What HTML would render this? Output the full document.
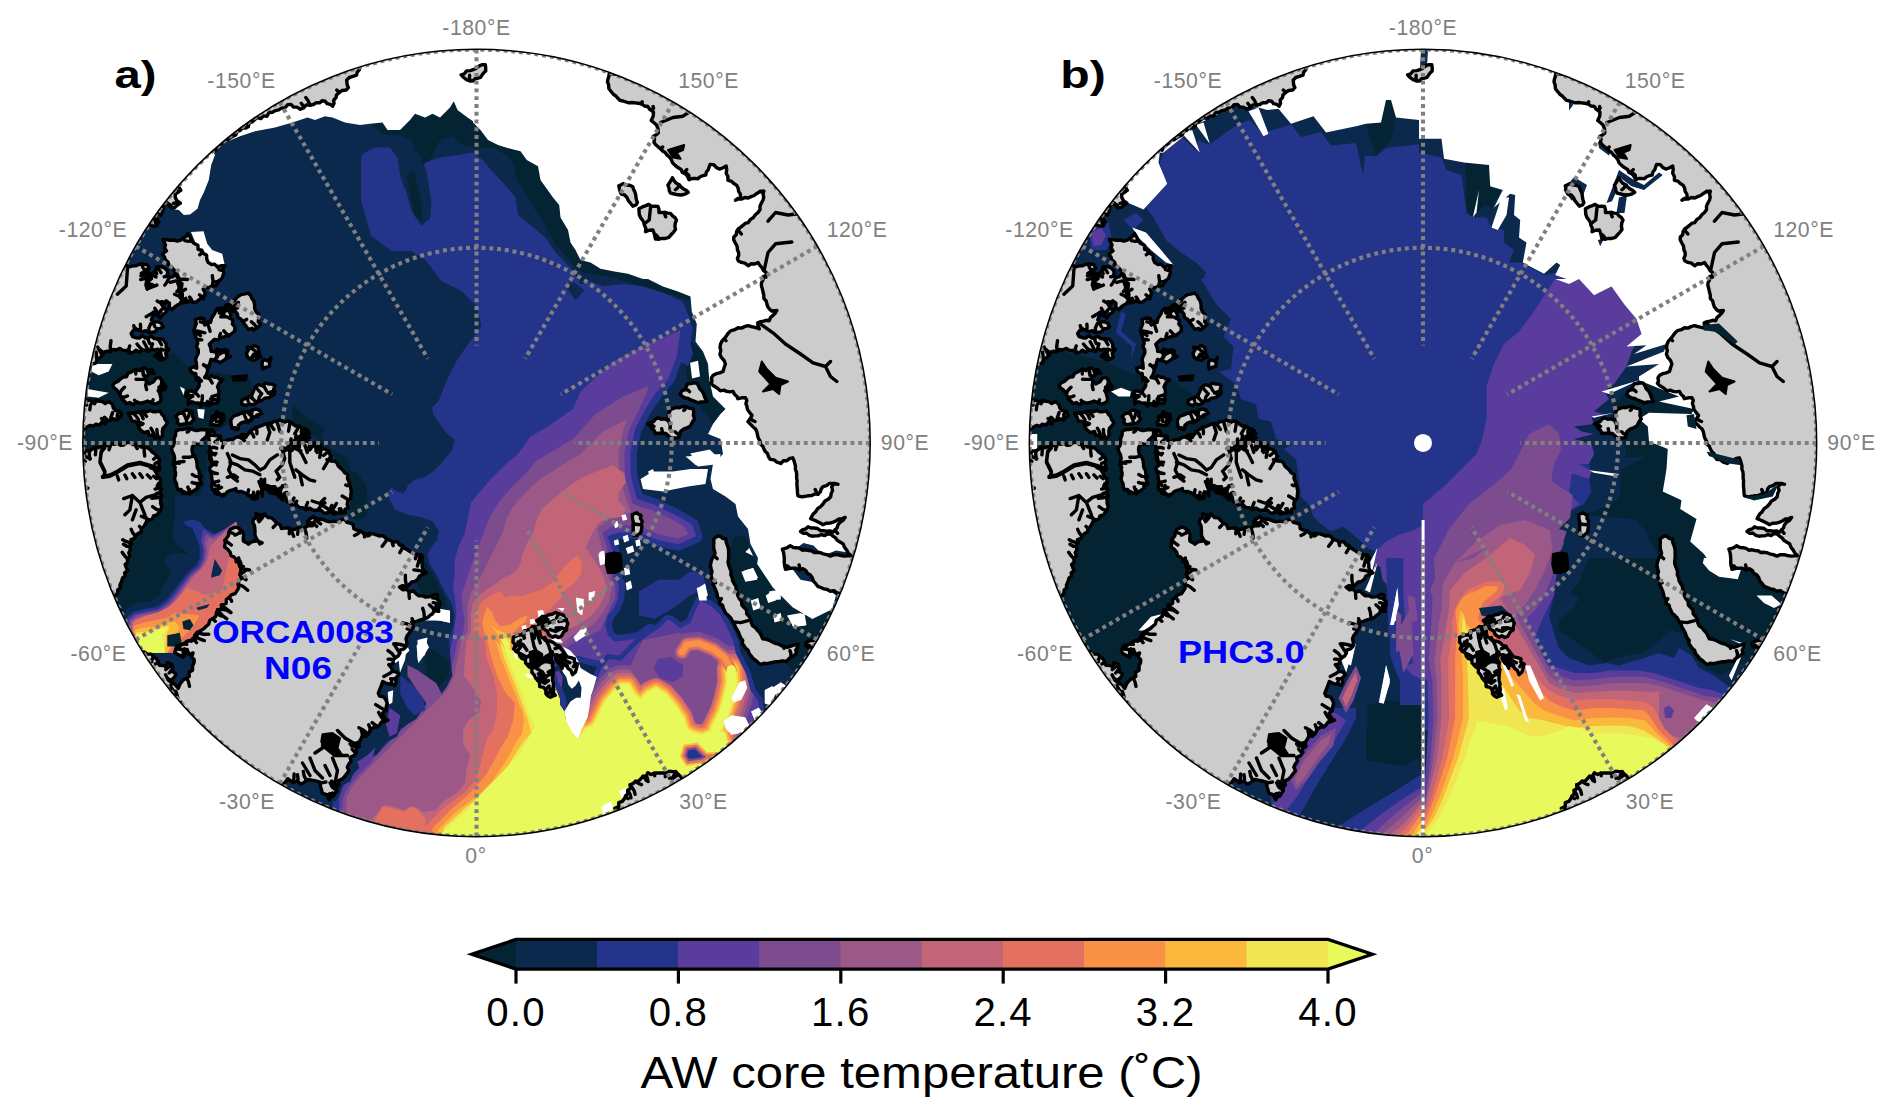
<!DOCTYPE html>
<html><head><meta charset="utf-8"><title>AW core temperature</title>
<style>
html,body{margin:0;padding:0;background:#fff}
body{width:1892px;height:1116px;overflow:hidden;font-family:"Liberation Sans",sans-serif}
svg{display:block}
text{font-family:"Liberation Sans",sans-serif}
.gl{font-size:21.2px;fill:#808080;text-anchor:middle;letter-spacing:0.55px}
.ct{font-size:40.2px;fill:#000;text-anchor:middle;letter-spacing:1.2px}
.cl{font-size:44.2px;fill:#000;text-anchor:middle;letter-spacing:1.45px}
.pl{font-size:38.5px;font-weight:bold;fill:#000}
.bl{font-size:31.6px;font-weight:bold;fill:#0000ff}
</style></head><body>
<svg width="1892" height="1116" viewBox="0 0 1892 1116">
<defs>
<clipPath id="clip0"><circle cx="476.5" cy="443.0" r="393.4"/></clipPath>
<clipPath id="clip1"><circle cx="1423.0" cy="443.0" r="393.4"/></clipPath>
</defs>
<rect width="1892" height="1116" fill="#fff"/>
<g clip-path="url(#clip0)">
<rect x="76" y="40" width="800" height="810" fill="#fff"/>
<path d="M60.0 30.0 L900.0 30.0 L900.0 860.0 L60.0 860.0Z" fill="#0a294d"/>
<path d="M370.0 123.8 L382.5 122.5 L387.5 130.0 L400.0 130.0 L410.0 120.0 L415.0 113.8 L425.0 117.5 L432.5 113.8 L440.0 117.5 L450.0 107.5 L453.8 101.2 L457.5 110.0 L467.5 117.5 L473.0 121.2 L473.0 147.5 L462.5 145.0 L452.5 136.2 L440.0 140.0 L430.0 160.0 L425.0 172.5 L412.5 170.0 L415.0 155.0 L412.5 140.0 L400.0 135.0 L382.5 135.0 L375.0 127.5Z" fill="#042333"/>
<path d="M473.0 121.2 L480.5 130.0 L488.0 140.0 L498.0 145.0 L510.5 148.8 L520.5 151.2 L526.8 160.0 L538.0 166.2 L540.5 180.0 L553.0 197.5 L559.2 205.0 L560.5 217.5 L568.0 230.0 L570.5 242.5 L575.5 250.0 L580.5 260.0 L590.5 262.5 L600.5 268.8 L613.0 271.2 L628.0 273.8 L643.0 279.0 L663.0 286.5 L678.0 291.5 L690.5 296.5 L688.0 300.0 L648.0 287.5 L613.0 277.5 L583.0 272.5 L573.0 265.0 L568.0 257.5 L555.5 245.0 L545.5 225.0 L536.8 212.5 L528.0 197.5 L516.8 180.0 L514.2 165.0 L508.0 156.2 L493.0 147.5 L473.0 147.5Z" fill="#042333"/>
<path d="M159.8 495.5 L174.8 503.0 L174.8 515.5 L172.3 534.2 L176.0 544.2 L183.5 549.2 L188.5 554.1 L177.3 552.9 L166.1 556.6 L163.6 562.9 L171.1 570.4 L168.6 577.8 L162.3 587.8 L159.8 595.3 L149.9 601.5 L136.1 602.8 L127.4 609.0 L123.7 615.3 L104.9 602.8 L104.9 495.5Z" fill="#042333"/>
<path d="M75.0 349.0 L120.0 346.5 L175.0 354.0 L190.0 369.0 L225.0 374.0 L250.0 379.0 L252.5 399.0 L240.0 419.0 L220.0 429.0 L205.0 439.0 L207.5 454.0 L205.0 479.0 L200.0 496.5 L175.0 499.0 L172.5 529.0 L150.0 554.0 L125.0 558.0 L75.0 558.0Z" fill="#042333"/>
<path d="M292.5 405.0 L309.9 420.0 L324.9 428.7 L321.2 437.4 L332.4 449.9 L347.4 458.6 L349.9 469.9 L357.3 472.3 L366.1 486.1 L367.3 499.8 L367.3 514.8 L359.8 521.0 L349.9 517.3 L351.1 494.8 L347.4 474.8 L329.9 451.1 L314.9 436.2 L292.5 424.9Z" fill="#042333"/>
<path d="M690.5 341.5 L705.5 354.0 L709.2 379.0 L713.0 396.5 L725.5 409.0 L713.0 424.0 L698.0 404.0 L688.0 384.0 L685.5 361.5Z" fill="#042333"/>
<path d="M365.0 152.5 L375.0 147.5 L390.0 147.5 L397.5 157.5 L400.0 175.0 L405.0 190.0 L410.0 180.0 L420.0 175.0 L425.0 162.5 L440.0 157.5 L457.5 155.0 L473.0 152.5 L473.0 153.8 L483.0 160.0 L493.0 172.5 L503.0 182.5 L515.5 197.5 L518.0 215.0 L530.5 225.0 L545.5 237.5 L555.5 252.5 L570.5 267.5 L578.0 279.0 L580.5 284.0 L590.5 281.5 L603.0 286.5 L623.0 284.0 L643.0 286.5 L663.0 292.8 L683.0 301.5 L688.0 314.0 L693.0 329.0 L690.5 344.0 L693.0 354.0 L688.0 366.5 L680.5 361.5 L660.0 400.0 L600.0 480.0 L540.0 600.0 L560.0 900.0 L500.0 900.0 L368.1 837.1 L371.7 819.2 L389.6 801.3 L443.3 657.9 L448.7 640.0 L451.6 631.3 L453.2 624.8 L454.8 615.2 L451.6 603.9 L445.2 592.6 L440.3 582.9 L435.5 573.2 L429.0 563.5 L427.4 553.9 L430.6 547.4 L437.1 539.4 L438.7 531.3 L432.3 521.6 L419.4 516.8 L409.7 515.2 L394.8 509.8 L389.8 499.8 L387.0 492.3 L391.0 487.3 L396.0 491.0 L403.5 493.6 L407.5 487.5 L407.0 486.0 L414.7 479.8 L424.7 477.3 L434.7 469.9 L442.0 462.4 L452.0 450.0 L454.6 440.0 L447.0 433.7 L439.7 423.7 L433.4 415.0 L432.0 407.5 L439.7 400.0 L436.3 406.4 L446.4 381.3 L456.4 361.3 L466.4 346.2 L481.5 326.1 L476.5 306.1 L461.4 291.0 L441.3 281.0 L426.3 260.9 L411.2 250.9 L391.2 250.9 L371.1 235.8 L361.1 200.7 L361.1 155.5Z" fill="#25348b"/>
<path d="M401.2 165.6 L406.2 150.5 L418.8 153.0 L426.3 170.6 L431.3 200.7 L430.3 218.3 L421.3 225.8 L411.2 210.7 L406.2 190.7Z" fill="#0a294d"/>
<path d="M406.2 175.6 L413.7 170.6 L421.3 200.7 L422.3 220.8 L415.2 215.8 L411.2 200.7Z" fill="#042333"/>
<path d="M565.5 286.5 L573.0 281.5 L584.2 290.2 L575.5 300.2Z" fill="#0a294d"/>
<path d="M686.9 331.1 L686.6 327.9 L684.7 325.3 L681.8 323.9 L678.6 324.0 L645.1 338.2 L609.1 356.3 L575.6 387.2 L567.8 404.7 L544.5 421.0 L526.1 431.7 L513.2 449.5 L503.4 457.4 L485.7 475.1 L465.6 498.6 L464.6 501.0 L458.3 532.4 L453.2 542.6 L453.2 663.5 L440.2 663.5 L437.3 673.4 L430.8 686.3 L356.3 760.8 L337.3 783.8 L332.9 797.4 L332.0 818.8 L329.3 855.2 L330.2 858.2 L332.4 860.5 L498.8 906.4 L560.0 906.5 L563.1 905.7 L565.4 903.6 L566.5 900.0 L566.5 699.4 L553.9 666.8 L577.4 662.0 L595.5 666.8 L614.7 665.7 L619.4 666.8 L622.1 666.6 L656.8 645.5 L658.4 643.7 L661.2 638.2 L661.9 634.6 L660.8 631.6 L654.6 625.3 L651.2 623.8 L648.7 624.0 L647.0 624.7 L637.7 631.7 L626.9 633.9 L616.5 634.8 L613.6 632.0 L611.9 625.2 L613.7 618.2 L619.7 610.8 L624.0 600.8 L625.5 585.0 L624.9 582.4 L621.6 576.8 L619.6 551.0 L615.8 540.3 L620.2 538.9 L637.6 538.9 L656.7 546.5 L678.3 550.7 L680.9 550.1 L699.3 542.0 L701.2 540.3 L702.1 538.6 L702.5 536.1 L702.2 534.3 L698.3 522.4 L696.7 519.9 L677.5 508.9 L657.5 498.9 L642.2 493.8 L637.4 476.2 L636.7 454.0 L641.1 432.0 L650.5 413.3 L659.9 398.2 L674.3 381.4 L683.4 356.5 L686.9 331.1Z" fill="#25348b"/>
<path d="M680.5 330.2 L648.0 344.0 L613.0 361.5 L580.5 391.5 L573.0 409.0 L548.0 426.5 L530.5 436.5 L518.0 454.0 L508.0 462.0 L490.3 479.7 L471.0 502.3 L464.5 534.5 L458.1 547.4 L454.8 560.3 L454.8 573.2 L453.2 586.1 L456.5 611.9 L453.2 637.7 L452.3 640.0 L448.7 657.9 L443.3 675.8 L436.2 690.2 L360.9 765.4 L343.0 786.9 L339.4 797.7 L338.5 819.2 L335.8 855.0 L500.0 900.0 L560.0 900.0 L560.0 700.0 L545.0 662.0 L577.6 655.4 L596.5 660.4 L615.3 659.1 L620.3 660.4 L627.8 655.4 L652.9 640.3 L655.4 635.3 L650.4 630.3 L640.4 637.8 L627.8 640.3 L614.0 641.6 L607.8 635.3 L605.2 625.2 L607.8 615.2 L614.0 607.7 L617.8 598.9 L619.0 585.1 L615.3 578.8 L613.2 552.1 L607.3 536.3 L619.1 532.4 L638.9 532.4 L658.6 540.3 L678.3 544.2 L696.0 536.3 L692.1 524.5 L674.4 514.6 L654.6 504.8 L636.9 498.8 L631.0 477.2 L630.2 453.5 L634.9 429.8 L644.8 410.1 L654.6 394.4 L668.4 378.6 L677.1 354.9 L680.5 330.2Z" fill="#5a3c9c"/>
<path d="M648.0 386.5 L623.0 396.5 L595.5 414.0 L573.0 439.0 L535.5 461.5 L529.0 470.0 L519.4 479.7 L509.7 489.4 L500.0 500.6 L490.3 515.2 L485.5 528.1 L480.6 541.0 L475.8 553.9 L471.0 566.8 L467.7 576.5 L464.5 586.1 L461.3 595.8 L462.9 608.7 L464.5 621.6 L462.9 634.5 L457.7 640.0 L454.1 657.9 L448.7 675.8 L441.6 690.2 L430.8 700.9 L420.1 711.7 L409.3 722.4 L398.5 733.2 L387.8 743.9 L377.0 754.7 L366.3 765.4 L357.3 776.2 L348.4 786.9 L343.0 797.7 L342.1 819.2 L339.4 855.0 L500.0 900.0 L560.0 900.0 L560.0 700.0 L545.0 662.0 L577.6 640.3 L590.2 635.3 L600.2 630.3 L605.2 619.0 L610.3 607.7 L615.3 597.6 L615.3 585.1 L612.1 577.6 L608.1 552.1 L602.6 532.4 L615.2 524.5 L638.9 526.5 L658.6 534.3 L678.3 538.3 L688.2 534.3 L684.2 526.5 L670.4 518.6 L652.7 510.7 L632.9 504.0 L625.1 477.2 L624.3 453.5 L629.0 429.8 L638.9 410.1 L647.5 390.4Z" fill="#7c4c8f"/>
<path d="M628.0 419.0 L603.0 431.5 L580.5 454.0 L555.5 469.0 L554.8 470.0 L541.9 478.1 L532.3 486.1 L522.6 495.8 L512.9 507.1 L506.5 518.4 L503.2 531.3 L496.8 544.2 L490.3 557.1 L485.5 566.8 L480.6 576.5 L475.8 586.1 L471.0 592.6 L467.7 603.9 L467.7 615.2 L467.7 631.3 L461.3 640.0 L457.7 657.9 L454.1 675.8 L446.9 690.2 L436.2 700.9 L425.4 711.7 L414.7 722.4 L403.9 733.2 L393.2 743.9 L382.4 754.7 L371.7 765.4 L360.9 776.2 L352.0 786.9 L346.6 797.7 L346.6 819.2 L344.8 855.0 L500.0 900.0 L560.0 900.0 L560.0 700.0 L545.0 662.0 L571.4 635.3 L583.9 630.3 L595.2 622.7 L602.7 612.7 L609.0 601.4 L611.5 588.9 L609.6 578.8 L602.6 552.1 L597.5 528.4 L611.3 516.6 L631.0 512.6 L627.0 500.8 L619.1 477.2 L618.4 453.5 L623.1 429.8 L627.0 420.0Z" fill="#9c5987"/>
<path d="M613.0 465.2 L600.0 470.0 L583.9 476.5 L571.0 484.5 L561.3 492.6 L551.6 500.6 L541.9 508.7 L537.1 518.4 L533.9 531.3 L527.4 542.6 L522.6 553.9 L519.4 566.8 L512.9 573.2 L503.2 578.1 L496.8 582.9 L487.1 589.4 L479.0 595.8 L472.6 603.9 L471.0 615.2 L471.0 631.3 L466.6 640.0 L464.8 657.9 L463.9 675.8 L472.0 686.6 L481.0 700.9 L479.2 711.7 L468.4 720.6 L463.1 729.6 L463.1 743.9 L470.2 754.7 L466.6 769.0 L464.8 783.3 L457.7 792.3 L448.7 797.7 L443.3 801.3 L436.2 810.2 L423.6 812.0 L414.7 806.6 L403.9 810.2 L393.2 806.6 L384.2 804.8 L378.8 812.0 L371.7 819.2 L368.1 855.0 L500.0 900.0 L560.0 900.0 L560.0 700.0 L545.0 662.0 L565.1 630.3 L577.6 625.2 L590.2 616.5 L599.0 606.4 L605.2 595.1 L606.5 585.1 L602.7 575.1 L599.0 567.5 L594.0 560.0 L585.5 547.4 L590.3 537.7 L593.5 531.3 L600.0 521.6 L609.7 518.4 L622.6 516.8 L625.8 508.7 L617.7 500.6 L619.4 491.0 L625.8 482.9 L624.2 473.2Z" fill="#c26579"/>
<path d="M577.4 555.5 L571.0 560.3 L564.5 566.8 L558.1 574.8 L551.6 582.9 L541.9 589.4 L532.3 592.6 L522.6 595.8 L512.9 595.8 L504.8 597.4 L500.0 591.0 L493.5 594.2 L485.5 599.0 L479.0 605.5 L474.2 615.2 L474.2 631.3 L484.6 640.0 L486.3 657.9 L493.5 675.8 L497.1 693.8 L497.1 711.7 L493.5 729.6 L486.3 740.3 L482.8 754.7 L479.2 769.0 L473.8 781.6 L464.8 792.3 L452.3 801.3 L443.3 808.4 L432.6 819.2 L425.4 826.3 L418.3 855.0 L500.0 900.0 L560.0 900.0 L560.0 700.0 L545.0 662.0 L545.2 611.9 L550.0 610.3 L554.8 603.9 L561.3 597.4 L566.1 589.4 L574.2 582.9 L580.6 574.8 L582.3 563.5Z" fill="#e47160"/>
<path d="M382.4 806.6 L393.2 808.4 L403.9 812.0 L411.1 806.6 L418.3 810.2 L425.4 819.2 L425.4 855.0 L371.7 855.0 L375.3 819.2Z" fill="#e47160"/>
<path d="M487.1 607.1 L483.9 615.2 L482.3 623.2 L483.9 631.3 L487.1 639.4 L490.3 650.0 L486.3 640.0 L491.7 657.9 L497.1 675.8 L506.1 693.8 L515.0 702.7 L513.2 720.6 L507.8 736.8 L500.7 747.5 L493.5 761.8 L486.3 774.4 L475.6 786.9 L464.8 797.7 L454.1 806.6 L443.3 817.4 L432.6 828.1 L425.4 855.0 L500.0 900.0 L560.0 900.0 L560.0 700.0 L545.0 662.0 L512.9 650.0 L512.9 632.9 L519.4 626.5 L525.8 621.6 L527.4 615.2 L519.4 618.4 L509.7 624.8 L500.0 626.5 L495.2 620.0 L491.9 611.9Z" fill="#f99146"/>
<path d="M490.3 624.8 L495.2 631.3 L500.0 637.7 L503.2 650.0 L495.3 640.0 L500.7 657.9 L507.8 675.8 L515.0 693.8 L522.2 711.7 L524.0 720.6 L522.2 733.2 L515.0 743.9 L509.6 754.7 L500.7 769.0 L491.7 781.6 L481.0 792.3 L470.2 801.3 L457.7 810.2 L446.9 821.0 L438.0 829.9 L432.6 855.0 L500.0 900.0 L560.0 900.0 L560.0 700.0 L545.0 662.0 L511.3 650.0 L511.3 636.1 L504.8 632.9 L496.8 629.7Z" fill="#fbb93c"/>
<path d="M499.2 637.7 L503.2 644.2 L505.6 650.0 L498.9 640.0 L504.3 657.9 L511.4 675.8 L518.6 693.8 L524.9 711.7 L529.3 724.2 L531.1 733.2 L523.1 742.1 L515.9 752.9 L507.0 767.2 L498.0 778.9 L487.2 790.5 L476.5 799.5 L464.8 808.4 L454.1 818.3 L444.2 827.2 L437.1 855.0 L500.0 900.0 L560.0 900.0 L560.0 700.0 L545.0 662.0 L510.5 650.0 L509.7 639.4 L504.8 637.7Z" fill="#f0e552"/>
<path d="M501.6 641.0 L504.8 645.8 L507.3 650.0 L502.5 640.0 L507.8 657.9 L515.0 675.8 L522.2 693.8 L527.6 711.7 L534.7 726.0 L540.1 733.2 L531.1 740.3 L522.2 751.1 L513.2 765.4 L504.3 776.2 L493.5 788.7 L482.8 797.7 L472.0 806.6 L461.3 815.6 L450.5 824.6 L441.6 833.5 L438.0 855.0 L500.0 900.0 L560.0 900.0 L560.0 700.0 L545.0 662.0 L509.7 650.0 L508.1 641.0 L504.8 639.4Z" fill="#e8fa5b"/>
<path d="M597.1 665.9 L592.0 678.8 L592.0 722.0 L765.2 722.0 L762.9 699.1 L755.2 688.6 L750.3 671.5 L740.4 651.6 L737.9 639.2 L733.0 628.3 L724.1 612.1 L713.7 601.7 L701.8 595.7 L698.9 595.8 L696.3 597.9 L691.0 608.4 L686.5 619.5 L680.9 622.3 L672.5 616.1 L667.5 615.0 L664.7 615.8 L656.5 623.9 L645.2 631.4 L635.1 639.4 L619.1 655.5 L609.5 653.9 L607.5 654.1 L605.9 655.1 L597.1 665.9Z" fill="#25348b"/>
<path d="M638.9 591.5 L658.6 579.7 L678.3 579.7 L690.1 571.8 L702.0 571.8 L706.7 587.6 L690.1 595.5 L674.4 607.3 L654.6 619.1 L638.9 615.2Z" fill="#25348b"/>
<path d="M589.7 701.7 L521.6 756.1 L473.0 806.7 L473.0 853.3 L745.2 853.3 L725.8 744.4 L760.8 728.9 L758.2 700.9 L750.7 690.9 L745.6 673.3 L735.6 653.2 L733.1 640.7 L728.6 630.7 L720.6 615.6 L710.5 605.6 L700.5 600.6 L695.5 610.6 L690.5 623.1 L680.4 628.2 L670.4 620.6 L667.4 620.0 L659.7 627.8 L648.0 635.6 L638.3 643.3 L620.8 660.8 L609.1 658.9 L601.3 668.6 L597.4 678.3 L589.7 701.7Z" fill="#5a3c9c"/>
<path d="M718.3 638.9 L700.8 632.1 L697.6 631.9 L684.8 633.0 L680.4 634.8 L677.8 637.2 L672.3 646.0 L670.9 649.1 L670.6 653.6 L672.0 657.8 L675.0 661.2 L679.0 663.2 L683.5 663.5 L686.7 662.6 L690.4 660.0 L693.6 655.3 L696.8 655.0 L707.4 659.3 L709.4 660.7 L707.7 667.8 L708.2 680.5 L705.8 691.8 L701.9 704.5 L699.9 708.5 L689.8 693.4 L678.6 680.2 L675.3 677.6 L663.9 670.9 L660.3 669.6 L654.6 669.1 L649.0 670.3 L643.8 672.8 L641.1 669.9 L637.9 667.6 L632.4 665.6 L628.6 665.2 L617.1 665.5 L611.8 667.4 L608.7 669.5 L599.6 678.5 L595.9 682.9 L589.7 701.7 L521.6 756.1 L473.0 806.7 L473.0 853.3 L745.2 853.3 L725.8 744.4 L756.3 730.9 L742.4 728.9 L746.4 720.4 L751.5 704.0 L753.5 694.6 L750.7 690.9 L745.6 673.3 L735.6 653.2 L734.2 646.2 L728.3 646.2 L718.3 638.9Z" fill="#7c4c8f"/>
<path d="M716.5 642.5 L700.0 636.0 L685.5 636.9 L682.7 638.1 L681.0 639.7 L674.8 650.1 L674.6 653.0 L675.5 655.8 L677.4 658.0 L680.1 659.3 L683.7 659.4 L686.4 658.2 L688.0 656.7 L691.3 651.5 L697.4 651.0 L709.4 655.8 L714.4 659.5 L712.9 662.5 L711.9 666.2 L711.6 670.1 L712.3 680.8 L709.7 692.8 L705.6 706.0 L699.3 718.6 L696.2 710.0 L686.7 696.0 L675.9 683.1 L663.5 675.2 L659.3 673.5 L656.3 673.1 L653.3 673.3 L650.4 674.0 L642.3 678.0 L638.5 672.9 L634.6 670.4 L631.6 669.5 L619.3 669.2 L613.7 670.9 L610.2 673.6 L602.4 681.3 L593.5 692.3 L592.0 694.5 L589.7 701.7 L587.6 703.3 L582.4 713.8 L580.4 714.8 L579.4 709.9 L521.6 756.1 L473.0 806.7 L473.0 853.3 L745.2 853.3 L725.8 744.4 L749.2 734.0 L739.3 732.7 L738.2 728.5 L742.5 719.2 L747.6 702.9 L750.4 689.9 L745.6 673.3 L735.6 653.2 L735.0 650.4 L731.2 650.0 L727.3 650.4 L716.5 642.5Z" fill="#9c5987"/>
<path d="M714.9 645.6 L699.3 639.4 L686.1 640.4 L683.7 641.8 L678.1 651.4 L678.2 653.4 L679.3 655.0 L681.0 655.9 L682.9 656.0 L685.2 654.5 L689.2 648.1 L697.9 647.4 L711.2 652.7 L719.3 658.8 L716.8 662.4 L715.4 666.9 L715.1 670.0 L715.8 681.0 L713.1 693.7 L708.8 707.3 L701.2 722.7 L696.5 721.5 L692.6 710.8 L684.1 698.2 L674.3 686.5 L671.4 684.0 L661.7 678.2 L657.4 676.7 L652.8 676.9 L641.1 682.7 L637.0 676.4 L634.2 674.2 L632.0 673.2 L628.6 672.7 L620.8 672.7 L617.4 673.2 L615.4 674.0 L612.6 676.0 L604.9 683.8 L595.5 695.5 L585.0 716.4 L578.4 720.1 L577.4 717.7 L576.3 712.3 L521.6 756.1 L473.0 806.7 L473.0 853.3 L745.2 853.3 L725.8 744.4 L743.1 736.8 L736.5 735.9 L734.4 728.2 L738.9 718.9 L744.1 702.6 L747.7 685.6 L748.1 681.8 L745.6 673.3 L736.1 654.3 L731.2 653.5 L726.5 654.2 L714.9 645.6Z" fill="#c26579"/>
<path d="M725.8 657.7 L713.6 648.3 L698.7 642.3 L686.4 643.4 L681.1 651.7 L681.5 652.9 L682.8 652.8 L687.5 645.3 L698.4 644.3 L712.6 650.0 L724.0 658.6 L720.8 661.6 L718.6 666.2 L718.1 670.0 L718.8 681.2 L716.0 694.5 L711.6 708.4 L703.5 725.1 L701.6 725.9 L696.0 724.8 L694.0 723.4 L690.5 713.1 L681.7 700.1 L671.4 687.8 L660.1 680.8 L656.1 679.6 L652.8 680.1 L643.4 684.8 L640.4 687.5 L635.4 679.1 L632.0 676.4 L629.4 675.7 L619.9 675.7 L617.5 676.3 L615.4 677.6 L606.4 686.6 L598.1 697.1 L587.2 718.7 L580.5 722.2 L577.6 725.8 L574.5 718.6 L573.7 714.5 L521.6 756.1 L473.0 806.7 L473.0 853.3 L745.2 853.3 L725.8 744.4 L737.8 739.1 L734.1 738.6 L732.1 730.7 L731.0 728.3 L736.1 717.9 L741.5 700.5 L745.0 683.4 L744.4 670.9 L738.3 658.5 L735.9 657.3 L732.6 656.6 L728.7 656.7 L725.8 657.7Z" fill="#e47160"/>
<path d="M691.9 725.0 L688.0 713.9 L679.8 701.7 L668.6 688.7 L658.3 682.6 L655.4 682.1 L653.1 682.7 L644.8 686.9 L640.2 691.2 L639.1 690.2 L633.4 680.6 L631.5 678.9 L628.6 678.2 L620.2 678.2 L617.9 678.9 L608.8 687.7 L600.2 698.4 L589.1 720.5 L582.1 724.2 L577.2 730.7 L572.1 719.3 L571.5 716.2 L521.6 756.1 L473.0 806.7 L473.0 853.3 L745.2 853.3 L725.8 744.4 L733.4 741.1 L732.2 740.9 L729.5 730.8 L728.1 728.5 L733.9 716.5 L739.0 700.3 L742.5 683.7 L741.5 667.2 L739.8 663.4 L737.2 660.8 L732.9 659.1 L728.8 659.3 L724.6 661.3 L721.7 664.9 L720.6 669.5 L721.3 681.4 L718.4 695.1 L714.0 709.4 L706.6 724.1 L705.6 727.0 L701.9 728.5 L695.1 727.1 L691.9 725.0Z" fill="#f99146"/>
<path d="M690.1 726.4 L686.2 715.1 L678.1 703.1 L667.4 690.6 L657.4 684.6 L655.2 684.3 L645.9 688.7 L640.2 694.3 L637.4 691.5 L630.8 681.1 L628.6 680.4 L620.8 680.4 L619.0 680.8 L610.3 689.3 L602.0 699.6 L590.7 722.2 L583.2 726.1 L577.8 733.6 L575.2 732.1 L570.0 720.0 L569.5 717.8 L521.6 756.1 L473.0 806.7 L473.0 853.3 L745.2 853.3 L725.8 744.4 L730.4 742.4 L727.4 731.5 L726.7 730.2 L725.3 729.3 L731.8 715.8 L736.9 699.7 L740.3 683.4 L739.5 668.1 L738.3 665.0 L736.3 662.9 L733.0 661.4 L729.3 661.4 L726.0 663.0 L723.5 666.3 L722.8 669.5 L723.5 681.6 L720.6 695.6 L716.0 710.2 L708.5 725.3 L707.7 728.5 L702.1 730.8 L694.2 729.2 L690.1 726.4Z" fill="#fbb93c"/>
<path d="M688.4 727.7 L684.5 716.2 L676.6 704.4 L666.4 692.3 L656.7 686.5 L655.5 686.3 L647.0 690.4 L640.2 697.2 L635.8 692.8 L629.6 682.7 L628.6 682.4 L619.9 682.6 L611.7 690.7 L603.7 700.7 L592.2 723.7 L584.5 727.6 L578.4 736.2 L573.6 733.5 L567.8 719.2 L521.6 756.1 L473.0 806.7 L473.0 853.3 L745.2 853.3 L725.8 744.4 L728.6 743.2 L725.5 732.0 L724.5 731.1 L722.3 730.7 L729.9 715.3 L734.8 699.6 L738.3 683.6 L737.5 668.5 L736.7 666.3 L735.0 664.4 L732.6 663.3 L729.5 663.4 L726.9 664.8 L725.2 667.4 L724.8 669.9 L725.6 681.7 L722.5 696.2 L717.9 710.9 L710.1 726.5 L709.7 729.9 L702.3 732.8 L693.4 731.1 L688.4 727.7Z" fill="#f0e552"/>
<path d="M729.3 654.8 L715.6 644.3 L699.1 637.9 L686.4 638.8 L683.8 639.8 L682.2 641.4 L677.4 649.2 L676.5 651.7 L676.8 653.8 L677.9 655.7 L679.6 657.0 L681.6 657.6 L683.8 657.3 L685.6 656.2 L690.1 649.6 L697.7 648.9 L710.4 654.0 L720.6 661.6 L727.4 673.5 L729.2 674.7 L731.8 675.0 L733.9 674.4 L735.5 673.0 L736.5 671.1 L736.7 669.0 L736.0 666.9 L729.3 654.8Z" fill="#e47160"/>
<path d="M727.4 656.1 L714.6 646.3 L698.9 640.1 L685.4 641.5 L684.2 642.6 L679.3 650.4 L678.8 651.9 L679.0 653.1 L679.8 654.4 L681.2 655.2 L682.7 655.2 L684.6 654.0 L688.7 647.4 L698.1 646.6 L711.6 652.0 L722.3 660.1 L728.8 671.6 L730.3 672.7 L732.2 672.6 L734.1 671.1 L734.3 668.6 L727.4 656.1Z" fill="#f99146"/>
<path d="M629.7 668.5 L634.0 675.8 L636.6 678.2 L640.7 685.1 L643.5 683.0 L651.3 679.1 L656.1 678.1 L660.1 679.0 L671.5 685.9 L682.9 699.2 L691.3 711.7 L695.3 722.5 L696.6 723.4 L699.8 724.0 L702.0 724.0 L702.6 723.3 L710.2 707.9 L714.5 694.1 L717.3 681.1 L716.7 668.6 L717.3 665.3 L718.4 662.5 L709.4 655.8 L697.4 651.0 L691.3 651.5 L687.5 657.2 L684.4 659.2 L682.3 659.6 L680.1 659.3 L676.9 657.6 L674.9 654.5 L674.6 650.8 L675.6 648.1 L680.5 640.3 L682.1 638.5 L684.1 637.4 L690.4 636.5 L679.0 632.7 L642.8 640.3 L635.3 655.4 L629.7 668.5Z" fill="#7c4c8f"/>
<path d="M657.7 658.9 L653.8 668.6 L659.7 678.3 L673.3 682.2 L683.0 676.4 L683.0 664.7 L671.3 656.9 L657.7 658.9Z" fill="#5a3c9c"/>
<path d="M728.2 714.7 L733.2 698.7 L736.6 682.4 L735.7 668.4 L734.3 666.1 L731.8 665.0 L728.8 665.7 L726.9 668.1 L726.6 669.9 L727.4 681.9 L724.2 696.6 L719.5 711.6 L711.8 727.2 L711.5 729.0 L711.9 730.9 L702.4 734.7 L692.7 732.8 L686.9 728.9 L683.0 717.2 L675.2 705.6 L665.5 693.9 L655.8 688.1 L648.0 691.9 L640.2 699.7 L634.4 693.9 L628.6 684.2 L620.8 684.2 L613.0 691.9 L605.2 701.7 L593.6 725.0 L585.8 728.9 L579.0 738.6 L572.2 734.7 L566.3 721.1 L564.4 711.4 L560.5 705.6 L546.6 694.2 L547.6 697.6 L534.5 727.5 L519.2 754.3 L470.3 805.3 L470.0 806.7 L470.0 853.3 L803.5 853.3 L803.5 756.1 L727.7 746.4 L723.8 732.8 L719.4 732.0 L728.2 714.7Z" fill="#e8fa5b"/>
<path d="M684.6 744.4 L683.1 745.6 L680.0 756.3 L685.2 764.9 L686.4 765.8 L703.1 763.8 L717.0 755.9 L718.0 754.7 L717.7 753.0 L716.4 752.2 L707.2 752.2 L697.2 742.5 L684.6 744.4Z" fill="#fbb93c"/>
<path d="M684.9 746.4 L682.0 756.1 L686.9 763.9 L702.4 761.9 L716.0 754.2 L706.3 754.2 L696.6 744.4 L684.9 746.4Z" fill="#e47160"/>
<path d="M686.9 748.6 L684.7 755.7 L688.2 761.2 L701.6 759.5 L706.6 756.7 L704.7 756.1 L695.7 747.1 L686.9 748.6Z" fill="#7c4c8f"/>
<path d="M688.4 750.4 L686.9 755.4 L689.2 759.1 L701.0 757.6 L702.5 756.7 L695.1 749.3 L688.4 750.4Z" fill="#25348b"/>
<path d="M174.8 503.0 L174.8 515.5 L172.3 534.2 L176.0 544.2 L183.5 549.2 L188.5 554.1 L177.3 552.9 L166.1 556.6 L163.6 562.9 L171.1 570.4 L168.6 577.8 L162.3 587.8 L159.8 595.3 L149.9 601.5 L136.1 602.8 L127.4 609.0 L123.7 615.3 L117.4 652.7 L242.2 652.7 L254.6 577.8 L242.2 540.4 L235.9 521.7 L242.2 509.2 L242.2 495.5 L174.8 495.5Z" fill="#0a294d"/>
<path d="M183.5 521.7 L186.0 525.5 L192.3 527.9 L196.0 536.7 L199.7 546.7 L199.7 557.9 L196.0 565.4 L187.3 572.9 L179.8 582.8 L172.3 592.8 L166.1 600.3 L157.3 606.5 L144.9 609.0 L133.6 611.5 L127.4 616.5 L121.2 652.7 L242.2 652.7 L254.6 577.8 L242.2 540.4 L235.9 521.7 L223.4 529.8 L214.7 534.2 L204.7 527.9 L199.7 521.7 L192.3 519.2Z" fill="#25348b"/>
<path d="M203.5 529.2 L201.0 540.4 L203.5 550.4 L202.2 559.1 L198.5 566.6 L189.8 574.1 L182.3 584.1 L174.8 594.1 L167.3 602.8 L158.6 609.0 L146.1 611.5 L134.9 614.0 L128.6 619.0 L123.7 652.7 L242.2 652.7 L254.6 577.8 L242.2 540.4 L235.9 521.7 L222.2 530.4 L212.2 535.4Z" fill="#5a3c9c"/>
<path d="M206.0 534.2 L203.5 541.7 L205.4 550.4 L204.1 559.8 L199.7 567.9 L191.0 575.3 L183.5 585.3 L176.0 595.3 L168.6 604.0 L159.8 610.3 L147.4 612.8 L136.1 615.3 L129.9 620.3 L126.2 652.7 L242.2 652.7 L254.6 577.8 L242.2 540.4 L235.9 521.7 L221.0 532.9 L212.8 537.3Z" fill="#7c4c8f"/>
<path d="M209.1 537.9 L206.0 542.9 L207.2 551.6 L205.4 561.0 L200.4 569.1 L191.6 576.6 L184.8 585.9 L177.3 596.6 L169.8 605.3 L161.1 611.3 L148.0 614.0 L136.8 617.1 L131.1 621.5 L128.0 652.7 L242.2 652.7 L254.6 577.8 L242.2 540.4 L235.9 521.7 L219.7 535.4 L214.1 539.2Z" fill="#9c5987"/>
<path d="M217.2 539.2 L209.7 546.7 L208.5 555.4 L206.0 562.9 L199.7 570.4 L192.3 577.8 L186.0 586.6 L178.5 597.8 L171.1 606.5 L161.7 612.3 L148.6 615.3 L137.4 619.0 L132.4 622.7 L129.9 652.7 L242.2 652.7 L254.6 577.8 L242.2 540.4 L235.9 521.7 L218.5 537.9Z" fill="#c26579"/>
<path d="M222.2 590.3 L204.7 595.3 L194.8 590.3 L187.3 587.8 L182.3 592.8 L174.8 601.5 L167.3 607.8 L157.3 612.8 L144.9 615.9 L133.6 620.9 L131.1 652.7 L242.2 652.7 L254.6 577.8 L242.2 540.4 L235.9 521.7Z" fill="#e47160"/>
<path d="M184.8 614.0 L174.8 612.8 L167.3 617.8 L154.8 620.3 L142.4 622.7 L133.6 625.9 L132.4 652.7 L167.3 652.7 L192.3 627.7 L199.7 615.3Z" fill="#f99146"/>
<path d="M174.8 621.5 L167.3 622.7 L157.3 626.5 L142.4 627.7 L134.9 630.2 L133.6 652.7 L167.3 652.7 L179.8 627.7Z" fill="#fbb93c"/>
<path d="M169.8 625.9 L161.1 627.1 L151.1 630.9 L136.1 632.7 L134.9 652.7 L164.8 652.7 L166.1 635.2Z" fill="#f0e552"/>
<path d="M167.3 627.7 L159.8 629.0 L149.9 632.7 L137.4 634.6 L136.1 652.7 L164.8 652.7 L162.3 635.2Z" fill="#e8fa5b"/>
<path d="M214.7 559.1 L217.2 562.9 L222.2 570.4 L219.7 575.3 L211.0 577.8 L212.2 570.4Z" fill="#0a294d"/>
<path d="M196.0 607.8 L209.7 604.0 L207.2 607.8 L198.5 610.3Z" fill="#0a294d"/>
<path d="M182.3 621.5 L189.8 619.0 L193.5 625.2 L189.8 630.2 L183.5 629.0Z" fill="#042333"/>
<path d="M167.3 635.2 L179.8 632.7 L182.3 646.4 L167.3 646.4Z" fill="#042333"/>
<path d="M400.0 516.8 L419.4 516.8 L432.3 521.6 L438.7 531.3 L437.1 539.4 L430.6 547.4 L427.4 553.9 L429.0 563.5 L435.5 573.2 L440.3 582.9 L445.2 592.6 L451.6 603.9 L454.8 615.2 L453.2 624.8 L451.6 631.3 L448.7 640.0 L450.5 657.9 L452.3 675.8 L446.9 686.6 L441.6 693.8 L436.2 697.3 L429.0 699.1 L423.6 708.1 L416.5 718.8 L407.5 724.2 L400.3 729.6 L396.8 736.8 L389.6 740.3 L382.4 747.5 L377.0 754.7 L368.1 758.3 L362.7 765.4 L353.8 772.6 L350.2 781.6 L343.0 785.1 L339.4 794.1 L335.8 801.3 L317.9 801.3 L317.9 747.5 L371.7 640.0 L400.0 582.9Z" fill="#0a294d"/>
<path d="M423.6 647.2 L436.2 650.8 L448.7 661.5 L448.7 675.8 L439.8 686.6 L429.0 679.4 L425.4 666.9Z" fill="#042333"/>
<path d="M409.7 560.3 L424.2 560.3 L432.3 573.2 L438.7 586.1 L445.2 599.0 L448.4 615.2 L441.9 624.8 L432.3 615.2 L424.2 599.0 L416.1 582.9Z" fill="#042333"/>
<path d="M400.3 675.8 L414.7 686.6 L423.6 699.1 L425.4 709.9 L414.7 715.3 L407.5 708.1 L400.3 693.8Z" fill="#25348b"/>
<path d="M407.5 665.1 L418.3 670.5 L425.4 675.8 L436.2 683.0 L441.6 693.8 L436.2 700.9 L429.0 708.1 L423.6 699.1 L414.7 686.6 L407.5 675.8Z" fill="#7c4c8f"/>
<path d="M389.6 708.1 L400.3 715.3 L396.8 733.2 L389.6 736.8 L386.0 724.2Z" fill="#5a3c9c"/>
<path d="M357.3 761.8 L368.1 754.7 L375.3 747.5 L371.7 761.8 L360.9 772.6Z" fill="#5a3c9c"/>
<path d="M727.6 552.1 L735.5 536.3 L745.3 536.3 L757.2 563.9 L772.9 587.6 L792.6 607.3 L812.4 619.1 L832.1 609.3 L843.9 634.9 L796.6 674.3 L780.8 658.5 L765.0 650.7 L745.3 627.0 L733.5 595.5 L727.6 571.8Z" fill="#042333"/>
<path d="M213.8 153.0 L215.0 155.0 L211.2 165.0 L208.8 180.0 L203.8 192.5 L200.0 200.0 L197.5 208.8 L190.0 214.5 L183.8 215.0 L178.8 210.0 L175.0 209.5 L172.5 200.0 L150.0 190.0 L175.0 150.0Z" fill="#ffffff"/>
<path d="M213.8 153.0 L225.0 142.5 L240.0 136.2 L255.0 131.2 L275.0 127.5 L292.5 122.5 L307.5 117.5 L315.0 120.0 L325.0 116.2 L332.5 117.5 L345.0 122.5 L360.0 125.0 L370.0 123.8 L382.5 122.5 L387.5 130.0 L400.0 130.0 L410.0 120.0 L415.0 113.8 L425.0 117.5 L432.5 113.8 L440.0 117.5 L450.0 107.5 L453.8 101.2 L457.5 110.0 L467.5 117.5 L473.0 121.2 L473.0 122.5 L480.5 130.0 L488.0 140.0 L498.0 145.0 L510.5 148.8 L520.5 151.2 L526.8 160.0 L538.0 166.2 L540.5 180.0 L553.0 197.5 L559.2 205.0 L560.5 217.5 L568.0 230.0 L570.5 242.5 L575.5 250.0 L580.5 260.0 L590.5 262.5 L600.5 268.8 L613.0 271.2 L628.0 273.8 L643.0 279.0 L648.0 279.0 L663.0 286.5 L678.0 291.5 L690.5 296.5 L691.8 311.5 L696.8 324.0 L695.5 341.5 L703.0 351.5 L708.0 364.0 L709.2 379.0 L713.0 396.5 L725.5 409.0 L720.5 414.0 L713.0 424.0 L708.0 434.0 L720.5 439.0 L723.0 454.0 L713.0 464.0 L710.5 479.0 L713.0 489.0 L725.5 496.5 L735.5 504.0 L738.0 516.5 L748.0 529.0 L750.5 544.0 L758.0 558.0 L757.2 563.9 L772.9 587.6 L792.6 607.3 L812.4 619.1 L832.1 609.3 L836.0 595.5 L820.3 583.6 L800.5 579.7 L788.7 563.9 L792.6 552.1 L796.6 544.2 L836.0 516.6 L836.0 398.3 L914.9 358.9 L900.0 300.0 L900.0 20.0 L200.0 20.0Z" fill="#ffffff"/>
<path d="M690.1 453.5 L709.8 449.6 L717.7 457.4 L698.0 463.4Z" fill="#ffffff"/>
<path d="M690.1 362.8 L698.0 360.8 L700.0 376.6 L692.1 378.6Z" fill="#ffffff"/>
<path d="M741.4 571.8 L753.2 567.9 L757.2 579.7 L745.3 581.7Z" fill="#ffffff"/>
<path d="M769.0 591.5 L780.8 589.5 L780.8 599.4 L771.0 600.2Z" fill="#ffffff"/>
<path d="M790.7 615.2 L804.5 613.2 L806.5 625.0 L792.6 626.2Z" fill="#ffffff"/>
<path d="M745.3 552.1 L749.3 548.1 L753.2 556.0Z" fill="#ffffff"/>
<path d="M769.0 690.1 L780.8 682.2 L792.6 690.1 L780.8 698.0Z" fill="#ffffff"/>
<path d="M698.8 587.6 L705.1 583.6 L707.9 595.5 L701.2 600.2Z" fill="#ffffff"/>
<path d="M599.4 552.1 L604.2 550.5 L605.7 563.9 L601.0 564.7Z" fill="#ffffff"/>
<path d="M581.9 697.8 L591.6 690.0 L589.7 705.6 L587.7 717.2 L581.9 728.9 L578.0 738.6 L572.2 732.8 L566.3 721.1 L564.4 711.4 L570.2 701.7 L576.1 697.8Z" fill="#ffffff"/>
<path d="M731.6 697.8 L739.4 682.2 L745.2 680.3 L747.2 688.1 L741.3 699.7 L733.5 702.6Z" fill="#ffffff"/>
<path d="M723.8 721.1 L731.6 715.3 L745.2 717.2 L749.1 725.0 L743.3 732.8 L731.6 734.7 L725.8 728.9Z" fill="#ffffff"/>
<path d="M764.7 690.0 L772.4 686.1 L776.3 691.9 L770.5 705.6 L764.7 703.6Z" fill="#ffffff"/>
<path d="M751.0 711.4 L758.8 707.5 L762.7 713.3 L754.9 721.1Z" fill="#ffffff"/>
<path d="M618.8 791.1 L628.6 787.2 L630.5 795.0 L622.7 800.8Z" fill="#ffffff"/>
<path d="M601.3 806.7 L611.1 800.8 L613.0 808.6 L603.3 814.4Z" fill="#ffffff"/>
<path d="M640.5 479.0 L653.0 471.5 L673.0 471.5 L690.5 469.0 L708.0 469.0 L705.5 484.0 L688.0 486.5 L663.0 491.5 L643.0 489.0Z" fill="#ffffff"/>
<path d="M685.5 456.5 L720.5 454.0 L719.2 464.0 L698.0 466.5Z" fill="#ffffff"/>
<path d="M648.0 471.5 L653.0 469.0 L655.5 476.5 L650.5 479.0Z" fill="#ffffff"/>
<path d="M416.5 645.4 L425.4 640.0 L429.0 647.2 L423.6 656.1 L418.3 663.3Z" fill="#ffffff"/>
<path d="M393.2 652.5 L407.5 645.4 L409.3 650.8 L400.3 659.7 L395.0 663.3Z" fill="#ffffff"/>
<path d="M387.8 692.0 L393.2 690.2 L392.3 702.7 L388.7 704.5Z" fill="#ffffff"/>
<path d="M435.0 610.0 L450.0 612.5 L450.0 622.5 L435.0 620.0Z" fill="#ffffff"/>
<path d="M417.5 640.0 L427.5 637.5 L425.0 655.0 L417.5 660.0Z" fill="#ffffff"/>
<path d="M397.5 650.0 L407.5 642.5 L405.0 660.0 L400.0 672.5Z" fill="#ffffff"/>
<path d="M435.0 608.0 L450.0 610.5 L450.0 623.0 L440.0 620.5 L425.0 620.5Z" fill="#ffffff"/>
<path d="M575.8 597.4 L583.9 599.0 L582.3 615.2 L577.4 611.9Z" fill="#ffffff"/>
<path d="M588.7 592.6 L595.2 591.0 L593.5 600.6 L588.7 600.6Z" fill="#ffffff"/>
<path d="M574.2 636.1 L585.5 629.7 L587.1 634.5 L577.4 641.0Z" fill="#ffffff"/>
<path d="M598.4 553.9 L603.2 552.3 L604.8 563.5 L600.0 565.2Z" fill="#ffffff"/>
<path d="M537.6 610.8 L543.0 609.9 L544.8 616.1 L538.5 617.9Z" fill="#ffffff"/>
<path d="M529.6 619.7 L534.1 618.8 L535.8 623.3 L530.5 624.2Z" fill="#ffffff"/>
<path d="M521.5 626.0 L526.0 625.1 L526.9 629.6 L522.4 630.5Z" fill="#ffffff"/>
<path d="M557.3 608.1 L564.5 608.1 L562.7 611.6Z" fill="#ffffff"/>
<path d="M550.2 637.6 L560.9 639.4 L562.7 643.0 L553.8 642.1Z" fill="#ffffff"/>
<path d="M562.7 646.6 L569.9 650.2 L576.2 657.3 L578.9 662.7 L580.6 668.1 L589.6 673.5 L596.8 677.1 L593.2 689.6 L589.6 700.0 L580.6 700.0 L581.5 687.8 L578.9 680.6 L575.3 686.0 L571.7 688.7 L568.1 684.2 L566.3 677.1 L562.7 671.7 L561.8 668.1 L564.5 662.7 L568.1 668.1 L571.7 673.5 L574.4 671.7 L576.2 664.5 L568.1 655.6Z" fill="#ffffff"/>
<path d="M573.5 637.6 L580.6 629.6 L586.0 626.9 L586.9 630.5 L580.6 637.6 L576.2 642.1Z" fill="#ffffff"/>
<path d="M578.0 602.7 L582.4 600.0 L584.2 605.4 L580.6 615.2 L578.9 610.8Z" fill="#ffffff"/>
<path d="M512.5 650.2 L516.1 653.8 L517.9 659.1 L515.2 658.2Z" fill="#ffffff"/>
<path d="M525.1 673.5 L530.5 674.4 L533.2 678.9 L526.9 677.1Z" fill="#ffffff"/>
<path d="M555.6 671.7 L559.1 670.8 L562.7 677.1 L561.8 687.8 L558.2 682.4Z" fill="#5a3c9c"/>
<path d="M613.2 522.8 L617.2 520.8 L619.2 526.6 L615.2 528.3Z" fill="#ffffff"/>
<path d="M621.5 515.3 L625.7 514.3 L627.2 519.8 L622.7 520.8Z" fill="#ffffff"/>
<path d="M622.7 536.6 L627.7 534.8 L629.2 540.4 L624.2 542.4Z" fill="#ffffff"/>
<path d="M625.7 547.9 L632.8 545.4 L634.3 551.6 L627.7 554.1Z" fill="#ffffff"/>
<path d="M635.3 540.4 L639.8 539.1 L640.8 545.4 L636.3 546.4Z" fill="#ffffff"/>
<path d="M613.9 540.4 L618.2 539.3 L619.2 544.4 L614.7 545.4Z" fill="#ffffff"/>
<path d="M625.7 583.0 L630.7 580.5 L632.3 588.0 L626.7 590.5Z" fill="#ffffff"/>
<path d="M624.0 567.9 L629.0 566.7 L630.2 574.2 L624.7 575.5Z" fill="#ffffff"/>
<path d="M687.9 457.6 L710.5 455.1 L715.5 462.6 L695.5 465.1Z" fill="#ffffff"/>
<path d="M696.7 588.0 L705.5 585.5 L706.8 600.6 L699.2 600.6Z" fill="#ffffff"/>
<path d="M744.4 570.5 L753.2 567.9 L758.2 578.0 L750.7 580.5Z" fill="#ffffff"/>
<path d="M787.0 615.6 L800.8 613.1 L805.9 625.6 L793.3 626.9Z" fill="#ffffff"/>
<path d="M765.7 595.5 L773.2 590.5 L775.8 600.6 L768.2 603.1Z" fill="#ffffff"/>
<path d="M750.7 600.6 L758.2 598.1 L760.7 608.1 L753.2 610.6Z" fill="#ffffff"/>
<path d="M773.2 615.6 L780.8 613.1 L782.0 620.6 L774.5 622.6Z" fill="#ffffff"/>
<path d="M191.0 231.9 L203.5 231.2 L207.2 243.7 L212.2 249.9 L222.2 253.7 L224.7 264.9 L211.0 264.3 L202.9 252.4 L196.6 245.6Z" fill="#ffffff"/>
<path d="M92.5 364.0 L112.4 364.0 L108.7 371.5 L98.7 375.2 L91.2 371.5Z" fill="#ffffff"/>
<path d="M87.5 388.9 L108.7 392.7 L98.7 397.7 L87.5 396.4Z" fill="#ffffff"/>
<path d="M197.3 408.9 L204.7 409.5 L203.5 418.9 L198.5 417.6Z" fill="#ffffff"/>
<path d="M179.8 386.5 L184.8 388.9 L183.5 395.2Z" fill="#ffffff"/>
<path d="M119.9 380.2 L133.6 372.7 L142.4 370.2 L134.9 376.5 L122.4 382.7Z" fill="#ffffff"/>
<path d="M783.3 540.4 L800.8 530.3 L825.9 536.6 L841.0 532.8 L856.0 522.8 L876.1 522.8 L876.1 557.9 L851.0 552.9 L836.0 550.4 L823.4 555.4 L813.4 545.4 L803.4 542.9 L793.3 550.4Z" fill="#fff"/>
<path d="M798.3 531.6 L810.9 529.1 L825.9 533.3 L836.0 530.8 L848.5 517.8 L836.0 521.5 L825.9 525.3 L820.9 516.5 L810.9 514.0 L798.3 520.3Z" fill="#fff"/>
<path d="M798.0 531.5 L810.5 525.2 L823.0 526.5 L835.5 522.8 L848.0 516.5 L843.0 529.0 L833.0 532.8 L818.0 537.8 L805.5 536.5Z" fill="#fff"/>
<g transform="translate(0.0 0)">
<path d="M165.4 202.1 L168.4 203.5 L170.9 205.5 L171.6 207.7 L174.8 207.4 L176.8 205.6 L180.2 203.2 L176.9 200.6 L175.3 197.4 L175.2 194.1 L178.2 192.0 L180.8 190.4 L179.5 188.0 L178.7 185.2 L175.9 184.5 L173.5 182.3 L170.8 180.8 L168.1 179.4 L165.4 177.9 L162.7 176.5 L160.0 175.0 L158.6 177.9 L157.1 180.7 L155.7 183.6 L154.3 186.4 L152.9 189.3 L151.4 192.1 L150.0 195.0 L148.6 197.9 L147.1 200.7 L145.7 203.6 L144.3 206.4 L142.9 209.3 L141.4 212.1 L140.0 215.0 L143.0 215.0 L146.0 215.0 L149.0 215.1 L152.0 215.7 L155.0 216.5 L157.5 213.5 L160.8 215.3 L162.4 212.3 L163.1 209.0 L164.0 205.7Z M140.0 225.0 L143.2 226.5 L146.7 225.8 L149.7 224.9 L153.2 226.1 L157.0 225.7 L157.9 222.9 L158.8 222.2 L157.5 219.8 L155.7 217.8 L154.9 214.9 L151.9 215.8 L150.4 218.9 L147.8 220.4 L144.2 220.4 L142.5 223.3Z M181.4 287.4 L180.6 290.9 L182.4 294.1 L182.2 297.5 L183.5 300.8 L183.2 303.0 L186.2 302.1 L189.2 301.1 L192.7 302.2 L195.9 302.1 L198.6 300.1 L201.4 298.1 L203.2 298.8 L204.4 295.7 L205.1 292.6 L203.2 289.2 L206.1 287.6 L209.5 287.5 L212.3 285.6 L215.9 285.8 L217.6 283.3 L219.1 280.7 L221.9 278.5 L222.9 275.7 L224.0 272.9 L222.8 269.3 L224.8 265.7 L221.3 265.8 L217.7 267.2 L214.6 264.1 L211.6 264.5 L208.2 262.5 L206.8 259.3 L206.6 255.2 L203.3 253.3 L201.7 250.3 L198.1 249.3 L197.9 245.3 L194.2 243.5 L191.6 240.9 L190.4 237.4 L188.0 233.4 L186.1 236.6 L183.3 238.1 L180.7 240.1 L177.3 241.1 L173.7 240.0 L170.1 240.2 L166.5 239.7 L162.9 239.4 L163.9 242.1 L165.5 244.7 L164.6 248.0 L166.5 250.9 L163.8 252.9 L162.5 254.6 L164.4 256.8 L165.4 259.8 L168.0 262.1 L169.2 265.5 L172.0 267.6 L174.0 269.9 L175.9 272.3 L177.5 274.9 L178.5 277.5 L178.6 281.1 L182.0 283.7Z M104.4 352.2 L107.3 351.2 L110.8 351.5 L113.2 349.4 L115.8 350.0 L119.9 348.4 L123.0 350.4 L126.7 350.4 L130.0 352.9 L133.1 352.3 L136.0 350.2 L139.3 352.2 L142.2 349.7 L145.5 350.4 L148.7 351.4 L151.6 348.7 L154.7 350.2 L157.7 349.1 L160.8 352.0 L157.4 353.6 L154.7 356.1 L158.4 357.9 L160.2 359.8 L163.6 359.1 L166.8 357.3 L165.7 353.3 L168.7 349.4 L166.2 346.9 L166.2 343.7 L164.6 341.5 L162.6 339.2 L159.7 338.8 L157.3 338.7 L154.3 338.6 L151.3 336.1 L148.2 338.0 L145.2 338.0 L142.2 335.7 L139.2 338.1 L135.8 337.7 L132.7 336.7 L131.1 333.5 L133.6 330.1 L136.7 329.4 L139.7 330.4 L142.7 331.7 L145.8 330.7 L148.8 332.6 L151.8 332.3 L155.2 331.7 L156.8 328.7 L159.8 328.5 L163.2 327.0 L161.2 323.3 L158.0 321.7 L154.1 321.9 L151.3 319.9 L152.7 316.2 L153.6 312.3 L156.4 315.2 L160.3 317.8 L162.3 314.8 L165.4 312.9 L167.6 309.5 L164.6 308.7 L162.3 305.4 L164.9 303.6 L166.2 301.0 L169.4 303.1 L169.4 307.5 L172.2 309.7 L174.7 307.0 L177.6 304.9 L179.9 303.7 L182.2 300.1 L179.6 296.9 L180.2 293.4 L178.8 290.1 L179.1 286.7 L177.8 283.4 L180.1 279.3 L177.3 277.6 L175.5 273.4 L173.1 276.6 L169.2 277.7 L167.4 274.9 L167.6 271.0 L164.9 268.2 L161.3 266.6 L156.8 267.0 L155.8 270.3 L153.7 272.8 L149.6 274.6 L151.4 278.6 L148.3 281.5 L148.9 285.2 L147.2 289.0 L145.8 284.8 L146.6 281.5 L146.4 277.9 L150.1 274.7 L147.5 271.7 L149.0 268.1 L147.3 264.6 L144.4 264.2 L141.6 264.0 L138.8 264.4 L136.2 265.7 L132.8 265.9 L129.3 266.8 L126.1 265.8 L123.2 264.1 L120.0 265.4 L117.1 263.8 L114.0 263.5 L111.0 263.1 L108.0 262.8 L104.9 262.4 L103.8 265.4 L102.6 268.4 L101.4 271.3 L100.2 274.3 L99.0 277.3 L97.8 280.2 L96.6 283.2 L95.4 286.2 L94.3 289.1 L93.1 292.1 L91.9 295.1 L90.7 298.1 L89.5 301.0 L88.3 304.0 L87.1 307.0 L85.9 309.9 L84.8 312.9 L83.6 315.9 L82.4 318.8 L81.2 321.8 L80.0 324.8 L80.0 328.1 L80.0 331.3 L80.0 334.6 L80.0 337.8 L80.0 341.1 L80.0 344.4 L80.0 347.6 L80.0 350.9 L80.0 354.2 L80.0 357.4 L80.0 360.7 L80.0 364.0 L83.0 363.6 L86.0 363.3 L88.9 362.6 L92.1 364.0 L95.8 363.1 L96.9 359.4 L100.0 357.8 L102.3 355.5Z M193.4 373.5 L195.7 373.4 L196.1 377.2 L196.0 380.0 L198.8 380.3 L201.5 380.9 L199.3 382.4 L199.1 386.2 L197.2 389.0 L194.9 392.6 L191.7 391.1 L188.7 390.9 L187.0 392.4 L186.1 396.2 L188.7 399.1 L188.3 404.1 L192.0 401.7 L195.2 403.1 L198.7 403.0 L201.0 405.8 L204.4 403.7 L207.0 405.3 L209.4 405.9 L212.0 403.2 L217.2 403.1 L218.6 399.4 L218.1 395.2 L219.0 392.1 L218.6 389.2 L217.5 386.7 L219.3 383.0 L222.7 379.5 L219.1 379.1 L217.3 377.3 L214.3 377.3 L211.2 375.8 L208.4 378.1 L204.6 377.5 L206.4 374.7 L207.4 371.7 L207.7 368.7 L209.2 365.8 L210.0 362.7 L211.0 359.4 L214.1 360.4 L217.2 360.9 L220.1 362.7 L222.5 361.1 L225.8 358.8 L230.7 356.6 L227.4 354.7 L227.6 350.7 L224.9 349.6 L221.2 350.7 L217.1 349.2 L215.1 351.7 L211.2 351.4 L210.7 348.0 L209.3 344.3 L211.8 341.8 L214.6 339.3 L217.9 340.0 L220.4 337.7 L223.4 337.0 L226.3 336.1 L229.2 335.5 L231.1 334.0 L233.7 332.0 L234.9 330.2 L234.7 326.6 L232.3 324.0 L233.1 320.3 L230.0 318.3 L230.9 314.6 L229.2 311.2 L226.5 309.8 L224.0 308.1 L221.7 308.3 L218.0 308.5 L215.6 310.9 L214.6 313.7 L213.0 316.2 L211.4 318.6 L210.6 322.3 L207.2 322.9 L204.7 324.8 L204.1 321.7 L203.5 318.5 L199.6 318.0 L195.3 319.7 L196.3 323.7 L194.8 327.3 L193.9 330.8 L194.8 334.0 L196.0 337.3 L197.2 340.3 L197.7 343.4 L196.4 346.7 L198.3 349.8 L198.3 353.2 L196.5 356.6 L195.6 360.0 L196.4 363.5 L196.7 368.2 L193.7 366.9 L190.1 368.1 L190.8 371.4Z M147.5 401.0 L151.2 402.5 L155.0 404.3 L158.1 402.9 L160.5 401.5 L161.0 398.5 L160.3 395.6 L159.2 391.7 L162.3 389.7 L165.2 389.2 L165.7 386.4 L164.2 384.5 L162.1 381.0 L159.6 377.3 L155.9 378.1 L153.5 381.8 L149.1 384.0 L146.6 381.1 L145.0 379.4 L145.0 376.2 L147.9 375.7 L150.5 372.8 L154.2 373.5 L151.3 369.5 L147.7 370.1 L144.7 367.8 L141.9 368.5 L139.5 370.6 L136.0 369.3 L133.2 370.8 L130.7 372.3 L128.0 373.4 L126.6 376.7 L123.4 377.1 L120.9 378.5 L118.3 381.1 L115.0 382.6 L112.6 385.1 L113.9 387.8 L116.5 389.7 L118.6 392.1 L119.7 394.7 L121.3 397.0 L121.7 398.9 L124.2 401.0 L126.6 403.6 L129.7 402.5 L133.4 404.8 L136.4 401.8 L139.9 403.1 L143.7 402.5Z M121.8 415.0 L119.7 411.3 L115.7 410.6 L113.4 408.0 L112.2 404.1 L108.9 401.6 L105.3 403.5 L102.4 401.6 L99.2 401.3 L96.2 400.1 L93.0 401.8 L89.7 400.2 L86.5 401.2 L83.2 400.7 L80.8 400.2 L80.7 403.4 L81.3 406.5 L79.4 409.7 L79.6 412.9 L80.3 416.1 L78.8 419.3 L78.7 422.5 L80.4 425.7 L79.8 428.0 L82.5 428.3 L85.2 428.4 L87.7 426.5 L90.4 425.3 L93.5 426.3 L95.9 424.1 L99.4 425.1 L101.7 422.3 L105.3 423.8 L107.4 420.6 L110.4 420.2 L113.0 418.6 L117.1 420.1 L119.8 417.0Z M185.4 410.3 L182.6 412.8 L178.6 413.6 L175.6 416.5 L177.8 419.6 L177.3 422.9 L180.5 424.8 L183.9 423.9 L187.1 423.7 L190.4 423.1 L192.5 420.9 L194.2 419.1 L192.3 416.2 L192.6 411.8 L189.9 411.2 L187.5 410.1Z M160.1 438.7 L162.6 435.2 L162.3 431.3 L163.0 428.0 L165.0 426.4 L167.5 422.6 L165.1 419.7 L164.1 416.5 L161.9 414.3 L160.0 411.0 L156.5 411.7 L153.0 411.7 L149.9 410.5 L147.2 411.7 L144.3 411.2 L141.5 411.3 L138.7 411.9 L136.0 412.9 L133.1 413.0 L130.2 413.4 L128.1 413.3 L130.3 416.7 L131.9 421.0 L134.9 421.3 L137.2 422.7 L138.4 425.7 L138.9 428.2 L141.3 430.6 L143.9 432.6 L148.1 431.4 L149.1 435.3 L153.0 435.0 L154.8 438.0 L158.2 437.0Z M177.8 489.8 L181.2 489.4 L182.2 491.7 L182.4 492.8 L183.0 493.2 L183.7 491.5 L186.6 493.2 L189.6 493.6 L190.0 493.7 L190.0 493.5 L192.5 491.4 L195.5 489.7 L198.0 487.4 L197.4 486.0 L201.2 483.7 L200.3 481.0 L199.2 478.1 L200.0 477.3 L201.0 476.6 L199.3 473.9 L199.0 470.4 L197.2 467.3 L197.0 463.9 L196.4 459.8 L194.7 456.4 L193.5 456.1 L192.5 452.9 L192.0 449.7 L192.4 446.7 L195.5 443.7 L200.5 444.8 L202.0 440.2 L205.4 437.4 L208.4 437.4 L209.4 441.2 L209.1 445.1 L209.6 448.0 L211.0 451.9 L208.9 451.1 L209.8 454.9 L209.5 458.7 L211.5 459.6 L211.1 461.9 L212.7 465.3 L210.9 466.1 L209.3 468.8 L210.7 472.0 L211.5 474.6 L211.8 478.4 L212.5 481.9 L212.4 483.1 L212.3 483.1 L211.6 486.8 L212.8 489.8 L215.0 491.6 L215.4 493.3 L217.6 494.2 L220.2 494.4 L222.4 496.0 L223.6 494.4 L223.1 495.2 L224.6 495.0 L227.1 492.1 L229.6 490.7 L232.8 489.8 L235.9 488.5 L235.8 490.4 L238.4 491.8 L241.7 491.5 L245.8 493.2 L247.5 494.6 L250.1 496.4 L252.4 498.9 L255.1 498.9 L255.8 496.8 L257.9 491.8 L260.3 493.1 L262.2 490.1 L264.3 487.0 L264.9 488.8 L268.1 486.2 L271.3 487.3 L275.0 486.9 L276.1 490.0 L278.3 491.5 L280.2 492.9 L282.5 495.8 L283.0 495.1 L281.9 496.9 L285.8 497.1 L286.4 501.2 L289.5 502.6 L292.4 504.9 L296.6 505.0 L299.5 507.5 L302.8 507.7 L305.8 509.6 L309.4 508.1 L312.4 509.8 L314.6 510.3 L317.9 510.2 L321.1 510.2 L323.8 512.9 L326.9 513.3 L330.9 511.5 L333.8 514.2 L336.7 513.4 L340.7 512.7 L345.2 512.5 L345.0 509.3 L348.3 507.9 L347.2 504.5 L347.8 501.1 L350.7 498.3 L350.8 494.8 L351.3 491.4 L350.7 488.1 L349.8 485.0 L348.8 481.6 L347.5 478.4 L347.7 474.4 L344.6 472.8 L342.7 470.1 L340.4 467.9 L338.2 465.9 L337.0 463.0 L334.7 461.2 L330.9 461.0 L326.9 459.6 L330.4 458.3 L330.4 455.5 L328.6 451.4 L325.3 449.1 L321.5 448.7 L320.6 444.7 L317.4 443.0 L313.3 443.1 L309.9 442.1 L305.8 440.8 L301.9 441.4 L299.2 443.7 L296.8 445.5 L294.5 447.7 L292.3 450.1 L289.8 451.1 L287.1 448.9 L284.7 450.9 L280.6 448.7 L281.8 447.3 L286.0 448.7 L288.6 446.2 L291.7 443.8 L294.4 440.5 L296.5 438.4 L299.9 438.5 L302.6 437.4 L304.7 435.5 L306.9 433.7 L309.1 434.0 L307.7 430.7 L305.4 428.8 L302.1 428.4 L299.5 425.9 L295.7 426.0 L292.8 424.0 L289.9 421.5 L286.8 421.0 L283.3 422.9 L280.7 419.6 L277.6 421.3 L273.8 421.6 L270.6 423.4 L266.9 423.5 L263.2 424.9 L259.5 426.5 L255.7 427.5 L252.3 429.8 L249.6 431.7 L247.8 434.6 L246.1 436.4 L246.1 437.3 L244.9 434.4 L241.7 434.9 L239.1 436.9 L235.8 437.3 L233.4 439.3 L230.3 439.5 L227.4 440.0 L224.3 441.7 L221.2 440.4 L220.4 436.2 L217.2 435.7 L215.0 435.6 L213.9 432.0 L212.4 430.1 L208.6 430.0 L204.7 429.7 L201.7 429.5 L198.8 430.2 L196.2 430.6 L192.9 429.6 L189.7 428.4 L186.0 428.9 L182.6 429.5 L179.2 429.6 L175.7 431.3 L175.6 435.1 L174.1 438.7 L174.3 442.3 L173.5 445.6 L171.4 448.9 L172.7 452.1 L174.1 455.3 L174.7 458.6 L173.9 461.7 L173.4 464.7 L175.2 467.3 L174.7 469.9 L175.6 472.8 L175.4 475.6 L174.5 478.4 L175.2 481.0 L176.5 483.5 L176.8 486.5Z M119.9 585.1 L121.5 581.5 L122.6 577.9 L125.0 576.0 L124.7 572.8 L127.7 570.4 L126.2 567.4 L125.1 564.5 L127.6 562.2 L127.4 558.7 L129.8 556.3 L128.8 552.8 L130.3 549.6 L129.7 546.1 L131.5 543.1 L131.0 539.7 L134.6 538.4 L135.2 535.9 L138.1 533.6 L141.3 531.8 L141.3 528.7 L143.7 526.7 L145.1 524.5 L146.6 521.4 L149.3 520.0 L152.2 519.1 L153.5 516.0 L156.9 515.0 L158.8 512.5 L160.3 510.6 L161.8 506.6 L160.5 503.3 L161.1 503.0 L160.3 499.5 L161.8 496.1 L160.3 492.7 L161.3 489.3 L159.9 485.9 L160.6 482.7 L160.3 479.0 L157.6 476.2 L156.1 472.1 L159.5 469.1 L158.9 465.3 L159.0 462.1 L159.4 458.9 L157.0 456.6 L154.9 453.8 L151.8 451.8 L149.7 449.2 L147.2 447.6 L144.2 447.2 L141.2 447.0 L138.7 445.2 L136.1 444.5 L133.0 444.5 L129.9 442.5 L126.8 442.6 L123.7 445.0 L120.5 445.3 L117.4 443.3 L114.2 444.4 L110.9 443.7 L107.8 445.8 L104.4 444.1 L101.8 446.4 L98.9 447.7 L95.2 447.2 L92.6 449.0 L89.6 450.8 L85.7 450.9 L83.8 454.8 L79.2 455.1 L80.7 458.2 L79.2 461.3 L79.6 464.4 L81.4 467.5 L80.2 470.6 L78.6 473.7 L80.8 476.8 L78.5 480.0 L79.9 483.1 L80.6 486.2 L80.0 489.3 L80.0 492.4 L80.0 495.5 L80.0 499.2 L80.0 503.0 L80.0 506.1 L80.0 509.3 L80.0 512.4 L80.0 515.6 L80.0 518.8 L80.0 521.9 L80.0 525.1 L80.0 528.2 L80.0 531.4 L80.0 534.6 L80.0 537.7 L80.0 540.9 L80.0 544.1 L80.0 547.2 L80.0 550.4 L80.0 553.5 L80.0 556.7 L80.0 559.9 L80.0 563.0 L80.0 566.2 L80.0 569.3 L80.0 572.5 L80.0 575.7 L80.0 578.8 L80.0 582.0 L80.0 585.2 L80.0 588.3 L80.0 591.5 L80.0 594.6 L80.0 597.8 L83.2 597.8 L86.4 597.8 L89.5 597.8 L92.7 597.8 L95.9 597.8 L99.1 597.8 L102.2 597.8 L105.4 597.8 L108.6 599.2 L111.8 597.2 L113.9 597.3 L115.7 595.1 L117.6 592.9 L117.7 589.8 L120.2 588.0Z M175.9 673.9 L172.7 671.9 L172.6 668.8 L172.0 665.9 L171.9 664.4 L167.6 662.6 L166.0 666.9 L163.8 665.6 L159.3 665.2 L158.2 661.9 L156.5 658.9 L153.7 656.7 L151.1 654.1 L147.5 654.1 L144.0 651.8 L140.5 654.2 L137.0 651.8 L133.5 653.0 L130.0 653.0 L131.7 655.8 L133.3 658.6 L135.0 661.3 L136.7 664.1 L138.3 666.9 L140.0 669.7 L141.7 672.4 L143.3 675.2 L145.0 678.0 L146.7 680.8 L148.3 683.6 L150.0 686.3 L151.7 689.1 L153.3 691.9 L155.0 694.7 L156.7 697.4 L158.3 700.2 L160.0 703.0 L162.9 701.1 L165.8 699.2 L168.3 696.7 L171.2 694.9 L173.9 692.6 L175.8 691.3 L177.0 694.6 L177.8 697.8 L176.0 700.7 L177.4 703.9 L175.6 706.9 L175.3 709.9 L175.0 713.0 L177.4 715.0 L179.9 717.0 L182.3 719.0 L184.8 721.0 L187.2 723.1 L189.6 725.1 L192.1 727.1 L194.5 729.1 L197.0 731.1 L199.4 733.1 L201.8 735.1 L204.3 737.1 L206.7 739.2 L209.1 741.2 L211.6 743.2 L214.0 745.2 L216.5 747.2 L218.9 749.2 L221.3 751.2 L223.8 753.2 L226.2 755.3 L228.7 757.3 L231.1 759.3 L233.5 761.3 L236.0 763.3 L238.4 765.3 L240.9 767.3 L243.3 769.3 L245.7 771.4 L248.2 773.4 L250.6 775.4 L253.0 777.4 L255.5 779.4 L257.9 781.4 L260.4 783.4 L262.8 785.4 L265.2 787.5 L267.7 789.5 L270.1 791.5 L272.6 793.5 L275.0 795.5 L277.1 792.8 L280.1 790.8 L282.1 788.0 L282.7 784.2 L285.5 782.0 L287.7 778.7 L290.5 780.8 L293.3 782.5 L297.2 781.0 L300.7 784.1 L303.7 782.8 L306.4 780.6 L308.0 779.5 L311.8 780.1 L315.7 780.8 L320.3 782.4 L320.4 786.2 L321.5 789.6 L322.3 793.2 L326.0 794.5 L328.1 797.4 L329.2 800.0 L330.5 797.2 L333.6 795.7 L335.2 793.1 L336.8 790.5 L336.5 787.3 L338.8 784.9 L337.9 781.1 L341.5 779.4 L344.2 777.0 L346.4 774.1 L348.9 770.9 L347.3 767.0 L348.8 764.1 L350.9 761.3 L350.1 757.2 L354.0 755.6 L356.1 752.6 L356.2 748.7 L359.3 746.4 L358.7 742.5 L360.5 739.6 L362.3 736.4 L365.9 736.3 L368.1 734.1 L369.9 731.4 L371.6 728.5 L374.5 727.1 L377.7 726.8 L379.8 724.7 L381.6 722.0 L384.7 721.5 L388.0 720.2 L385.2 718.5 L383.5 716.0 L382.6 713.0 L385.8 710.5 L386.3 706.5 L387.2 703.3 L385.8 699.7 L383.6 696.9 L379.5 696.0 L378.3 693.4 L379.6 689.9 L381.0 686.4 L382.8 681.4 L385.7 683.0 L388.8 684.2 L392.1 684.0 L394.8 685.5 L396.1 682.2 L395.5 678.5 L398.8 674.6 L396.8 672.1 L392.5 671.4 L391.7 668.2 L388.8 664.6 L393.0 663.9 L393.1 660.0 L395.3 657.8 L398.2 656.0 L399.7 653.2 L400.4 649.8 L404.2 648.8 L406.4 646.1 L406.8 642.6 L406.0 638.7 L407.2 635.5 L409.4 632.9 L411.2 629.8 L413.4 626.8 L412.0 621.9 L415.5 621.9 L418.4 620.7 L421.4 619.6 L424.5 618.8 L427.5 617.7 L429.9 615.4 L432.6 613.7 L434.2 610.7 L438.6 611.3 L438.4 608.3 L439.6 604.8 L439.6 601.6 L436.9 598.9 L437.5 595.0 L434.5 594.4 L431.5 596.1 L428.5 596.9 L425.5 597.1 L422.4 595.8 L418.8 595.9 L416.0 593.7 L413.4 590.8 L409.3 592.2 L406.7 589.3 L403.0 589.8 L399.6 587.1 L402.7 585.6 L406.7 586.7 L409.4 584.2 L411.7 582.0 L415.2 581.3 L417.7 579.2 L419.3 576.2 L422.2 574.6 L426.3 572.8 L423.1 570.2 L422.3 567.3 L422.3 564.2 L421.6 561.2 L422.9 557.3 L420.9 554.9 L417.5 554.7 L414.6 553.7 L411.8 552.7 L409.3 551.1 L406.9 549.5 L404.3 548.1 L402.5 545.5 L399.6 545.0 L397.3 541.5 L393.3 542.2 L390.3 540.5 L387.1 539.4 L384.8 537.2 L382.3 535.5 L378.9 536.0 L376.2 534.8 L373.5 533.9 L370.1 533.5 L366.6 533.7 L363.2 533.0 L360.9 531.2 L356.9 530.2 L353.8 528.7 L353.1 524.3 L350.1 523.2 L346.8 522.4 L344.6 518.9 L341.7 519.8 L339.0 521.3 L336.3 521.6 L333.1 521.2 L329.7 521.9 L326.6 521.1 L323.6 519.8 L320.4 519.0 L316.9 519.3 L313.4 516.9 L309.9 518.6 L307.7 521.4 L307.5 525.7 L304.5 528.1 L301.4 528.3 L298.2 527.7 L295.2 529.3 L292.0 529.6 L288.8 528.1 L285.5 527.9 L281.4 528.6 L280.2 524.8 L276.8 523.2 L274.5 520.7 L271.7 517.9 L267.8 517.5 L264.8 514.1 L260.8 515.4 L256.1 513.5 L256.5 517.6 L253.5 519.2 L252.7 522.3 L254.3 525.0 L254.8 527.9 L255.0 531.3 L254.9 534.7 L256.1 538.1 L254.2 541.3 L250.9 542.1 L248.4 544.3 L246.5 542.6 L243.4 541.1 L243.2 538.0 L243.7 534.9 L242.0 531.3 L239.5 528.7 L236.5 527.3 L234.7 527.4 L230.5 529.2 L228.7 532.4 L228.5 535.5 L226.9 537.8 L225.0 540.2 L225.2 543.5 L224.5 546.8 L227.8 549.3 L230.2 552.4 L231.1 555.7 L233.9 556.9 L236.1 559.1 L236.2 561.9 L239.1 560.5 L238.7 557.9 L238.8 560.8 L238.9 563.7 L239.7 566.4 L240.9 567.7 L240.8 571.1 L239.9 574.6 L241.5 578.0 L238.8 580.8 L238.2 584.2 L238.7 588.1 L236.9 590.9 L235.0 593.7 L231.3 594.8 L229.2 597.4 L226.4 599.3 L226.1 603.3 L222.9 604.6 L221.4 605.1 L221.8 609.3 L217.6 609.8 L216.5 612.8 L215.8 616.3 L213.0 618.5 L209.8 620.3 L208.7 624.2 L206.0 626.5 L203.5 628.9 L200.5 630.7 L197.2 632.5 L194.7 635.1 L195.2 639.5 L191.1 641.3 L192.8 638.5 L195.5 636.2 L197.9 634.1 L195.5 636.5 L193.6 639.3 L190.0 640.5 L186.6 641.5 L183.7 643.9 L181.0 644.9 L177.2 646.0 L176.0 648.8 L174.8 652.1 L177.0 654.0 L179.5 655.2 L182.9 657.0 L185.6 653.8 L189.3 654.5 L193.1 652.9 L191.6 656.8 L194.2 659.6 L194.1 662.6 L192.5 665.9 L192.6 670.2 L189.0 672.3 L189.3 676.4 L186.7 678.3 L183.4 679.8 L181.4 682.1 L179.9 684.3 L178.9 687.0 L178.3 688.4 L176.4 686.2 L174.5 683.9 L172.7 683.6 L171.6 679.7 L174.4 677.4Z M461.1 74.8 L463.7 77.5 L466.5 79.7 L470.0 80.8 L472.8 81.0 L475.1 78.7 L477.3 78.3 L480.4 77.4 L482.1 75.1 L483.8 72.8 L485.7 71.0 L485.7 67.5 L485.3 64.8 L481.9 64.8 L478.9 66.1 L476.3 68.3 L473.3 69.7 L470.3 70.6 L466.6 70.9 L464.3 73.8Z M240.2 130.3 L242.3 128.1 L245.8 128.0 L248.3 126.5 L249.4 122.7 L252.4 121.8 L254.6 119.7 L257.0 117.6 L260.9 118.6 L263.3 115.9 L267.0 116.2 L269.0 112.5 L272.4 112.3 L275.3 110.6 L278.7 109.9 L281.5 108.1 L285.1 107.7 L287.6 104.6 L291.0 104.4 L293.6 107.1 L296.9 107.1 L300.4 109.2 L303.6 107.8 L306.3 104.9 L310.1 105.2 L313.4 104.5 L316.3 102.6 L319.9 102.7 L322.0 100.8 L325.2 101.2 L327.1 103.7 L330.2 104.3 L332.6 106.3 L334.0 103.5 L333.7 100.2 L336.0 97.7 L336.5 94.9 L339.2 92.4 L342.2 90.5 L346.1 90.0 L348.4 87.6 L347.2 85.1 L346.9 82.2 L346.6 80.3 L349.3 77.5 L352.9 76.4 L356.5 75.1 L357.2 72.2 L359.2 69.9 L360.1 67.0 L360.5 63.8 L360.0 60.5 L360.0 57.3 L360.0 54.1 L360.0 50.8 L360.0 47.6 L360.0 44.4 L360.0 41.2 L360.0 37.9 L360.0 34.7 L360.0 31.5 L360.0 28.2 L360.0 25.0 L357.0 26.1 L354.0 27.2 L351.0 28.3 L348.0 29.4 L345.0 30.6 L342.0 31.7 L339.0 32.8 L336.0 33.9 L333.0 35.0 L330.0 36.1 L327.0 37.2 L324.0 38.3 L321.0 39.4 L318.0 40.6 L315.0 41.7 L312.0 42.8 L309.0 43.9 L306.0 45.0 L303.0 46.1 L300.0 47.2 L297.0 48.3 L294.0 49.4 L291.0 50.6 L288.0 51.7 L285.0 52.8 L282.0 53.9 L279.0 55.0 L276.0 56.1 L273.0 57.2 L270.0 58.3 L267.0 59.4 L264.0 60.6 L261.0 61.7 L258.0 62.8 L255.0 63.9 L252.0 65.0 L249.0 66.1 L246.0 67.2 L243.0 68.3 L240.0 69.4 L237.0 70.6 L234.0 71.7 L231.0 72.8 L228.0 73.9 L225.0 75.0 L223.1 77.5 L221.2 80.0 L219.2 82.5 L217.3 85.0 L215.4 87.5 L213.5 90.0 L211.5 92.5 L209.6 95.0 L207.7 97.5 L205.8 100.0 L203.8 102.5 L201.9 105.0 L200.0 107.5 L198.1 110.0 L196.2 112.5 L194.2 115.0 L192.3 117.5 L190.4 120.0 L188.5 122.5 L186.5 125.0 L184.6 127.5 L182.7 130.0 L180.8 132.5 L178.8 135.0 L176.9 137.5 L175.0 140.0 L178.1 140.8 L181.2 141.5 L184.2 142.3 L187.3 143.1 L190.4 143.8 L193.5 144.6 L196.5 145.4 L199.6 146.2 L202.7 146.9 L205.8 147.7 L209.0 148.0 L211.9 149.3 L215.3 150.3 L217.2 147.5 L219.5 145.1 L222.3 143.2 L224.3 140.3 L227.8 139.7 L230.3 137.8 L233.0 136.3 L235.8 134.9 L237.2 131.5Z M260.6 324.7 L258.2 321.6 L258.9 318.1 L258.9 314.6 L256.0 311.9 L254.6 308.6 L254.6 304.8 L253.9 301.3 L251.8 298.3 L250.7 295.5 L248.0 293.0 L245.3 293.9 L241.2 294.6 L238.0 296.6 L235.6 299.1 L232.4 301.1 L229.8 304.2 L225.5 305.3 L228.6 306.2 L230.9 307.9 L232.1 310.9 L235.6 311.7 L237.5 314.0 L237.9 317.4 L240.8 318.9 L242.7 321.5 L244.5 324.2 L246.3 326.4 L248.4 329.4 L252.3 328.4 L253.5 330.1 L256.9 327.8Z M247.1 347.2 L248.4 350.0 L246.4 353.3 L247.6 357.2 L250.7 359.2 L254.9 360.3 L257.6 358.0 L260.9 357.2 L259.3 354.3 L258.9 351.7 L258.1 347.5 L254.5 345.3 L251.1 348.0Z M269.3 366.4 L269.6 362.6 L270.9 357.5 L268.3 361.2 L264.3 359.7 L262.5 361.3 L262.0 364.6 L262.7 369.0 L266.2 367.1Z M274.7 391.7 L273.7 389.3 L274.8 385.8 L272.1 384.1 L269.0 384.1 L265.6 383.0 L262.8 385.9 L258.9 384.6 L256.0 386.5 L254.3 388.8 L253.4 391.5 L252.0 394.2 L250.1 396.4 L247.2 397.8 L243.7 399.1 L241.6 401.0 L241.6 403.9 L243.2 404.7 L246.4 405.5 L249.0 403.7 L252.4 404.8 L255.6 403.5 L258.4 400.8 L261.6 400.8 L264.7 398.2 L269.1 397.6 L271.6 395.9 L274.2 394.4Z M212.0 416.2 L212.5 421.0 L210.8 421.6 L210.9 425.2 L213.4 424.6 L216.9 425.7 L219.9 425.0 L222.0 422.6 L222.5 420.6 L224.2 419.5 L223.9 416.7 L223.4 414.4 L220.2 413.7 L216.8 411.9 L214.8 415.7Z M259.9 410.3 L258.8 410.3 L258.3 409.4 L255.1 409.1 L252.1 410.1 L249.1 412.1 L245.9 411.6 L243.2 413.0 L240.2 413.5 L238.2 414.7 L233.5 416.1 L230.8 420.1 L231.1 423.9 L232.0 428.4 L235.0 427.7 L233.3 428.3 L234.0 429.0 L237.9 429.5 L238.4 425.3 L241.3 422.8 L244.3 421.9 L248.0 422.5 L247.6 420.8 L251.2 420.7 L253.3 417.1 L257.8 416.5 L256.7 415.2 L261.7 413.5Z M528.9 666.7 L532.0 668.5 L531.8 672.3 L534.2 674.9 L535.6 678.1 L537.7 680.4 L539.4 682.5 L539.7 686.6 L543.6 687.4 L545.7 689.9 L546.1 693.7 L547.6 695.7 L550.4 697.3 L555.0 695.2 L553.1 692.1 L553.8 689.7 L553.2 686.7 L553.6 683.7 L552.6 680.8 L552.5 677.2 L552.9 673.5 L553.3 669.8 L552.4 666.3 L552.7 662.6 L550.9 659.1 L551.5 655.5 L552.3 651.7 L552.8 654.8 L556.8 654.9 L555.7 658.5 L556.9 660.9 L558.5 663.1 L560.9 665.2 L562.3 668.3 L561.8 664.7 L563.9 663.2 L567.0 664.9 L567.8 668.3 L570.8 670.2 L572.5 674.7 L575.5 672.0 L576.5 668.4 L577.4 664.1 L574.3 662.1 L574.5 658.9 L571.1 657.6 L567.1 656.8 L564.9 654.0 L562.8 651.1 L560.9 648.9 L559.4 646.3 L555.9 645.0 L553.6 642.6 L550.0 641.2 L545.6 640.6 L543.7 638.5 L540.7 636.6 L540.1 633.5 L539.6 630.3 L536.8 629.5 L535.8 626.8 L532.8 626.6 L530.6 628.9 L527.5 630.0 L524.6 630.9 L522.0 634.8 L518.1 635.2 L513.2 637.4 L513.0 642.2 L515.5 644.9 L513.9 649.0 L516.0 651.4 L518.9 652.8 L519.9 656.3 L522.0 658.6 L525.4 659.5 L525.6 663.1 L527.4 664.8Z M653.5 112.2 L653.2 116.3 L651.2 120.5 L654.0 122.8 L656.5 125.0 L658.0 128.6 L658.3 132.9 L656.0 135.0 L653.2 136.2 L654.6 139.0 L653.9 142.3 L655.7 144.8 L658.1 146.8 L660.5 148.7 L662.7 151.0 L665.3 152.7 L667.1 155.2 L669.7 157.2 L671.4 159.8 L672.6 162.9 L675.1 165.4 L677.9 167.6 L681.1 169.4 L682.4 172.5 L685.4 173.8 L687.4 176.3 L689.2 179.6 L692.2 178.5 L695.1 178.4 L698.0 178.7 L700.1 176.8 L702.7 175.7 L705.7 175.1 L706.4 172.0 L708.4 169.5 L709.2 166.6 L710.1 164.4 L713.8 164.7 L716.2 167.4 L719.4 169.1 L722.6 168.0 L726.2 166.1 L726.7 169.6 L726.2 173.2 L727.9 176.5 L727.9 180.3 L731.2 181.1 L733.8 183.5 L736.5 185.1 L738.1 188.0 L738.6 191.3 L740.4 194.1 L740.7 197.9 L737.9 198.5 L735.5 200.2 L738.5 198.9 L741.8 199.0 L744.8 197.5 L748.2 198.0 L751.1 196.6 L754.2 195.5 L756.9 193.4 L759.7 191.8 L763.7 191.2 L763.1 194.2 L763.7 197.1 L763.0 200.0 L761.4 203.0 L760.0 206.1 L760.0 209.7 L758.0 212.5 L755.3 214.8 L753.2 217.7 L750.2 219.7 L748.1 222.7 L745.1 223.4 L742.9 225.4 L740.5 227.3 L738.4 228.9 L736.6 231.5 L736.2 234.7 L733.8 237.0 L733.7 239.7 L735.3 243.0 L737.1 246.3 L737.5 250.0 L738.7 252.8 L738.6 255.6 L737.4 258.4 L738.2 260.7 L741.4 262.4 L744.9 263.1 L748.2 265.8 L751.2 263.7 L754.8 264.0 L758.0 262.5 L759.7 265.1 L761.8 267.5 L763.3 270.3 L766.0 272.4 L766.0 277.2 L763.3 276.5 L763.1 279.7 L761.5 282.7 L761.4 285.8 L762.3 288.8 L763.0 292.0 L763.8 295.2 L763.9 298.6 L766.2 301.0 L766.9 304.1 L767.9 306.9 L769.7 309.3 L771.6 311.1 L774.2 310.7 L776.9 310.4 L775.3 313.0 L773.1 315.3 L770.6 317.3 L769.3 320.7 L766.3 320.3 L763.5 321.1 L760.7 321.6 L757.7 322.8 L758.0 326.0 L759.3 328.9 L756.6 327.8 L753.8 327.1 L751.0 326.5 L747.9 325.7 L744.6 326.6 L741.4 328.1 L738.0 327.7 L734.8 329.7 L731.1 330.6 L728.4 333.0 L726.5 335.8 L724.5 338.5 L722.0 340.9 L720.6 344.0 L720.0 347.3 L720.8 350.7 L719.9 354.3 L721.5 357.7 L724.1 360.5 L725.4 364.0 L724.1 367.7 L723.0 371.5 L719.7 372.9 L716.2 373.7 L713.2 375.3 L711.4 377.9 L712.0 381.3 L710.9 383.3 L713.1 385.5 L715.6 387.0 L718.0 388.7 L720.4 390.8 L723.7 390.1 L726.7 391.4 L729.8 391.9 L733.1 391.4 L734.4 394.2 L736.8 396.2 L737.9 398.7 L741.7 397.8 L745.5 397.8 L746.8 400.4 L745.9 403.6 L746.9 406.3 L747.4 409.4 L749.5 412.4 L752.0 415.4 L750.3 418.6 L748.0 421.5 L750.4 424.1 L752.8 426.7 L755.6 429.0 L756.9 432.0 L757.5 435.2 L758.4 438.4 L760.0 441.0 L760.5 444.2 L762.8 446.2 L763.9 449.0 L765.3 451.6 L767.6 453.7 L768.5 456.7 L770.4 459.4 L774.0 459.9 L776.9 462.2 L780.8 463.5 L783.3 460.8 L786.9 460.7 L789.6 458.4 L792.8 457.8 L793.9 460.5 L794.7 463.3 L795.5 466.1 L795.3 469.0 L796.4 471.9 L796.7 474.9 L796.6 478.0 L797.1 481.0 L796.9 484.0 L797.1 487.1 L797.4 490.2 L797.5 493.4 L798.0 495.9 L801.8 496.9 L805.5 496.3 L808.6 495.7 L811.8 495.6 L814.8 494.0 L818.1 494.1 L820.3 491.9 L821.2 488.9 L823.0 486.6 L826.5 485.6 L829.4 483.4 L832.8 483.4 L835.5 483.5 L838.0 484.3 L835.5 483.9 L833.6 484.1 L831.7 487.0 L832.6 490.4 L831.2 493.4 L830.7 496.7 L828.2 499.2 L825.0 501.0 L823.0 504.0 L820.6 506.6 L817.6 508.6 L815.7 511.7 L813.2 514.1 L811.7 516.5 L810.6 518.7 L813.9 520.0 L817.1 521.4 L820.2 523.0 L822.8 524.7 L826.1 523.3 L829.8 523.1 L833.2 522.2 L836.2 520.7 L839.0 518.9 L842.3 518.6 L845.2 517.4 L843.1 520.4 L840.0 522.3 L837.9 525.1 L837.0 527.9 L835.2 529.8 L832.9 532.1 L829.9 530.9 L826.7 531.1 L823.6 530.7 L820.4 530.7 L817.6 528.5 L814.4 528.0 L811.0 528.0 L808.1 526.7 L805.9 528.8 L802.8 529.6 L800.5 531.6 L803.3 533.2 L806.6 533.2 L809.2 535.3 L812.3 536.2 L815.4 535.9 L818.5 535.8 L821.4 534.6 L824.6 535.5 L827.4 533.6 L830.6 533.9 L832.9 536.1 L835.6 537.9 L837.5 540.6 L840.4 542.2 L843.2 543.9 L844.5 547.3 L846.7 550.1 L848.4 553.1 L851.2 555.8 L847.8 555.9 L844.3 556.1 L840.9 555.5 L837.4 554.7 L834.0 554.7 L830.4 556.1 L826.8 554.6 L823.0 553.8 L820.2 552.6 L817.3 552.3 L814.2 552.5 L811.5 550.8 L808.5 550.5 L805.6 549.8 L802.3 550.2 L799.6 548.4 L796.6 547.7 L793.4 547.5 L790.2 545.7 L786.8 547.9 L782.4 549.1 L783.5 552.3 L784.0 555.6 L784.3 559.0 L784.2 562.4 L784.7 565.7 L785.5 569.3 L788.9 568.5 L792.4 568.1 L795.8 568.2 L799.2 569.8 L802.9 568.7 L805.7 570.5 L807.5 573.4 L810.5 575.1 L812.3 577.8 L813.3 581.0 L815.6 583.4 L817.7 586.3 L820.8 587.5 L823.9 588.9 L827.3 589.5 L830.3 591.2 L834.0 590.6 L837.0 592.8 L840.5 593.5 L843.8 592.9 L847.0 593.0 L850.2 593.0 L853.5 593.0 L856.8 593.0 L860.0 593.0 L863.2 593.0 L866.5 593.0 L869.8 593.0 L873.0 593.0 L873.0 589.8 L873.0 586.6 L873.0 583.5 L873.0 580.3 L873.0 577.1 L873.0 573.9 L873.0 570.7 L873.0 567.5 L873.0 564.4 L873.0 561.2 L873.0 558.0 L876.1 558.0 L879.2 558.0 L882.4 558.0 L885.5 558.0 L888.6 558.0 L891.8 558.0 L894.9 558.0 L898.0 558.0 L898.0 554.8 L898.0 551.6 L898.0 548.3 L898.0 545.1 L898.0 541.9 L898.0 538.7 L898.0 535.5 L898.0 532.3 L898.0 529.0 L898.0 525.8 L898.0 522.6 L898.0 519.4 L898.0 516.2 L898.0 513.0 L898.0 509.7 L898.0 506.5 L898.0 503.3 L898.0 500.1 L898.0 496.9 L898.0 493.7 L898.0 490.4 L898.0 487.2 L898.0 484.0 L898.0 480.8 L898.0 477.6 L898.0 474.4 L898.0 471.2 L898.0 468.0 L898.0 464.8 L898.0 461.6 L898.0 458.4 L898.0 455.2 L898.0 452.0 L898.0 448.8 L898.0 445.6 L898.0 442.4 L898.0 439.2 L898.0 436.0 L898.0 432.8 L898.0 429.6 L898.0 426.4 L898.0 423.2 L898.0 420.0 L898.0 416.8 L898.0 413.6 L898.0 410.4 L898.0 407.2 L898.0 404.0 L898.0 400.8 L898.0 397.6 L898.0 394.4 L898.0 391.2 L898.0 388.0 L898.0 384.8 L898.0 381.7 L898.0 378.5 L898.0 375.3 L898.0 372.1 L898.0 368.9 L898.0 365.7 L898.0 362.5 L898.0 359.3 L898.0 356.1 L898.0 352.9 L898.0 349.7 L898.0 346.5 L898.0 343.3 L898.0 340.1 L898.0 336.9 L898.0 333.7 L898.0 330.5 L898.0 327.3 L898.0 324.1 L898.0 320.9 L898.0 317.7 L898.0 314.5 L898.0 311.3 L898.0 308.1 L898.0 304.9 L898.0 301.7 L898.0 298.5 L898.0 295.3 L898.0 292.1 L898.0 288.9 L898.0 285.7 L898.0 282.5 L898.0 279.5 L898.0 276.5 L898.0 273.3 L898.0 270.1 L898.0 266.8 L898.0 263.6 L898.0 260.4 L898.0 257.2 L898.0 254.0 L898.0 250.8 L898.0 247.5 L898.0 244.3 L898.0 241.1 L898.0 237.9 L898.0 234.7 L898.0 231.4 L898.0 228.2 L898.0 225.0 L898.0 221.8 L898.0 218.6 L898.0 215.4 L898.0 212.1 L898.0 208.9 L898.0 205.7 L898.0 202.5 L898.0 199.3 L898.0 196.0 L898.0 192.8 L898.0 189.6 L898.0 186.4 L898.0 183.2 L898.0 180.0 L898.0 176.7 L898.0 173.5 L898.0 170.3 L898.0 167.1 L898.0 163.9 L898.0 160.6 L898.0 157.4 L898.0 154.2 L898.0 151.0 L898.0 147.8 L898.0 144.6 L898.0 141.3 L898.0 138.1 L898.0 134.9 L898.0 131.7 L898.0 128.5 L898.0 125.2 L898.0 122.0 L898.0 118.8 L898.0 115.6 L898.0 112.4 L898.0 109.2 L898.0 105.9 L898.0 102.7 L898.0 99.5 L898.0 96.3 L898.0 93.1 L898.0 89.8 L898.0 86.6 L898.0 83.4 L898.0 80.2 L898.0 77.0 L898.0 73.8 L894.8 73.8 L891.6 73.8 L888.4 73.8 L885.2 73.8 L882.0 73.8 L878.8 73.8 L875.5 73.8 L872.3 73.8 L869.1 73.8 L865.9 73.8 L862.7 73.8 L859.5 73.8 L856.3 73.8 L853.1 73.8 L849.9 73.8 L846.7 73.8 L843.5 73.8 L840.2 73.8 L837.0 73.8 L833.8 73.8 L830.6 73.8 L827.4 73.8 L824.2 73.8 L821.0 73.8 L817.8 73.8 L814.6 73.8 L811.4 73.8 L808.2 73.8 L805.0 73.8 L801.8 73.8 L798.5 73.8 L795.3 73.8 L792.1 73.8 L788.9 73.8 L785.7 73.8 L782.5 73.8 L779.3 73.8 L776.1 73.8 L772.9 73.8 L769.7 73.8 L766.5 73.8 L763.2 73.8 L760.0 73.8 L756.8 73.8 L753.6 73.8 L750.4 73.8 L747.2 73.8 L744.0 73.8 L740.8 73.8 L737.6 73.8 L734.4 73.8 L731.2 73.8 L728.0 73.8 L724.8 73.8 L721.5 73.8 L718.3 73.8 L715.1 73.8 L711.9 73.8 L708.7 73.8 L705.5 73.8 L702.3 73.8 L699.1 73.8 L695.9 73.8 L692.7 73.8 L689.5 73.8 L686.2 73.8 L683.0 73.8 L679.8 73.8 L676.6 73.8 L673.4 73.8 L670.2 73.8 L667.0 73.8 L663.8 73.8 L660.6 73.8 L657.4 73.8 L654.2 73.8 L651.0 73.8 L647.8 73.8 L644.5 73.8 L641.3 73.8 L638.1 73.8 L634.9 73.8 L631.7 73.8 L628.5 72.9 L625.3 74.4 L622.1 73.7 L618.9 74.3 L615.7 73.8 L612.5 74.2 L609.2 73.7 L608.8 76.5 L607.9 79.3 L607.5 82.1 L608.6 84.7 L608.9 88.7 L611.3 91.7 L613.4 94.3 L615.9 96.0 L617.9 98.3 L620.1 100.4 L623.0 101.0 L626.0 102.0 L628.9 102.9 L632.0 102.5 L635.1 102.9 L638.1 103.3 L641.5 103.8 L644.5 106.0 L647.8 106.5 L649.5 109.0 L651.9 110.7Z M679.3 184.9 L676.1 183.1 L673.8 180.4 L672.4 177.8 L671.1 180.2 L669.7 182.5 L667.9 185.2 L669.0 188.0 L669.3 190.9 L670.6 193.1 L674.3 194.0 L677.9 194.8 L681.5 195.0 L684.9 194.2 L688.2 192.3 L686.1 190.3 L683.5 188.9 L681.2 187.2Z M632.9 186.8 L629.7 185.3 L626.2 185.2 L622.9 183.6 L620.6 185.1 L618.8 185.9 L619.4 188.7 L620.1 191.5 L621.4 194.2 L624.7 195.0 L626.9 197.4 L628.4 200.7 L630.7 203.5 L632.9 206.2 L636.0 205.0 L637.4 202.6 L636.6 200.2 L636.0 197.7 L635.7 194.7 L634.9 191.9 L633.5 189.2Z M665.3 238.5 L668.8 237.3 L671.3 234.5 L673.4 232.3 L675.5 229.5 L674.9 226.1 L675.3 223.0 L676.5 220.2 L675.0 217.6 L672.6 215.8 L670.5 213.4 L667.7 213.1 L665.0 212.4 L662.1 212.5 L659.0 212.6 L658.9 209.3 L658.0 206.4 L654.9 206.1 L651.7 206.4 L648.7 204.4 L645.9 205.6 L642.4 206.9 L638.9 208.8 L639.1 211.7 L639.3 214.7 L640.5 217.5 L642.4 220.0 L643.9 222.5 L644.5 225.4 L645.9 228.2 L645.6 231.8 L649.2 230.3 L652.9 230.0 L654.1 233.1 L654.9 236.3 L655.5 239.1 L658.8 239.1 L662.1 238.4Z M687.7 383.8 L686.3 386.6 L685.0 389.5 L681.8 391.1 L680.1 394.5 L682.5 396.4 L685.1 398.0 L688.2 398.5 L691.3 400.2 L694.7 401.3 L698.0 402.9 L700.9 401.9 L703.8 401.9 L707.0 401.4 L705.1 398.1 L703.9 394.6 L702.2 391.2 L699.7 388.8 L698.4 385.7 L696.8 383.1 L693.8 382.8 L690.9 383.6Z M690.0 426.3 L691.5 423.9 L692.8 421.4 L694.7 418.9 L693.4 415.7 L693.7 412.3 L693.1 408.8 L689.1 408.1 L685.5 406.7 L682.4 406.5 L679.5 407.8 L676.4 407.5 L673.5 408.5 L670.9 409.1 L669.3 412.2 L668.2 415.5 L668.1 419.0 L669.2 422.3 L670.2 425.5 L670.1 429.1 L670.3 425.9 L669.4 423.0 L668.0 420.4 L664.8 418.9 L661.2 419.2 L658.1 417.8 L655.4 419.2 L653.5 421.6 L650.6 422.6 L647.8 424.1 L650.5 425.6 L651.6 428.5 L654.0 430.2 L655.4 433.5 L658.8 433.3 L662.2 433.3 L665.9 433.5 L667.8 435.4 L669.8 437.1 L671.6 438.3 L675.4 437.9 L678.8 437.7 L679.7 434.6 L680.5 431.5 L683.5 429.1 L686.9 427.7Z M641.0 515.3 L638.7 514.4 L636.4 512.7 L632.4 514.5 L632.4 518.1 L633.2 521.7 L633.3 525.2 L633.2 528.5 L633.2 531.7 L633.9 535.7 L637.8 535.3 L639.5 533.6 L641.0 532.3 L641.4 529.6 L641.9 526.8 L641.4 524.1 L642.3 521.2 L640.4 518.6Z M725.5 613.2 L728.3 615.4 L730.8 617.9 L732.3 621.0 L734.5 623.7 L735.3 627.0 L737.0 629.7 L738.6 632.3 L739.5 635.3 L740.9 638.1 L742.7 640.3 L742.3 643.6 L744.1 645.9 L745.7 648.2 L748.1 650.3 L749.1 653.5 L751.1 655.9 L753.0 658.4 L755.7 660.4 L758.1 662.5 L760.7 664.5 L763.7 663.2 L767.0 663.6 L770.2 662.9 L773.3 662.2 L776.4 661.6 L779.5 661.5 L782.6 660.8 L786.4 661.5 L788.5 659.1 L790.9 657.2 L793.7 655.7 L796.5 653.4 L795.7 650.1 L797.4 647.4 L798.2 644.1 L794.3 645.0 L790.9 646.2 L787.6 647.4 L784.6 646.8 L781.7 645.9 L778.9 644.2 L776.2 643.6 L772.9 642.4 L769.9 640.6 L766.6 639.3 L762.6 638.7 L761.3 635.6 L759.8 632.7 L757.5 630.4 L755.6 627.8 L752.6 625.9 L751.3 622.8 L750.8 619.3 L749.0 616.4 L746.7 613.9 L746.5 610.2 L744.2 607.6 L741.8 605.0 L741.6 601.3 L739.4 598.7 L737.8 595.6 L737.4 592.4 L736.2 589.5 L735.9 586.2 L734.1 583.5 L732.5 580.6 L732.1 577.6 L730.8 574.7 L731.1 571.4 L729.9 568.5 L728.8 565.5 L728.1 562.5 L728.4 559.5 L728.7 556.4 L728.6 553.4 L728.6 550.3 L728.1 547.4 L727.1 544.7 L726.1 541.9 L725.9 538.4 L722.7 538.5 L720.6 536.6 L718.4 535.7 L715.7 537.4 L713.6 539.0 L713.9 542.5 L713.6 546.0 L714.0 549.4 L715.1 553.1 L713.9 556.2 L711.9 559.0 L711.0 562.2 L710.4 565.5 L711.1 568.5 L712.0 571.6 L711.1 574.9 L711.7 578.0 L713.5 580.9 L713.0 584.5 L714.6 587.4 L715.9 590.4 L717.0 593.6 L717.6 597.0 L719.8 599.7 L719.7 603.5 L722.6 605.2 L723.2 608.0 L724.5 610.5Z M547.6 631.3 L548.4 634.1 L550.2 635.6 L552.7 637.3 L555.4 635.7 L558.4 637.5 L561.3 636.2 L562.6 634.0 L563.7 632.0 L566.5 629.9 L566.7 626.9 L567.8 623.4 L566.1 620.2 L566.3 616.8 L564.2 615.8 L561.4 614.3 L558.4 613.7 L555.5 612.4 L552.1 614.2 L548.9 614.7 L545.8 616.2 L542.4 616.4 L540.3 618.3 L537.0 620.6 L539.2 623.3 L538.6 625.8 L541.2 627.2 L543.5 628.9Z M808.0 647.8 L811.7 647.0 L815.7 647.1 L817.6 644.6 L820.2 643.6 L823.0 643.0 L819.8 641.2 L818.2 638.5 L815.2 640.0 L811.7 640.5 L808.4 641.2 L805.9 642.8 L806.1 645.8Z M647.8 772.7 L646.3 775.9 L643.0 776.3 L640.9 778.7 L638.8 780.9 L635.5 781.3 L633.4 783.3 L630.2 784.7 L630.4 788.5 L627.7 790.3 L627.6 793.8 L625.6 796.1 L624.2 798.9 L622.3 801.4 L618.8 802.7 L618.7 806.5 L614.8 808.2 L615.9 811.3 L617.1 814.3 L618.3 817.4 L619.2 820.5 L620.2 823.6 L621.1 826.8 L622.1 829.9 L623.0 833.0 L626.0 832.0 L629.0 831.0 L632.0 830.0 L635.0 829.0 L638.0 828.0 L641.0 827.0 L644.0 826.0 L647.0 825.0 L650.0 824.0 L653.0 823.0 L656.0 822.0 L659.0 821.0 L662.0 820.0 L665.0 819.0 L668.0 818.0 L671.0 817.0 L674.0 816.0 L677.0 815.0 L680.0 814.0 L683.0 813.0 L686.0 812.0 L689.0 811.0 L692.0 810.0 L695.0 809.0 L698.0 808.0 L696.4 805.4 L694.8 802.8 L693.2 800.2 L691.6 797.5 L690.0 794.9 L688.5 792.3 L686.9 789.7 L685.3 787.1 L683.7 784.5 L681.1 782.4 L681.8 778.2 L680.2 776.1 L678.1 774.3 L675.6 771.6 L672.5 771.6 L669.4 771.1 L666.0 773.2 L663.1 773.0 L660.1 773.0 L657.1 772.9 L654.1 773.2 L651.1 774.5Z" fill="#cccccc" stroke="#000" stroke-width="3.4" stroke-linejoin="round"/>
<path d="M117.4 294.2 L126.2 286.1 L127.6 266.8 M159.8 468.8 L153.6 466.3 L139.9 462.5 L127.4 465.0 L117.4 471.3 L109.9 475.0 L102.5 476.3 M104.9 446.3 L101.2 451.3 L100.0 461.3 L104.9 471.3 L103.7 476.3 M267.3 424.9 L269.8 432.4 L267.3 439.9 M277.3 422.5 L279.8 431.2 M289.8 423.7 L288.5 431.2 M298.5 427.4 L294.8 433.7 M309.7 437.4 L302.3 439.9 L294.8 444.9 L289.8 452.4 L289.8 462.4 L292.3 469.9 L294.8 477.3 M297.3 447.4 L302.3 454.9 L306.0 462.4 M304.8 444.9 L307.3 452.4 M314.7 444.9 L317.2 452.4 M321.0 449.9 L319.7 457.4 M331.0 456.1 L327.2 462.4 L323.5 468.6 M296.0 469.9 L302.3 474.8 L309.7 479.8 L314.7 481.1 M299.8 473.6 L302.3 484.8 M342.2 496.0 L348.4 499.8 M312.2 501.0 L319.7 503.5 L327.2 508.5 L335.9 512.3 M319.7 503.5 L324.7 498.5 M276.1 471.1 L279.8 477.3 L277.3 479.8 M282.3 449.9 L284.8 458.6 L282.3 464.9 L277.3 469.9 M264.8 484.8 L272.3 487.3 L277.3 494.8 L282.3 499.8 M229.9 462.4 L237.4 464.9 L244.9 469.9 L252.4 471.1 L259.9 474.8 M232.4 454.9 L239.9 458.6 L248.6 459.9 L254.9 464.9 L259.9 469.9 L264.8 467.4 L269.8 459.9 L277.3 454.9 M227.4 477.3 L233.7 474.8 L237.4 477.3 M211.2 452.4 L214.9 454.9 M211.2 462.4 L216.2 464.9 M212.5 472.3 L217.4 473.6 M213.7 482.3 L218.7 481.1 M247.4 494.8 L248.6 489.8 M252.4 498.5 L253.6 492.3 M257.4 498.5 L258.0 492.3 M262.3 496.0 L262.3 489.8 M227.4 453.6 L231.2 462.4 L228.7 469.9 L232.4 477.3 L237.4 481.1 M159.8 469.9 L153.6 467.4 L139.9 463.7 L127.4 466.2 L117.4 472.4 L109.9 476.2 L102.5 477.4 M104.9 447.5 L101.2 452.5 L100.0 462.5 L104.9 472.4 L103.7 477.4 M123.7 498.6 L132.4 495.5 L139.9 502.4 L146.1 497.4 L154.8 494.9 L159.8 492.4 M139.9 502.4 L144.9 514.8 M132.4 495.5 L129.9 509.9 L124.9 514.8 M136.1 509.9 L132.4 519.8 M117.4 476.2 L118.7 479.9 M124.9 474.9 L126.8 478.7 M132.4 473.7 L134.9 477.4 M139.9 473.7 L142.4 477.4 M147.4 474.9 L150.5 478.0 M153.6 476.2 L156.7 478.7 M325.0 735.5 L322.5 745.5 L335.0 755.5 L347.5 755.5 M337.5 730.5 L345.0 738.0 L357.5 745.5 M310.0 758.0 L315.0 770.5 L322.5 778.0 M302.5 763.0 L310.0 775.5 M332.5 758.0 L337.5 770.5 L335.0 783.0 M322.5 748.0 L315.0 753.0 M325.0 765.5 L330.0 775.5 M530.9 629.6 L532.3 638.5 L534.1 646.6 L535.8 650.2 M537.6 628.7 L538.5 637.6 L540.3 643.0 M517.9 642.1 L523.3 644.8 L526.9 650.2 M520.6 653.8 L526.9 657.3 L531.4 653.8 L535.8 657.3 M531.4 660.9 L537.6 664.5 L543.0 662.7 M535.8 668.1 L542.1 671.7 L544.8 677.1 M539.4 680.6 L544.8 683.3 L548.4 680.6 M550.2 652.9 L550.2 662.7 M544.8 637.6 L548.4 644.8 L550.2 650.2 M543.0 621.5 L548.4 623.3 L553.8 620.6 M550.2 629.6 L555.6 631.4 L560.9 628.7 M562.7 655.6 L566.3 660.9 L569.9 662.7 M733.1 621.9 L740.6 622.6 L748.2 620.6 M633.3 524.0 L640.8 524.8 M760.5 324.0 L773.0 332.8 L785.5 344.0 L800.5 354.0 L813.0 362.8 L825.5 366.5 L830.5 361.5 M825.5 366.5 L830.5 376.5 L836.8 381.5 M660.5 122.5 L673.0 117.5 L683.0 116.2 L688.5 112.5 M768.0 221.2 L775.5 212.5 L788.0 215.0 L798.0 213.8 M764.2 270.0 L768.0 252.5 L775.5 243.8 L791.8 242.0 M650.5 207.5 L649.2 220.0 L644.2 223.8 M165.4 202.1 L163.6 203.4 L162.1 204.9 M171.6 207.7 L168.6 204.9 L166.2 202.1 M180.2 203.2 L175.4 202.8 L173.5 203.4 M178.2 192.0 L176.4 190.6 L174.0 189.6 M155.0 216.5 L154.7 219.3 L155.8 223.6 M155.7 217.8 L152.5 220.4 L150.1 223.9 M144.2 220.4 L146.5 223.0 L149.0 224.4 M181.4 287.4 L179.0 289.5 L176.9 291.4 M182.2 297.5 L179.4 296.5 L174.6 294.3 M186.2 302.1 L185.0 300.7 L184.1 299.8 M189.2 301.1 L186.7 301.2 L185.7 298.3 M192.7 302.2 L190.8 298.6 L189.6 297.0 M201.4 298.1 L201.3 296.4 L199.5 294.8 M204.4 295.7 L202.7 296.8 L200.9 296.0 M212.3 285.6 L213.1 281.6 L212.3 275.8 M219.1 280.7 L216.5 281.8 L214.4 281.9 M222.8 269.3 L221.6 270.4 L219.0 269.6 M201.7 250.3 L201.3 253.4 L199.8 254.8 M191.6 240.9 L188.7 241.3 L184.7 240.6 M178.6 281.1 L175.8 280.9 L170.2 282.4 M104.4 352.2 L102.3 351.9 L98.5 348.7 M110.8 351.5 L110.2 346.8 L111.0 340.8 M130.0 352.9 L128.8 348.7 L129.7 345.9 M142.2 349.7 L139.2 346.7 L137.0 344.0 M148.7 351.4 L146.3 346.5 L143.7 341.8 M151.6 348.7 L151.3 347.8 L152.5 343.8 M158.4 357.9 L158.8 355.9 L161.2 354.7 M160.2 359.8 L159.5 358.8 L157.0 357.5 M163.6 359.1 L161.8 357.0 L161.1 356.8 M168.7 349.4 L164.2 350.1 L161.0 349.1 M157.3 338.7 L158.9 340.3 L161.5 344.7 M148.2 338.0 L148.4 340.3 L149.8 343.6 M136.7 329.4 L134.3 327.4 L133.8 325.7 M139.7 330.4 L140.6 327.9 L140.4 324.1 M148.8 332.6 L148.9 327.9 L150.9 323.5 M154.1 321.9 L153.9 324.6 L154.9 326.8 M153.6 312.3 L149.9 314.6 L146.2 316.7 M156.4 315.2 L157.9 312.9 L160.8 311.9 M160.3 317.8 L157.4 312.6 L154.9 308.3 M164.6 308.7 L163.2 308.3 L160.7 310.5 M162.3 305.4 L160.7 303.1 L157.2 301.0 M166.2 301.0 L164.7 302.3 L161.5 301.8 M182.2 300.1 L184.8 301.6 L187.3 302.3 M180.2 293.4 L182.8 290.9 L185.5 289.2 M180.1 279.3 L184.1 279.3 L187.5 279.5 M169.2 277.7 L166.9 282.1 L164.8 285.1 M167.4 274.9 L165.9 276.5 L164.2 276.7 M156.8 267.0 L159.7 270.4 L161.0 272.7 M155.8 270.3 L155.9 271.5 L156.7 273.8 M149.6 274.6 L153.7 275.8 L156.0 277.0 M151.4 278.6 L145.5 278.4 L140.7 279.6 M148.9 285.2 L150.4 284.1 L152.6 284.6 M147.2 289.0 L152.9 286.7 L156.9 285.1 M150.1 274.7 L145.5 274.8 L140.9 275.8 M147.5 271.7 L146.0 273.0 L142.0 273.1 M149.0 268.1 L145.3 270.8 L141.3 273.5 M141.6 264.0 L143.0 267.7 L144.1 269.1 M120.0 265.4 L118.2 267.3 L117.8 272.1 M88.9 362.6 L88.6 361.2 L89.0 359.6 M96.9 359.4 L96.4 355.0 L96.1 351.9 M102.3 355.5 L99.5 350.4 L97.6 347.1 M196.1 377.2 L199.0 378.2 L200.6 380.3 M194.9 392.6 L197.4 394.6 L198.5 396.2 M186.1 396.2 L189.6 395.5 L192.8 395.7 M188.7 399.1 L191.1 397.2 L192.7 396.5 M188.3 404.1 L188.9 398.0 L188.1 393.6 M201.0 405.8 L202.3 399.1 L202.3 395.6 M204.4 403.7 L206.3 404.1 L207.5 401.4 M207.0 405.3 L209.1 403.5 L212.2 400.3 M218.6 399.4 L214.8 399.8 L210.6 398.9 M218.1 395.2 L216.0 395.3 L211.9 396.7 M208.4 378.1 L210.6 380.1 L212.1 383.0 M207.7 368.7 L205.5 366.3 L203.6 364.6 M209.2 365.8 L205.3 366.1 L203.5 365.0 M214.1 360.4 L217.2 356.2 L218.3 353.7 M225.8 358.8 L227.0 355.8 L225.8 352.4 M227.6 350.7 L222.3 352.6 L219.3 354.4 M224.9 349.6 L226.7 351.3 L228.0 355.2 M217.1 349.2 L218.9 351.9 L219.3 353.9 M215.1 351.7 L216.3 352.9 L217.3 357.0 M220.4 337.7 L219.5 336.6 L220.5 333.4 M229.2 335.5 L226.8 334.1 L223.8 330.9 M230.0 318.3 L225.8 316.5 L220.8 316.8 M226.5 309.8 L223.8 312.8 L222.1 313.5 M224.0 308.1 L222.7 311.7 L221.9 314.9 M221.7 308.3 L221.8 311.9 L224.5 316.3 M218.0 308.5 L219.1 311.3 L219.4 313.1 M207.2 322.9 L208.6 326.5 L210.1 331.3 M204.7 324.8 L206.4 322.8 L209.8 321.0 M204.1 321.7 L202.7 322.3 L200.3 321.8 M203.5 318.5 L204.9 320.7 L204.4 324.4 M193.9 330.8 L199.1 331.4 L204.8 332.8 M194.8 334.0 L198.7 334.1 L200.5 335.7 M197.2 340.3 L198.1 339.5 L201.8 339.9 M151.2 402.5 L152.8 400.7 L153.1 399.8 M159.2 391.7 L158.2 390.8 L158.7 389.5 M165.7 386.4 L161.4 387.6 L158.9 387.1 M164.2 384.5 L164.0 388.1 L161.7 391.1 M162.1 381.0 L161.3 384.3 L159.9 388.3 M146.6 381.1 L145.7 385.3 L146.6 389.6 M145.0 379.4 L139.8 379.4 L136.0 379.3 M145.0 376.2 L143.0 373.5 L142.9 370.2 M147.7 370.1 L147.7 371.5 L148.1 372.8 M141.9 368.5 L143.3 372.3 L143.4 375.4 M136.0 369.3 L135.7 371.8 L135.8 374.0 M119.7 394.7 L121.3 390.5 L124.5 387.2 M121.3 397.0 L124.1 397.3 L127.5 395.9 M136.4 401.8 L136.3 402.3 L134.6 400.2 M119.7 411.3 L117.3 414.5 L117.3 418.0 M96.2 400.1 L96.0 401.3 L94.6 403.7 M93.0 401.8 L90.4 405.0 L89.8 409.9 M80.7 403.4 L82.5 404.4 L86.6 405.0 M78.8 419.3 L80.9 419.6 L83.0 420.8 M105.3 423.8 L103.6 421.2 L101.5 418.5 M107.4 420.6 L106.2 418.8 L104.5 417.2 M110.4 420.2 L110.8 417.6 L112.6 412.6 M182.6 412.8 L182.9 413.6 L184.3 414.2 M187.1 423.7 L186.3 419.7 L184.3 414.8 M189.9 411.2 L189.0 414.5 L187.8 417.8 M144.3 411.2 L144.4 413.4 L146.5 416.4 M138.7 411.9 L141.7 415.1 L143.1 418.7 M133.1 413.0 L136.3 416.4 L138.4 419.6 M137.2 422.7 L140.9 422.7 L143.0 423.8 M138.4 425.7 L139.2 425.5 L142.4 424.5 M138.9 428.2 L139.0 425.9 L139.7 422.3 M154.8 438.0 L153.2 432.4 L151.0 428.3 M158.2 437.0 L157.1 433.2 L156.9 429.5 M190.0 493.7 L189.7 490.6 L189.4 489.4 M190.0 493.5 L189.0 491.1 L187.8 487.1 M201.2 483.7 L195.0 483.3 L192.1 482.5 M201.0 476.6 L195.7 476.4 L192.3 474.6 M193.5 456.1 L188.7 457.3 L183.3 457.3 M205.4 437.4 L206.9 435.7 L207.1 431.3 M209.6 448.0 L214.0 447.3 L216.7 448.2 M211.0 451.9 L211.0 455.5 L210.6 460.7 M209.8 454.9 L212.6 454.0 L216.0 453.4 M211.1 461.9 L214.2 462.2 L217.1 462.1 M210.7 472.0 L211.9 471.7 L214.9 473.4 M212.4 483.1 L213.8 483.5 L215.3 485.6 M212.8 489.8 L217.4 489.3 L221.5 487.4 M215.4 493.3 L217.9 488.3 L218.6 485.4 M222.4 496.0 L219.7 493.8 L217.2 490.9 M255.8 496.8 L254.4 497.2 L250.1 495.6 M262.2 490.1 L260.8 486.5 L258.9 481.5 M264.3 487.0 L262.2 483.8 L261.1 479.2 M264.9 488.8 L264.6 482.8 L264.7 479.3 M276.1 490.0 L281.9 487.3 L285.3 485.0 M280.2 492.9 L280.7 489.9 L282.3 485.8 M283.0 495.1 L284.3 495.4 L287.9 494.1 M281.9 496.9 L284.6 493.3 L286.7 492.4 M289.5 502.6 L292.7 500.7 L294.0 498.0 M296.6 505.0 L295.6 502.6 L296.7 501.2 M305.8 509.6 L306.1 506.3 L307.6 502.5 M317.9 510.2 L320.8 505.7 L324.9 502.9 M326.9 513.3 L329.8 509.8 L331.8 505.4 M330.9 511.5 L333.8 507.9 L336.4 503.5 M340.7 512.7 L339.6 510.5 L339.3 508.8 M345.2 512.5 L341.8 511.4 L340.8 508.8 M349.8 485.0 L347.3 485.7 L345.8 485.0 M328.6 451.4 L326.6 453.0 L323.5 455.5 M321.5 448.7 L318.5 449.3 L316.0 451.0 M320.6 444.7 L317.6 447.8 L316.8 448.7 M317.4 443.0 L317.8 445.5 L317.9 447.4 M313.3 443.1 L312.3 446.3 L309.8 449.9 M309.9 442.1 L309.8 443.3 L309.0 447.3 M299.2 443.7 L299.5 446.5 L298.4 450.2 M294.5 447.7 L296.5 449.2 L300.8 450.9 M291.7 443.8 L290.8 440.5 L291.1 438.9 M296.5 438.4 L295.7 437.7 L296.0 435.3 M302.6 437.4 L301.3 431.9 L302.1 428.4 M306.9 433.7 L306.3 433.3 L305.0 430.8 M307.7 430.7 L302.9 434.0 L299.0 436.9 M270.6 423.4 L271.3 425.8 L273.9 429.5 M255.7 427.5 L256.9 430.8 L256.9 433.7 M249.6 431.7 L252.7 434.1 L253.8 437.0 M241.7 434.9 L242.9 436.2 L244.9 437.7 M239.1 436.9 L242.3 438.7 L244.4 440.7 M224.3 441.7 L223.2 444.6 L222.3 447.7 M220.4 436.2 L216.9 440.5 L215.0 442.0 M215.0 435.6 L211.9 435.1 L209.6 435.6 M212.4 430.1 L209.9 432.5 L209.0 436.8 M189.7 428.4 L188.9 431.1 L187.3 432.2 M173.9 461.7 L177.5 463.1 L179.5 463.2 M173.4 464.7 L178.5 462.0 L184.1 461.5 M127.4 558.7 L125.4 556.6 L122.2 552.4 M129.7 546.1 L126.8 546.2 L123.5 544.2 M131.5 543.1 L126.6 541.7 L122.8 539.8 M135.2 535.9 L132.6 532.6 L131.2 529.3 M141.3 528.7 L140.2 527.1 L139.5 526.4 M146.6 521.4 L147.1 519.6 L145.9 517.2 M149.3 520.0 L145.8 518.2 L141.3 516.2 M160.3 510.6 L156.5 509.3 L152.6 506.6 M161.8 496.1 L156.4 497.8 L151.8 498.3 M160.3 492.7 L159.8 492.7 L156.6 493.5 M161.3 489.3 L157.9 488.3 L155.1 489.1 M160.6 482.7 L158.6 483.3 L157.2 486.0 M156.1 472.1 L155.7 471.8 L154.2 469.8 M159.5 469.1 L154.2 469.1 L150.3 467.6 M159.0 462.1 L157.5 462.3 L155.1 463.5 M157.0 456.6 L156.2 457.0 L153.6 459.2 M144.2 447.2 L144.2 451.8 L144.7 456.1 M136.1 444.5 L135.9 446.6 L137.2 448.5 M110.9 443.7 L110.2 446.4 L109.0 449.7 M101.8 446.4 L102.5 446.4 L104.6 448.3 M95.2 447.2 L95.8 450.7 L95.4 454.9 M89.6 450.8 L89.2 453.9 L89.9 459.2 M83.8 454.8 L86.1 457.0 L90.3 458.8 M79.2 455.1 L83.4 456.4 L85.9 456.5 M80.7 458.2 L83.5 460.1 L85.4 461.4 M78.6 473.7 L82.1 474.9 L83.3 474.8 M79.9 483.1 L82.3 481.0 L85.0 480.2 M80.6 486.2 L83.4 486.6 L87.8 488.2 M172.6 668.8 L170.6 671.2 L169.2 673.0 M172.0 665.9 L168.7 667.0 L165.8 669.6 M158.2 661.9 L157.7 663.1 L155.4 663.9 M153.7 656.7 L151.7 660.0 L151.9 661.7 M168.3 696.7 L167.8 694.3 L167.4 691.2 M173.9 692.6 L172.9 690.0 L170.2 685.8 M176.0 700.7 L178.5 702.4 L181.0 702.3 M177.4 703.9 L179.0 702.9 L181.1 703.9 M293.3 782.5 L294.0 777.2 L294.1 773.9 M297.2 781.0 L298.1 779.2 L297.5 774.8 M306.4 780.6 L304.1 775.7 L303.3 771.5 M320.3 782.4 L321.5 782.8 L325.9 782.0 M326.0 794.5 L328.0 795.0 L332.6 793.0 M328.1 797.4 L329.5 796.2 L331.6 794.2 M333.6 795.7 L331.3 795.3 L329.6 793.6 M336.8 790.5 L332.2 787.1 L330.1 782.7 M336.5 787.3 L334.8 783.5 L331.6 781.1 M338.8 784.9 L333.5 784.7 L331.2 784.5 M356.1 752.6 L353.9 751.3 L352.2 749.2 M359.3 746.4 L355.8 746.2 L351.5 746.0 M358.7 742.5 L354.3 743.5 L350.0 743.9 M362.3 736.4 L362.2 733.4 L361.2 728.9 M365.9 736.3 L363.3 734.1 L361.5 731.6 M368.1 734.1 L363.6 730.2 L358.9 727.7 M369.9 731.4 L370.1 728.4 L368.7 724.8 M377.7 726.8 L374.8 724.7 L372.2 722.6 M384.7 721.5 L380.9 716.5 L378.6 712.4 M385.8 710.5 L380.7 707.7 L375.7 704.6 M392.1 684.0 L390.9 683.3 L392.0 680.2 M395.5 678.5 L394.1 678.9 L390.6 678.8 M392.5 671.4 L388.5 674.1 L383.8 676.5 M393.1 660.0 L391.4 659.2 L388.1 659.1 M395.3 657.8 L392.1 653.7 L388.0 650.6 M399.7 653.2 L396.2 647.7 L393.7 643.9 M406.4 646.1 L400.5 644.5 L395.5 643.8 M411.2 629.8 L409.9 629.4 L407.2 628.9 M413.4 626.8 L406.9 623.8 L402.9 622.8 M412.0 621.9 L412.9 620.7 L412.1 618.7 M424.5 618.8 L424.0 612.8 L422.7 608.3 M434.2 610.7 L432.8 608.0 L429.4 604.8 M438.6 611.3 L435.8 607.1 L436.1 605.8 M439.6 604.8 L435.6 603.2 L433.2 602.7 M436.9 598.9 L436.3 598.2 L432.6 597.9 M409.3 592.2 L409.0 594.2 L409.4 598.3 M406.7 586.7 L405.4 580.0 L405.4 575.3 M426.3 572.8 L419.0 570.5 L413.8 569.9 M421.6 561.2 L420.5 561.7 L418.7 560.8 M420.9 554.9 L419.1 560.3 L417.4 566.1 M417.5 554.7 L415.5 557.7 L415.4 558.7 M402.5 545.5 L402.0 548.8 L399.8 552.6 M393.3 542.2 L392.5 543.6 L393.2 545.6 M387.1 539.4 L384.8 542.7 L382.2 546.3 M370.1 533.5 L369.2 535.4 L367.8 536.0 M363.2 533.0 L364.6 535.3 L364.5 536.9 M360.9 531.2 L357.5 534.0 L354.5 535.5 M316.9 519.3 L314.8 521.1 L312.5 523.7 M313.4 516.9 L317.1 521.1 L320.6 523.9 M307.7 521.4 L313.4 523.5 L316.8 526.4 M307.5 525.7 L310.1 525.5 L312.3 525.9 M304.5 528.1 L306.1 532.9 L306.8 538.1 M298.2 527.7 L298.0 530.9 L297.6 534.4 M292.0 529.6 L292.0 532.1 L293.7 536.3 M288.8 528.1 L289.6 530.4 L289.2 533.7 M276.8 523.2 L275.6 524.8 L273.2 527.4 M264.8 514.1 L261.6 518.9 L259.1 521.7 M260.8 515.4 L259.6 517.5 L258.2 520.1 M256.1 538.1 L258.4 541.5 L259.8 544.0 M254.2 541.3 L257.0 540.8 L262.1 542.9 M242.0 531.3 L236.9 534.4 L234.9 535.1 M239.5 528.7 L240.4 530.6 L239.8 533.0 M228.7 532.4 L231.5 532.9 L233.2 533.3 M225.0 540.2 L227.8 542.4 L231.4 545.1 M239.1 560.5 L240.0 561.2 L240.9 563.3 M239.7 566.4 L242.1 566.1 L243.4 566.6 M240.9 567.7 L244.4 569.3 L249.5 570.0 M239.9 574.6 L242.8 572.7 L247.0 569.5 M241.5 578.0 L243.6 578.1 L246.1 579.7 M238.2 584.2 L243.2 586.5 L247.7 590.3 M229.2 597.4 L231.5 600.6 L231.6 601.4 M221.4 605.1 L227.0 609.3 L231.0 612.5 M221.8 609.3 L226.4 610.0 L230.7 612.6 M217.6 609.8 L222.5 615.7 L226.8 618.9 M216.5 612.8 L219.6 615.3 L223.3 616.4 M213.0 618.5 L214.0 620.2 L215.4 621.3 M197.2 632.5 L202.9 634.2 L208.8 634.3 M195.2 639.5 L195.3 640.9 L196.6 642.7 M195.5 636.5 L199.5 638.9 L204.3 640.6 M181.0 644.9 L183.4 643.9 L186.8 644.4 M177.2 646.0 L180.7 649.1 L182.6 650.2 M176.0 648.8 L181.7 649.5 L184.8 651.6 M182.9 657.0 L183.3 651.3 L184.4 648.8 M189.3 654.5 L187.6 651.1 L187.2 649.5 M186.7 678.3 L188.4 681.5 L189.5 686.4 M172.7 683.6 L167.9 679.6 L165.6 674.8 M171.6 679.7 L169.9 679.9 L167.3 678.2 M470.0 80.8 L469.5 78.3 L469.6 75.2 M248.3 126.5 L247.2 122.0 L246.7 120.9 M303.6 107.8 L303.2 105.9 L301.3 103.3 M310.1 105.2 L308.2 100.8 L305.8 97.5 M339.2 92.4 L339.0 92.3 L336.8 90.0 M215.3 150.3 L215.0 148.5 L213.7 146.8 M219.5 145.1 L217.1 144.8 L213.2 143.3 M228.6 306.2 L231.0 303.1 L234.9 300.6 M230.9 307.9 L235.0 305.2 L238.4 302.4 M232.1 310.9 L234.0 309.5 L237.5 308.0 M242.7 321.5 L243.8 321.0 L246.6 319.4 M256.9 327.8 L254.5 324.6 L251.4 321.7 M250.7 359.2 L252.4 356.4 L253.6 354.2 M257.6 358.0 L255.9 356.6 L255.3 353.9 M258.9 351.7 L257.4 354.2 L253.4 356.4 M251.1 348.0 L254.5 350.3 L257.3 353.5 M274.7 391.7 L271.9 391.5 L269.1 392.6 M262.8 385.9 L264.3 386.9 L266.6 391.0 M256.0 386.5 L257.1 388.9 L260.1 392.1 M252.0 394.2 L251.4 396.5 L253.1 399.2 M250.1 396.4 L252.3 398.5 L254.7 400.6 M247.2 397.8 L247.6 399.2 L248.1 401.1 M258.4 400.8 L259.3 397.1 L261.7 393.7 M271.6 395.9 L270.0 393.1 L268.0 393.0 M222.5 420.6 L221.0 420.0 L218.8 422.1 M224.2 419.5 L219.2 417.0 L215.1 416.0 M223.9 416.7 L222.4 417.0 L219.5 417.0 M223.4 414.4 L222.0 417.2 L219.2 422.2 M216.8 411.9 L219.8 416.4 L221.3 422.0 M214.8 415.7 L215.3 418.0 L216.4 421.7 M252.1 410.1 L251.5 416.2 L251.0 420.0 M248.0 422.5 L245.8 418.5 L244.1 414.0 M253.3 417.1 L249.6 414.4 L247.1 411.5 M532.0 668.5 L532.4 664.8 L534.7 661.5 M537.7 680.4 L537.8 678.6 L539.0 677.9 M545.7 689.9 L547.3 688.1 L549.0 686.0 M546.1 693.7 L550.0 691.5 L552.1 691.7 M555.0 695.2 L550.6 693.0 L546.8 692.4 M553.1 692.1 L552.3 690.4 L549.8 688.3 M552.9 673.5 L548.4 675.1 L544.7 677.2 M553.3 669.8 L550.1 670.8 L548.2 672.1 M552.7 662.6 L546.4 661.5 L542.3 662.1 M550.9 659.1 L546.1 658.1 L542.8 658.5 M551.5 655.5 L547.6 655.3 L545.3 656.8 M556.8 654.9 L559.9 655.9 L562.7 654.3 M555.7 658.5 L559.7 657.5 L563.7 658.4 M556.9 660.9 L560.3 658.2 L560.9 656.1 M558.5 663.1 L560.9 661.7 L563.9 660.0 M560.9 665.2 L563.2 664.8 L567.1 666.2 M577.4 664.1 L574.7 664.9 L573.4 666.6 M559.4 646.3 L558.1 647.6 L555.0 648.7 M536.8 629.5 L535.3 632.7 L534.4 638.2 M532.8 626.6 L534.6 629.4 L535.8 631.3 M524.6 630.9 L523.7 636.1 L524.0 638.3 M522.0 634.8 L524.0 636.5 L524.5 637.9 M515.5 644.9 L518.6 645.7 L521.7 644.6 M513.9 649.0 L518.1 643.8 L520.7 640.4 M516.0 651.4 L518.7 649.4 L520.7 647.0 M527.4 664.8 L531.6 663.3 L536.4 662.5 M660.5 148.7 L661.3 148.8 L662.6 147.0 M685.4 173.8 L684.9 171.5 L686.8 169.6 M689.2 179.6 L688.8 175.3 L686.5 173.2 M763.7 191.2 L762.5 192.0 L760.3 191.2 M738.4 228.9 L738.9 231.2 L741.3 233.9 M724.5 338.5 L724.3 338.7 L726.0 340.8 M750.3 418.6 L753.3 420.8 L755.0 421.5 M818.1 494.1 L816.3 492.0 L815.2 489.5 M835.2 529.8 L835.3 530.7 L837.6 533.3 M784.7 565.7 L787.5 565.9 L789.1 567.6 M799.2 569.8 L799.6 567.4 L799.1 564.9 M641.5 103.8 L641.8 102.4 L642.2 101.8 M651.9 110.7 L653.6 108.1 L653.1 106.6 M679.3 184.9 L677.5 188.0 L675.4 189.7 M665.0 212.4 L664.7 214.2 L665.7 216.8 M658.8 239.1 L658.2 237.3 L656.0 234.8 M685.0 389.5 L687.9 390.0 L689.5 391.7 M685.5 406.7 L685.0 409.5 L683.8 410.5 M650.6 422.6 L651.9 424.8 L654.0 426.5 M662.2 433.3 L662.2 431.2 L661.7 428.7 M679.7 434.6 L677.0 433.7 L675.1 431.7 M633.3 525.2 L633.5 524.5 L634.7 523.9 M790.9 657.2 L790.9 653.4 L790.0 650.7 M784.6 646.8 L783.7 646.8 L784.0 648.4 M713.9 556.2 L715.3 556.8 L717.1 558.7 M713.0 584.5 L714.2 582.8 L715.6 582.9 M719.8 599.7 L720.7 599.8 L721.4 598.6 M566.5 629.9 L561.7 627.8 L556.0 628.0 M566.1 620.2 L562.5 620.9 L558.9 621.5 M558.4 613.7 L558.1 615.2 L556.5 618.0 M542.4 616.4 L544.8 617.1 L547.9 619.7 M540.3 618.3 L541.2 620.6 L542.3 624.0 M537.0 620.6 L542.8 621.9 L547.6 622.2 M539.2 623.3 L542.0 621.0 L544.0 619.9 M541.2 627.2 L543.7 626.2 L544.8 623.0 M815.7 647.1 L815.2 645.9 L815.6 644.3 M806.1 645.8 L808.8 645.1 L809.2 645.1 M646.3 775.9 L647.2 777.7 L648.1 781.6 M643.0 776.3 L644.8 778.0 L646.2 780.5 M635.5 781.3 L638.5 783.5 L641.5 784.7 M630.2 784.7 L634.2 790.8 L635.1 794.3 M627.7 790.3 L630.1 794.3 L631.0 797.8 M625.6 796.1 L626.3 797.5 L628.1 798.6 M618.7 806.5 L618.3 808.0 L619.6 811.1 M678.1 774.3 L674.2 777.3 L669.4 778.2 M675.6 771.6 L673.7 775.7 L672.7 779.0 M666.0 773.2 L665.4 773.6 L665.3 776.7 M654.1 773.2 L654.2 773.9 L654.7 775.7" fill="none" stroke="#000" stroke-width="3.4" stroke-linejoin="round" stroke-linecap="round"/>
<path d="M232.2 376.5 L247.1 375.2 L245.9 380.2 L233.4 380.8Z M264.8 487.3 L274.8 486.1 L277.3 494.8 L269.8 493.6Z M322.5 734.2 L332.5 733.0 L340.0 738.0 L337.5 748.0 L342.5 755.5 L332.5 754.2 L325.0 748.0 L321.2 741.8Z M529.6 652.0 L535.8 650.2 L542.1 653.8 L543.0 660.9 L539.4 666.3 L534.1 668.1 L530.5 662.7Z M537.6 673.5 L543.0 671.7 L546.6 677.1 L544.8 682.4 L540.3 680.6Z M606.4 554.1 L613.9 552.4 L620.2 553.4 L621.7 562.9 L621.5 570.5 L613.9 573.0 L607.7 573.0 L605.7 564.2Z M761.8 361.5 L766.8 369.0 L775.5 377.8 L788.0 381.5 L780.5 385.2 L779.2 394.0 L773.0 389.0 L763.0 391.5 L770.5 384.0 L759.2 371.5Z M668.0 150.0 L684.2 145.0 L683.0 150.0 L676.8 152.5 L680.5 158.8 L673.0 157.5Z" fill="#000" stroke="#000" stroke-width="2" stroke-linejoin="round"/>
</g>
<path d="M476.50 836.40 L476.50 540.41 M673.20 783.69 L525.21 527.36 M817.19 639.70 L560.86 491.71 M869.90 443.00 L573.91 443.00 M817.19 246.30 L560.86 394.29 M673.20 102.31 L525.21 358.64 M476.50 49.60 L476.50 345.59 M279.80 102.31 L427.79 358.64 M135.81 246.30 L392.14 394.29 M83.10 443.00 L379.09 443.00 M135.81 639.70 L392.14 491.71 M279.80 783.69 L427.79 527.36" fill="none" stroke="#808080" stroke-width="4.1" stroke-dasharray="3.9 3.87"/>
<circle cx="476.5" cy="443.0" r="195.2" fill="none" stroke="#808080" stroke-width="4.1" stroke-dasharray="3.9 3.87"/>
<circle cx="476.5" cy="443.0" r="393.4" fill="none" stroke="#808080" stroke-width="4.1" stroke-dasharray="3.9 3.87"/>
</g>
<circle cx="476.5" cy="443.0" r="393.7" fill="none" stroke="#000" stroke-width="1.5"/>
<g clip-path="url(#clip1)">
<rect x="1023" y="40" width="800" height="810" fill="#fff"/>
<path d="M1000.0 30.0 L1850.0 30.0 L1850.0 860.0 L1000.0 860.0Z" fill="#0a294d"/>
<path d="M1021.0 341.5 L1051.0 349.0 L1106.0 361.5 L1131.0 374.0 L1171.0 379.0 L1183.5 389.0 L1196.0 396.5 L1206.0 414.0 L1211.0 421.5 L1258.5 439.0 L1271.0 479.0 L1246.0 504.0 L1296.0 529.0 L1321.0 558.0 L1321.0 558.0 L1246.0 658.0 L1196.0 783.0 L1021.0 783.0Z" fill="#042333"/>
<path d="M1366.0 125.0 L1381.0 122.5 L1386.0 100.0 L1391.0 100.0 L1396.0 117.5 L1391.0 140.0 L1383.5 147.5 L1376.0 155.0 L1371.0 140.0Z" fill="#042333"/>
<path d="M1465.2 162.5 L1489.0 165.0 L1490.2 186.2 L1501.5 190.0 L1491.5 207.5 L1484.0 205.0 L1472.8 217.5 L1466.5 212.5 L1466.5 187.5Z" fill="#042333"/>
<path d="M1639.0 380.2 L1679.0 396.5 L1659.0 401.5 L1694.0 409.0 L1691.5 414.0 L1649.0 412.8 L1639.0 419.0 L1647.8 426.5 L1649.0 441.5 L1667.8 449.0 L1666.5 469.0 L1662.8 491.5 L1681.5 500.2 L1680.2 509.0 L1696.5 519.0 L1690.2 541.5 L1704.0 554.0 L1706.5 558.0 L1706.5 558.0 L1794.0 558.0 L1794.0 658.0 L1744.0 663.0 L1719.0 675.5 L1706.5 668.0 L1694.0 658.0 L1684.0 638.0 L1676.5 623.0 L1666.5 603.0 L1664.0 578.0 L1659.0 558.0 L1659.0 558.0 L1644.0 529.0 L1634.0 519.0 L1626.5 544.0 L1594.0 539.0 L1559.0 529.0 L1574.0 514.0 L1594.0 511.5 L1619.0 499.0 L1621.5 469.0 L1626.5 454.0 L1619.0 429.0 L1614.0 404.0Z" fill="#042333"/>
<path d="M1569.0 593.0 L1579.0 583.0 L1589.0 558.0 L1659.0 558.0 L1664.0 578.0 L1666.5 603.0 L1676.5 623.0 L1681.5 633.0 L1669.0 630.5 L1659.0 640.5 L1644.0 653.0 L1626.5 655.5 L1614.0 658.0 L1604.0 663.0 L1591.5 653.0 L1574.0 640.5 L1559.0 630.5 L1559.0 620.5 L1574.0 608.0 L1579.0 598.0Z" fill="#042333"/>
<path d="M1366.0 728.0 L1403.5 725.5 L1411.0 708.0 L1419.0 708.0 L1424.0 708.0 L1424.0 808.0 L1419.0 758.0 L1403.5 765.5 L1366.0 760.5Z" fill="#042333"/>
<path d="M1367.5 705.0 L1390.0 700.0 L1420.0 705.0 L1423.0 759.0 L1367.5 759.0Z" fill="#042333"/>
<path d="M1159.8 162.5 L1163.5 152.5 L1182.2 137.5 L1196.0 150.0 L1198.5 140.0 L1208.5 145.0 L1221.0 136.2 L1238.5 123.8 L1249.8 120.0 L1264.8 136.2 L1268.5 131.2 L1291.0 124.5 L1301.0 137.0 L1321.0 132.0 L1331.0 145.5 L1356.0 143.0 L1363.0 175.0 L1365.0 155.5 L1376.0 156.5 L1386.0 148.0 L1419.0 144.2 L1419.0 152.5 L1441.5 157.5 L1446.5 170.0 L1461.5 175.0 L1466.5 212.5 L1472.8 217.5 L1486.5 217.5 L1491.5 227.5 L1504.0 230.0 L1504.0 242.5 L1514.0 250.0 L1509.0 262.5 L1521.5 262.5 L1544.0 275.0 L1559.0 272.5 L1566.5 279.0 L1555.2 279.0 L1579.0 279.0 L1594.0 295.2 L1611.5 286.5 L1624.0 304.0 L1636.5 319.0 L1641.5 334.0 L1631.5 351.5 L1626.5 366.5 L1614.0 384.0 L1604.0 391.5 L1594.0 411.5 L1591.5 417.8 L1574.0 426.5 L1574.0 439.0 L1591.5 444.0 L1594.0 454.0 L1589.0 464.0 L1591.5 471.5 L1589.0 479.0 L1591.5 491.5 L1584.0 504.0 L1569.0 511.5 L1559.0 516.5 L1549.0 526.5 L1559.0 531.5 L1564.0 544.0 L1559.0 554.0 L1554.0 595.5 L1549.0 615.5 L1554.0 633.0 L1559.0 648.0 L1569.0 658.0 L1589.0 665.5 L1606.5 663.0 L1619.0 665.5 L1631.5 661.8 L1644.0 658.0 L1659.0 653.0 L1674.0 658.0 L1679.0 648.0 L1691.5 655.5 L1699.0 668.0 L1714.0 675.5 L1724.0 683.0 L1744.0 698.0 L1744.0 858.0 L1419.0 858.0 L1440.0 805.0 L1435.0 730.0 L1430.0 730.0 L1423.0 730.0 L1423.0 705.0 L1400.0 705.0 L1400.0 680.0 L1395.0 670.0 L1390.0 655.0 L1390.0 630.0 L1390.0 610.0 L1387.5 590.0 L1382.5 575.0 L1376.0 551.5 L1376.0 551.5 L1368.5 549.0 L1358.5 539.0 L1343.5 526.5 L1331.0 531.5 L1321.0 524.0 L1313.5 516.5 L1308.5 504.0 L1301.0 496.5 L1298.5 476.5 L1296.0 459.0 L1283.5 449.0 L1293.5 444.0 L1276.0 439.0 L1271.0 421.5 L1258.5 419.0 L1256.0 404.0 L1241.0 399.0 L1236.0 384.0 L1218.5 371.5 L1231.0 369.0 L1233.5 346.5 L1223.5 336.5 L1231.0 319.0 L1216.0 304.0 L1201.0 279.0 L1203.5 279.0 L1206.0 272.5 L1196.0 262.5 L1181.0 252.5 L1166.0 240.0 L1153.5 217.5 L1146.0 207.5 L1166.0 183.8Z" fill="#25348b"/>
<path d="M1121.0 311.5 L1126.0 314.0 L1121.0 331.5 L1136.0 344.0 L1131.0 359.0 L1132.2 346.5 L1116.0 332.8Z" fill="#25348b"/>
<path d="M1123.5 220.0 L1136.0 212.5 L1143.5 220.0 L1133.5 230.0Z" fill="#25348b"/>
<path d="M1088.5 225.0 L1108.5 222.5 L1112.2 240.0 L1106.0 250.0 L1091.0 250.0Z" fill="#25348b"/>
<path d="M1091.0 232.5 L1101.0 227.5 L1106.0 235.0 L1101.0 245.0 L1093.5 246.2Z" fill="#5a3c9c"/>
<path d="M1356.0 708.0 L1356.0 718.0 L1346.0 738.0 L1333.5 758.0 L1321.0 778.0 L1311.0 795.5 L1301.0 813.0 L1296.0 820.5 L1271.0 833.0 L1271.0 783.0 L1321.0 708.0Z" fill="#25348b"/>
<path d="M1555.2 279.0 L1534.0 311.5 L1519.0 331.5 L1504.0 344.0 L1494.0 364.0 L1486.5 386.5 L1486.5 419.0 L1481.5 441.5 L1476.5 454.0 L1456.5 474.0 L1446.5 484.0 L1429.0 499.0 L1423.0 504.0 L1423.0 525.0 L1410.0 532.5 L1395.0 540.0 L1385.0 547.5 L1380.0 565.0 L1382.5 580.0 L1392.5 590.0 L1397.5 605.0 L1393.8 630.0 L1395.0 650.0 L1402.5 665.0 L1412.5 675.0 L1423.0 680.0 L1423.0 677.2 L1427.5 681.1 L1428.5 718.6 L1426.5 758.1 L1423.6 797.5 L1423.0 809.3 L1423.0 866.5 L1419.0 858.0 L1744.0 858.0 L1744.0 703.0 L1721.5 694.2 L1714.0 690.5 L1699.0 688.0 L1684.0 683.0 L1669.0 678.0 L1654.0 673.0 L1639.0 670.5 L1624.0 670.5 L1609.0 670.5 L1594.0 673.0 L1574.0 673.0 L1559.0 668.0 L1544.0 663.0 L1536.5 653.0 L1536.5 633.0 L1544.0 615.5 L1554.0 595.5 L1559.0 554.0 L1564.0 544.0 L1559.0 531.5 L1549.0 526.5 L1559.0 516.5 L1569.0 511.5 L1579.0 504.0 L1569.0 491.5 L1574.0 474.0 L1589.0 479.0 L1591.5 471.5 L1579.0 464.0 L1589.0 464.0 L1594.0 454.0 L1591.5 444.0 L1574.0 439.0 L1594.0 434.0 L1581.5 431.5 L1574.0 426.5 L1594.0 424.0 L1591.5 417.8 L1604.0 414.0 L1594.0 411.5 L1609.0 399.0 L1604.0 391.5 L1614.0 384.0 L1626.5 366.5 L1631.5 351.5 L1641.5 334.0 L1636.5 319.0 L1624.0 304.0 L1611.5 286.5 L1594.0 295.2 L1579.0 279.0Z" fill="#5a3c9c"/>
<path d="M1376.0 551.5 L1386.0 541.5 L1401.0 534.0 L1419.0 529.0 L1424.0 529.0 L1424.0 579.0 L1371.0 564.0Z" fill="#5a3c9c"/>
<path d="M1336.0 713.0 L1346.0 720.5 L1336.0 738.0 L1321.0 758.0 L1308.5 778.0 L1296.0 798.0 L1286.0 810.5 L1271.0 808.0 L1296.0 758.0 L1321.0 713.0Z" fill="#5a3c9c"/>
<path d="M1403.5 558.0 L1424.0 558.0 L1424.0 663.0 L1413.5 663.0 L1406.0 633.0 L1403.5 595.5Z" fill="#5a3c9c"/>
<path d="M1386.0 558.0 L1403.5 558.0 L1403.5 595.5 L1406.0 633.0 L1413.5 663.0 L1396.0 668.0 L1388.5 633.0Z" fill="#25348b"/>
<path d="M1549.0 424.0 L1529.0 434.0 L1519.0 454.0 L1511.5 469.0 L1491.5 486.5 L1469.0 504.0 L1449.0 529.0 L1441.5 544.0 L1434.0 558.0 L1435.0 580.0 L1430.0 590.0 L1432.6 597.6 L1431.5 620.0 L1428.5 659.4 L1432.4 679.2 L1433.4 718.6 L1430.5 758.1 L1425.5 797.5 L1423.2 817.2 L1423.0 866.5 L1419.0 858.0 L1744.0 858.0 L1744.0 708.0 L1719.0 698.0 L1704.0 695.5 L1689.0 690.5 L1674.0 685.5 L1659.0 680.5 L1644.0 676.8 L1629.0 676.8 L1614.0 676.8 L1594.0 679.2 L1574.0 680.5 L1559.0 675.5 L1549.0 668.0 L1525.0 620.0 L1535.0 610.0 L1545.0 595.0 L1552.5 575.0 L1562.5 545.0 L1570.0 520.0 L1572.5 495.0 L1550.0 480.0 L1559.0 514.0 L1556.5 494.0 L1551.5 479.0 L1554.0 464.0 L1561.5 449.0 L1559.0 434.0Z" fill="#7c4c8f"/>
<path d="M1396.2 610.0 L1401.2 615.0 L1400.0 650.0 L1396.2 652.5Z" fill="#7c4c8f"/>
<path d="M1407.5 595.0 L1415.0 597.5 L1417.5 620.0 L1410.0 622.5Z" fill="#7c4c8f"/>
<path d="M1396.0 633.0 L1411.0 608.0 L1413.5 653.0 L1403.5 673.0Z" fill="#7c4c8f"/>
<path d="M1338.5 698.0 L1347.2 680.5 L1356.0 665.5 L1361.0 678.0 L1353.5 700.5 L1346.0 713.0Z" fill="#7c4c8f"/>
<path d="M1342.2 698.0 L1349.0 684.2 L1356.0 671.8 L1357.2 680.5 L1351.0 696.8 L1346.0 706.8Z" fill="#c26579"/>
<path d="M1291.0 780.5 L1303.5 755.5 L1321.0 735.5 L1336.0 728.0 L1333.5 745.5 L1318.5 763.0 L1308.5 778.0 L1296.0 790.5Z" fill="#7c4c8f"/>
<path d="M1294.8 778.0 L1306.0 758.0 L1321.0 740.5 L1331.0 734.2 L1328.5 744.2 L1316.0 760.5 L1306.0 775.5 L1297.2 785.5Z" fill="#9c5987"/>
<path d="M1509.0 536.5 L1491.5 544.0 L1481.5 551.5 L1474.0 558.0 L1455.0 562.5 L1445.0 580.0 L1442.6 585.1 L1441.4 610.2 L1439.3 620.0 L1434.4 659.4 L1436.4 679.2 L1437.4 718.6 L1433.4 758.1 L1426.5 797.5 L1423.2 817.2 L1423.0 866.5 L1419.0 858.0 L1744.0 858.0 L1744.0 713.0 L1719.0 703.0 L1704.0 700.5 L1689.0 695.5 L1674.0 690.5 L1659.0 685.5 L1644.0 683.0 L1629.0 683.0 L1614.0 683.0 L1594.0 685.5 L1574.0 686.8 L1559.0 683.0 L1549.0 675.5 L1515.0 615.0 L1525.0 605.0 L1535.0 590.0 L1545.0 570.0 L1552.5 550.0 L1550.0 530.0 L1525.0 520.0 L1500.0 525.0 L1475.0 542.5 L1455.0 562.5Z" fill="#9c5987"/>
<path d="M1450.2 590.1 L1448.9 610.2 L1447.2 620.0 L1440.3 659.4 L1441.3 679.2 L1441.3 718.6 L1437.4 758.1 L1427.5 797.5 L1423.2 818.2 L1423.0 866.5 L1419.0 858.0 L1744.0 858.0 L1744.0 718.0 L1719.0 708.0 L1704.0 705.5 L1689.0 700.5 L1674.0 695.5 L1659.0 691.8 L1644.0 691.8 L1629.0 690.5 L1614.0 690.5 L1594.0 691.8 L1574.0 693.0 L1559.0 688.0 L1549.0 683.0 L1500.0 597.5 L1520.0 590.0 L1530.0 572.5 L1535.0 555.0 L1525.0 545.0 L1510.0 537.5 L1490.0 555.0 L1465.0 572.5Z" fill="#c26579"/>
<path d="M1659.0 693.0 L1669.0 690.5 L1694.0 698.0 L1719.0 703.0 L1714.0 718.0 L1694.0 733.0 L1679.0 738.0 L1666.5 733.0 L1659.0 718.0Z" fill="#9c5987"/>
<path d="M1664.0 708.0 L1669.0 705.5 L1674.0 710.5 L1671.5 718.0 L1665.2 718.0Z" fill="#5a3c9c"/>
<path d="M1465.2 592.6 L1457.7 602.6 L1451.4 622.7 L1453.2 627.9 L1448.2 659.4 L1448.2 679.2 L1449.2 718.6 L1442.3 758.1 L1431.5 797.5 L1423.6 817.2 L1423.0 866.5 L1419.0 858.0 L1744.0 858.0 L1679.0 743.0 L1664.0 728.0 L1654.0 708.0 L1644.0 701.8 L1629.0 700.5 L1614.0 699.2 L1594.0 699.2 L1574.0 700.5 L1559.0 695.5 L1549.0 690.5 L1481.5 621.5 L1487.3 607.2 L1500.9 595.6 L1505.9 586.3 L1500.4 581.3 L1485.3 582.1 L1467.7 589.6Z" fill="#e47160"/>
<path d="M1475.3 588.9 L1462.7 597.6 L1455.2 610.2 L1457.1 627.9 L1455.1 659.4 L1455.1 679.2 L1455.1 718.6 L1447.2 758.1 L1434.4 797.5 L1426.5 817.2 L1423.2 827.1 L1423.0 866.5 L1419.0 858.0 L1744.0 858.0 L1674.0 745.5 L1659.0 730.5 L1649.0 715.5 L1644.0 710.5 L1629.0 709.2 L1614.0 708.0 L1594.0 708.0 L1574.0 710.5 L1559.0 705.5 L1549.0 700.5 L1477.8 619.0 L1482.8 602.6 L1496.6 591.4 L1498.3 586.3 L1485.3 586.3 L1470.2 593.9Z" fill="#f99146"/>
<path d="M1460.2 610.2 L1458.2 625.2 L1462.0 659.4 L1463.0 679.2 L1463.0 718.6 L1453.2 758.1 L1439.3 797.5 L1430.5 817.2 L1423.6 831.0 L1423.0 866.5 L1419.0 858.0 L1744.0 858.0 L1671.5 746.8 L1656.5 733.0 L1645.2 720.5 L1629.0 718.0 L1614.0 717.5 L1594.0 718.0 L1574.0 720.5 L1559.0 715.5 L1544.0 710.5 L1534.0 703.0 L1465.7 622.7 L1464.0 613.9Z" fill="#fbb93c"/>
<path d="M1462.7 616.4 L1461.5 635.3 L1467.0 659.4 L1467.9 679.2 L1468.9 718.6 L1458.1 758.1 L1443.3 797.5 L1434.4 817.2 L1423.6 833.0 L1423.0 866.5 L1419.0 858.0 L1744.0 858.0 L1670.2 748.0 L1654.0 736.8 L1644.0 730.5 L1629.0 726.0 L1614.0 725.5 L1594.0 726.0 L1574.0 728.0 L1559.0 724.2 L1544.0 720.5 L1529.0 718.0 L1519.0 710.5 L1465.7 627.7 L1464.7 619.0Z" fill="#f0e552"/>
<path d="M1476.8 722.6 L1470.9 738.3 L1465.0 758.1 L1449.2 797.5 L1439.3 817.2 L1427.5 833.0 L1423.6 837.0 L1423.0 866.5 L1419.0 858.0 L1744.0 858.0 L1669.0 748.5 L1661.5 743.5 L1651.5 738.5 L1639.0 736.0 L1624.0 733.5 L1609.0 733.5 L1594.0 733.5 L1581.5 728.5 L1569.0 726.0 L1559.0 731.0 L1544.0 736.0 L1529.0 736.0 L1519.0 731.0 L1506.5 726.0 L1475.3 720.6Z" fill="#e8fa5b"/>
<path d="M1336.0 828.0 L1351.0 818.0 L1371.0 805.5 L1396.0 790.5 L1419.0 776.0 L1424.0 773.2 L1424.0 837.0 L1424.0 883.0 L1321.0 883.0Z" fill="#25348b"/>
<path d="M1363.5 828.0 L1376.0 818.0 L1396.0 803.5 L1419.0 788.5 L1424.0 785.8 L1424.0 837.0 L1424.0 883.0 L1321.0 883.0Z" fill="#5a3c9c"/>
<path d="M1382.2 825.5 L1398.5 811.0 L1419.0 795.0 L1424.0 792.0 L1424.0 837.0 L1424.0 883.0 L1321.0 883.0Z" fill="#7c4c8f"/>
<path d="M1391.0 826.8 L1403.5 816.0 L1419.0 800.5 L1424.0 797.0 L1424.0 837.0 L1424.0 883.0 L1321.0 883.0Z" fill="#9c5987"/>
<path d="M1398.5 828.5 L1408.5 819.2 L1419.0 805.5 L1424.0 801.2 L1424.0 837.0 L1424.0 883.0 L1321.0 883.0Z" fill="#c26579"/>
<path d="M1404.0 830.5 L1412.2 820.5 L1419.0 810.5 L1424.0 805.8 L1424.0 837.0 L1424.0 883.0 L1321.0 883.0Z" fill="#e47160"/>
<path d="M1408.5 832.2 L1414.8 823.0 L1419.0 816.8 L1424.0 811.5 L1424.0 837.0 L1424.0 883.0 L1321.0 883.0Z" fill="#f99146"/>
<path d="M1413.0 833.5 L1417.2 826.8 L1424.0 818.5 L1424.0 837.0 L1424.0 883.0 L1321.0 883.0Z" fill="#fbb93c"/>
<path d="M1416.0 834.5 L1419.8 829.2 L1424.0 823.0 L1424.0 837.0 L1424.0 883.0 L1321.0 883.0Z" fill="#f0e552"/>
<path d="M1418.5 835.5 L1421.0 831.8 L1424.0 826.5 L1424.0 837.0 L1424.0 883.0 L1321.0 883.0Z" fill="#e8fa5b"/>
<path d="M1479.0 608.0 L1501.5 605.5 L1511.5 615.5 L1494.0 618.0 L1481.5 615.5Z" fill="#0a294d"/>
<path d="M1591.5 459.0 L1646.5 456.5 L1621.5 469.0 L1619.0 499.0 L1589.0 491.5 L1591.5 474.0Z" fill="#0a294d"/>
<path d="M1574.0 514.0 L1634.0 519.0 L1626.5 544.0 L1594.0 539.0 L1559.0 529.0Z" fill="#0a294d"/>
<path d="M1571.5 474.0 L1589.0 479.0 L1591.5 491.5 L1584.0 504.0 L1574.0 499.0 L1570.2 486.5Z" fill="#25348b"/>
<path d="M1159.8 153.0 L1158.5 162.5 L1167.2 183.8 L1143.5 209.5 L1118.5 198.8 L1096.0 190.0 L1121.0 150.0Z" fill="#ffffff"/>
<path d="M1159.8 153.0 L1163.5 152.5 L1182.2 137.5 L1196.0 125.0 L1203.5 121.2 L1221.0 112.5 L1233.5 105.0 L1258.5 107.5 L1267.2 110.0 L1278.5 108.8 L1291.0 123.8 L1313.5 116.2 L1326.0 132.5 L1356.0 126.2 L1366.0 123.8 L1381.0 122.5 L1386.0 100.0 L1391.0 100.0 L1396.0 117.5 L1419.0 120.0 L1419.0 138.8 L1441.5 138.8 L1444.0 158.8 L1464.0 162.5 L1489.0 165.0 L1490.2 186.2 L1502.8 190.0 L1494.0 207.5 L1510.2 193.8 L1515.2 195.0 L1514.0 215.0 L1520.2 220.0 L1519.0 237.5 L1526.5 242.5 L1522.8 262.5 L1544.0 273.8 L1556.5 262.5 L1560.2 265.0 L1555.2 275.0 L1566.5 279.0 L1555.2 279.0 L1569.0 284.0 L1579.0 279.0 L1594.0 295.2 L1611.5 286.5 L1624.0 304.0 L1636.5 319.0 L1641.5 334.0 L1626.5 346.5 L1646.5 345.2 L1634.0 354.0 L1666.5 344.0 L1664.0 351.5 L1626.5 366.5 L1659.0 364.0 L1639.0 376.5 L1639.0 380.2 L1679.0 396.5 L1659.0 401.5 L1694.0 409.0 L1691.5 414.0 L1649.0 412.8 L1639.0 419.0 L1647.8 426.5 L1649.0 441.5 L1667.8 449.0 L1666.5 469.0 L1662.8 491.5 L1681.5 500.2 L1680.2 509.0 L1696.5 519.0 L1690.2 541.5 L1704.0 554.0 L1706.5 558.0 L1704.0 558.0 L1702.8 563.0 L1709.0 570.5 L1719.0 576.8 L1737.8 579.2 L1741.5 568.0 L1735.2 558.0 L1819.0 558.0 L1850.0 300.0 L1850.0 20.0 L1150.0 20.0Z" fill="#ffffff"/>
<path d="M1182.2 133.8 L1199.8 152.5 L1192.2 130.0Z" fill="#ffffff"/>
<path d="M1196.0 125.0 L1209.8 143.8 L1203.5 122.5Z" fill="#ffffff"/>
<path d="M1248.5 111.2 L1258.5 107.5 L1268.5 133.8 L1263.5 136.2Z" fill="#ffffff"/>
<path d="M1132.2 227.5 L1146.0 232.5 L1161.0 250.0 L1173.5 265.0 L1166.0 262.5 L1151.0 250.0 L1138.5 237.5Z" fill="#ffffff"/>
<path d="M1472.8 217.5 L1479.0 190.0 L1476.5 212.5Z" fill="#ffffff"/>
<path d="M1491.5 227.5 L1501.5 197.5 L1509.0 197.5 L1506.5 215.0 L1497.8 230.0Z" fill="#ffffff"/>
<path d="M1111.0 391.5 L1121.0 387.8 L1131.0 391.5 L1129.8 396.5 L1118.5 396.5Z" fill="#ffffff"/>
<path d="M1028.5 434.0 L1037.2 434.0 L1037.2 454.0 L1028.5 454.0Z" fill="#ffffff"/>
<path d="M1591.5 416.5 L1614.0 412.8 L1594.0 417.8Z" fill="#ffffff"/>
<path d="M1589.0 470.2 L1619.0 474.0 L1616.5 476.5 L1594.0 472.8Z" fill="#ffffff"/>
<path d="M1601.5 391.5 L1639.0 380.2 L1609.0 394.0Z" fill="#ffffff"/>
<path d="M1138.5 630.5 L1151.0 616.8 L1161.0 614.2 L1156.0 623.0 L1143.5 630.5Z" fill="#ffffff"/>
<path d="M1368.5 583.0 L1376.0 563.0 L1371.0 585.5Z" fill="#ffffff"/>
<path d="M1391.0 623.0 L1397.2 588.0 L1396.0 620.5Z" fill="#ffffff"/>
<path d="M1346.0 663.0 L1356.0 643.0 L1351.0 665.5Z" fill="#ffffff"/>
<path d="M1379.8 703.0 L1386.0 665.5 L1389.8 683.0 L1383.5 703.0Z" fill="#ffffff"/>
<path d="M1367.5 567.5 L1377.5 547.5 L1372.5 570.0Z" fill="#ffffff"/>
<path d="M1365.0 590.0 L1377.5 562.5 L1370.0 592.5Z" fill="#ffffff"/>
<path d="M1390.0 625.0 L1397.5 587.5 L1398.8 605.0 L1393.8 625.0Z" fill="#ffffff"/>
<path d="M1378.8 702.5 L1386.2 665.0 L1390.0 680.0 L1383.8 703.8Z" fill="#ffffff"/>
<path d="M1341.2 660.0 L1355.0 642.5 L1346.2 672.5Z" fill="#ffffff"/>
<path d="M1525.2 665.5 L1530.2 665.5 L1544.0 698.0 L1540.2 700.5 L1529.0 680.5Z" fill="#ffffff"/>
<path d="M1516.5 694.2 L1520.2 695.5 L1529.0 723.0 L1525.2 720.5Z" fill="#ffffff"/>
<path d="M1501.5 663.0 L1505.2 661.8 L1514.0 685.5 L1511.5 686.8Z" fill="#ffffff"/>
<path d="M1499.0 693.0 L1504.0 688.0 L1507.8 708.0 L1505.2 710.5Z" fill="#ffffff"/>
<path d="M1756.5 595.5 L1771.5 595.5 L1781.5 604.2 L1774.0 608.0 L1764.0 603.0Z" fill="#ffffff"/>
<path d="M1730.2 639.2 L1746.5 644.2 L1731.5 680.5 L1729.0 675.5 L1744.0 645.5Z" fill="#ffffff"/>
<path d="M1694.0 718.0 L1706.5 704.2 L1712.8 708.0 L1699.0 723.0Z" fill="#ffffff"/>
<path d="M1569.0 101.2 L1573.5 104.5 L1569.0 110.5Z" fill="#0a294d"/>
<path d="M1597.8 141.2 L1611.5 149.5 L1609.0 155.5 L1599.0 148.0Z" fill="#0a294d"/>
<path d="M1619.0 170.0 L1634.0 180.0 L1644.0 185.0 L1659.0 172.5 L1662.8 175.0 L1644.0 190.0 L1631.5 186.2 L1621.5 178.8Z" fill="#0a294d"/>
<path d="M1563.5 190.0 L1574.0 177.0 L1587.0 185.0 L1582.0 198.0 L1571.5 200.5Z" fill="#0a294d"/>
<path d="M1606.5 203.0 L1619.0 170.0 L1622.8 175.0 L1616.5 191.2 L1612.0 201.2Z" fill="#0a294d"/>
<path d="M1616.5 213.0 L1619.0 197.5 L1627.0 195.0 L1624.5 213.0Z" fill="#0a294d"/>
<path d="M1597.8 240.0 L1604.0 238.8 L1600.2 246.2Z" fill="#0a294d"/>
<path d="M1421.0 50.0 L1428.0 50.0 L1427.0 65.5 L1420.0 68.0Z" fill="#0a294d"/>
<path d="M1432.0 443.0 L1431.3 439.6 L1429.4 436.6 L1426.4 434.7 L1423.0 434.0 L1419.6 434.7 L1416.6 436.6 L1414.7 439.6 L1414.0 443.0 L1414.7 446.4 L1416.6 449.4 L1419.6 451.3 L1423.0 452.0 L1426.4 451.3 L1429.4 449.4 L1431.3 446.4 L1432.0 443.0Z" fill="#ffffff"/>
<path d="M1421.6 520.0 L1424.6 520.0 L1424.6 840.0 L1421.6 840.0Z" fill="#ffffff"/>
<path d="M1729.8 540.4 L1747.3 530.3 L1772.4 536.6 L1787.5 532.8 L1802.5 522.8 L1822.6 522.8 L1822.6 557.9 L1797.5 552.9 L1782.5 550.4 L1769.9 555.4 L1759.9 545.4 L1749.9 542.9 L1739.8 550.4Z" fill="#fff"/>
<path d="M1744.8 531.6 L1757.4 529.1 L1772.4 533.3 L1782.5 530.8 L1795.0 517.8 L1782.5 521.5 L1772.4 525.3 L1767.4 516.5 L1757.4 514.0 L1744.8 520.3Z" fill="#fff"/>
<path d="M1744.5 531.5 L1757.0 525.2 L1769.5 526.5 L1782.0 522.8 L1794.5 516.5 L1789.5 529.0 L1779.5 532.8 L1764.5 537.8 L1752.0 536.5Z" fill="#fff"/>
<g transform="translate(946.5 0)">
<path d="M165.4 202.1 L168.4 203.5 L170.9 205.5 L171.6 207.7 L174.8 207.4 L176.8 205.6 L180.2 203.2 L176.9 200.6 L175.3 197.4 L175.2 194.1 L178.2 192.0 L180.8 190.4 L179.5 188.0 L178.7 185.2 L175.9 184.5 L173.5 182.3 L170.8 180.8 L168.1 179.4 L165.4 177.9 L162.7 176.5 L160.0 175.0 L158.6 177.9 L157.1 180.7 L155.7 183.6 L154.3 186.4 L152.9 189.3 L151.4 192.1 L150.0 195.0 L148.6 197.9 L147.1 200.7 L145.7 203.6 L144.3 206.4 L142.9 209.3 L141.4 212.1 L140.0 215.0 L143.0 215.0 L146.0 215.0 L149.0 215.1 L152.0 215.7 L155.0 216.5 L157.5 213.5 L160.8 215.3 L162.4 212.3 L163.1 209.0 L164.0 205.7Z M140.0 225.0 L143.2 226.5 L146.7 225.8 L149.7 224.9 L153.2 226.1 L157.0 225.7 L157.9 222.9 L158.8 222.2 L157.5 219.8 L155.7 217.8 L154.9 214.9 L151.9 215.8 L150.4 218.9 L147.8 220.4 L144.2 220.4 L142.5 223.3Z M181.4 287.4 L180.6 290.9 L182.4 294.1 L182.2 297.5 L183.5 300.8 L183.2 303.0 L186.2 302.1 L189.2 301.1 L192.7 302.2 L195.9 302.1 L198.6 300.1 L201.4 298.1 L203.2 298.8 L204.4 295.7 L205.1 292.6 L203.2 289.2 L206.1 287.6 L209.5 287.5 L212.3 285.6 L215.9 285.8 L217.6 283.3 L219.1 280.7 L221.9 278.5 L222.9 275.7 L224.0 272.9 L222.8 269.3 L224.8 265.7 L221.3 265.8 L217.7 267.2 L214.6 264.1 L211.6 264.5 L208.2 262.5 L206.8 259.3 L206.6 255.2 L203.3 253.3 L201.7 250.3 L198.1 249.3 L197.9 245.3 L194.2 243.5 L191.6 240.9 L190.4 237.4 L188.0 233.4 L186.1 236.6 L183.3 238.1 L180.7 240.1 L177.3 241.1 L173.7 240.0 L170.1 240.2 L166.5 239.7 L162.9 239.4 L163.9 242.1 L165.5 244.7 L164.6 248.0 L166.5 250.9 L163.8 252.9 L162.5 254.6 L164.4 256.8 L165.4 259.8 L168.0 262.1 L169.2 265.5 L172.0 267.6 L174.0 269.9 L175.9 272.3 L177.5 274.9 L178.5 277.5 L178.6 281.1 L182.0 283.7Z M104.4 352.2 L107.3 351.2 L110.8 351.5 L113.2 349.4 L115.8 350.0 L119.9 348.4 L123.0 350.4 L126.7 350.4 L130.0 352.9 L133.1 352.3 L136.0 350.2 L139.3 352.2 L142.2 349.7 L145.5 350.4 L148.7 351.4 L151.6 348.7 L154.7 350.2 L157.7 349.1 L160.8 352.0 L157.4 353.6 L154.7 356.1 L158.4 357.9 L160.2 359.8 L163.6 359.1 L166.8 357.3 L165.7 353.3 L168.7 349.4 L166.2 346.9 L166.2 343.7 L164.6 341.5 L162.6 339.2 L159.7 338.8 L157.3 338.7 L154.3 338.6 L151.3 336.1 L148.2 338.0 L145.2 338.0 L142.2 335.7 L139.2 338.1 L135.8 337.7 L132.7 336.7 L131.1 333.5 L133.6 330.1 L136.7 329.4 L139.7 330.4 L142.7 331.7 L145.8 330.7 L148.8 332.6 L151.8 332.3 L155.2 331.7 L156.8 328.7 L159.8 328.5 L163.2 327.0 L161.2 323.3 L158.0 321.7 L154.1 321.9 L151.3 319.9 L152.7 316.2 L153.6 312.3 L156.4 315.2 L160.3 317.8 L162.3 314.8 L165.4 312.9 L167.6 309.5 L164.6 308.7 L162.3 305.4 L164.9 303.6 L166.2 301.0 L169.4 303.1 L169.4 307.5 L172.2 309.7 L174.7 307.0 L177.6 304.9 L179.9 303.7 L182.2 300.1 L179.6 296.9 L180.2 293.4 L178.8 290.1 L179.1 286.7 L177.8 283.4 L180.1 279.3 L177.3 277.6 L175.5 273.4 L173.1 276.6 L169.2 277.7 L167.4 274.9 L167.6 271.0 L164.9 268.2 L161.3 266.6 L156.8 267.0 L155.8 270.3 L153.7 272.8 L149.6 274.6 L151.4 278.6 L148.3 281.5 L148.9 285.2 L147.2 289.0 L145.8 284.8 L146.6 281.5 L146.4 277.9 L150.1 274.7 L147.5 271.7 L149.0 268.1 L147.3 264.6 L144.4 264.2 L141.6 264.0 L138.8 264.4 L136.2 265.7 L132.8 265.9 L129.3 266.8 L126.1 265.8 L123.2 264.1 L120.0 265.4 L117.1 263.8 L114.0 263.5 L111.0 263.1 L108.0 262.8 L104.9 262.4 L103.8 265.4 L102.6 268.4 L101.4 271.3 L100.2 274.3 L99.0 277.3 L97.8 280.2 L96.6 283.2 L95.4 286.2 L94.3 289.1 L93.1 292.1 L91.9 295.1 L90.7 298.1 L89.5 301.0 L88.3 304.0 L87.1 307.0 L85.9 309.9 L84.8 312.9 L83.6 315.9 L82.4 318.8 L81.2 321.8 L80.0 324.8 L80.0 328.1 L80.0 331.3 L80.0 334.6 L80.0 337.8 L80.0 341.1 L80.0 344.4 L80.0 347.6 L80.0 350.9 L80.0 354.2 L80.0 357.4 L80.0 360.7 L80.0 364.0 L83.0 363.6 L86.0 363.3 L88.9 362.6 L92.1 364.0 L95.8 363.1 L96.9 359.4 L100.0 357.8 L102.3 355.5Z M193.4 373.5 L195.7 373.4 L196.1 377.2 L196.0 380.0 L198.8 380.3 L201.5 380.9 L199.3 382.4 L199.1 386.2 L197.2 389.0 L194.9 392.6 L191.7 391.1 L188.7 390.9 L187.0 392.4 L186.1 396.2 L188.7 399.1 L188.3 404.1 L192.0 401.7 L195.2 403.1 L198.7 403.0 L201.0 405.8 L204.4 403.7 L207.0 405.3 L209.4 405.9 L212.0 403.2 L217.2 403.1 L218.6 399.4 L218.1 395.2 L219.0 392.1 L218.6 389.2 L217.5 386.7 L219.3 383.0 L222.7 379.5 L219.1 379.1 L217.3 377.3 L214.3 377.3 L211.2 375.8 L208.4 378.1 L204.6 377.5 L206.4 374.7 L207.4 371.7 L207.7 368.7 L209.2 365.8 L210.0 362.7 L211.0 359.4 L214.1 360.4 L217.2 360.9 L220.1 362.7 L222.5 361.1 L225.8 358.8 L230.7 356.6 L227.4 354.7 L227.6 350.7 L224.9 349.6 L221.2 350.7 L217.1 349.2 L215.1 351.7 L211.2 351.4 L210.7 348.0 L209.3 344.3 L211.8 341.8 L214.6 339.3 L217.9 340.0 L220.4 337.7 L223.4 337.0 L226.3 336.1 L229.2 335.5 L231.1 334.0 L233.7 332.0 L234.9 330.2 L234.7 326.6 L232.3 324.0 L233.1 320.3 L230.0 318.3 L230.9 314.6 L229.2 311.2 L226.5 309.8 L224.0 308.1 L221.7 308.3 L218.0 308.5 L215.6 310.9 L214.6 313.7 L213.0 316.2 L211.4 318.6 L210.6 322.3 L207.2 322.9 L204.7 324.8 L204.1 321.7 L203.5 318.5 L199.6 318.0 L195.3 319.7 L196.3 323.7 L194.8 327.3 L193.9 330.8 L194.8 334.0 L196.0 337.3 L197.2 340.3 L197.7 343.4 L196.4 346.7 L198.3 349.8 L198.3 353.2 L196.5 356.6 L195.6 360.0 L196.4 363.5 L196.7 368.2 L193.7 366.9 L190.1 368.1 L190.8 371.4Z M147.5 401.0 L151.2 402.5 L155.0 404.3 L158.1 402.9 L160.5 401.5 L161.0 398.5 L160.3 395.6 L159.2 391.7 L162.3 389.7 L165.2 389.2 L165.7 386.4 L164.2 384.5 L162.1 381.0 L159.6 377.3 L155.9 378.1 L153.5 381.8 L149.1 384.0 L146.6 381.1 L145.0 379.4 L145.0 376.2 L147.9 375.7 L150.5 372.8 L154.2 373.5 L151.3 369.5 L147.7 370.1 L144.7 367.8 L141.9 368.5 L139.5 370.6 L136.0 369.3 L133.2 370.8 L130.7 372.3 L128.0 373.4 L126.6 376.7 L123.4 377.1 L120.9 378.5 L118.3 381.1 L115.0 382.6 L112.6 385.1 L113.9 387.8 L116.5 389.7 L118.6 392.1 L119.7 394.7 L121.3 397.0 L121.7 398.9 L124.2 401.0 L126.6 403.6 L129.7 402.5 L133.4 404.8 L136.4 401.8 L139.9 403.1 L143.7 402.5Z M121.8 415.0 L119.7 411.3 L115.7 410.6 L113.4 408.0 L112.2 404.1 L108.9 401.6 L105.3 403.5 L102.4 401.6 L99.2 401.3 L96.2 400.1 L93.0 401.8 L89.7 400.2 L86.5 401.2 L83.2 400.7 L80.8 400.2 L80.7 403.4 L81.3 406.5 L79.4 409.7 L79.6 412.9 L80.3 416.1 L78.8 419.3 L78.7 422.5 L80.4 425.7 L79.8 428.0 L82.5 428.3 L85.2 428.4 L87.7 426.5 L90.4 425.3 L93.5 426.3 L95.9 424.1 L99.4 425.1 L101.7 422.3 L105.3 423.8 L107.4 420.6 L110.4 420.2 L113.0 418.6 L117.1 420.1 L119.8 417.0Z M185.4 410.3 L182.6 412.8 L178.6 413.6 L175.6 416.5 L177.8 419.6 L177.3 422.9 L180.5 424.8 L183.9 423.9 L187.1 423.7 L190.4 423.1 L192.5 420.9 L194.2 419.1 L192.3 416.2 L192.6 411.8 L189.9 411.2 L187.5 410.1Z M160.1 438.7 L162.6 435.2 L162.3 431.3 L163.0 428.0 L165.0 426.4 L167.5 422.6 L165.1 419.7 L164.1 416.5 L161.9 414.3 L160.0 411.0 L156.5 411.7 L153.0 411.7 L149.9 410.5 L147.2 411.7 L144.3 411.2 L141.5 411.3 L138.7 411.9 L136.0 412.9 L133.1 413.0 L130.2 413.4 L128.1 413.3 L130.3 416.7 L131.9 421.0 L134.9 421.3 L137.2 422.7 L138.4 425.7 L138.9 428.2 L141.3 430.6 L143.9 432.6 L148.1 431.4 L149.1 435.3 L153.0 435.0 L154.8 438.0 L158.2 437.0Z M177.8 489.8 L181.2 489.4 L182.2 491.7 L182.4 492.8 L183.0 493.2 L183.7 491.5 L186.6 493.2 L189.6 493.6 L190.0 493.7 L190.0 493.5 L192.5 491.4 L195.5 489.7 L198.0 487.4 L197.4 486.0 L201.2 483.7 L200.3 481.0 L199.2 478.1 L200.0 477.3 L201.0 476.6 L199.3 473.9 L199.0 470.4 L197.2 467.3 L197.0 463.9 L196.4 459.8 L194.7 456.4 L193.5 456.1 L192.5 452.9 L192.0 449.7 L192.4 446.7 L195.5 443.7 L200.5 444.8 L202.0 440.2 L205.4 437.4 L208.4 437.4 L209.4 441.2 L209.1 445.1 L209.6 448.0 L211.0 451.9 L208.9 451.1 L209.8 454.9 L209.5 458.7 L211.5 459.6 L211.1 461.9 L212.7 465.3 L210.9 466.1 L209.3 468.8 L210.7 472.0 L211.5 474.6 L211.8 478.4 L212.5 481.9 L212.4 483.1 L212.3 483.1 L211.6 486.8 L212.8 489.8 L215.0 491.6 L215.4 493.3 L217.6 494.2 L220.2 494.4 L222.4 496.0 L223.6 494.4 L223.1 495.2 L224.6 495.0 L227.1 492.1 L229.6 490.7 L232.8 489.8 L235.9 488.5 L235.8 490.4 L238.4 491.8 L241.7 491.5 L245.8 493.2 L247.5 494.6 L250.1 496.4 L252.4 498.9 L255.1 498.9 L255.8 496.8 L257.9 491.8 L260.3 493.1 L262.2 490.1 L264.3 487.0 L264.9 488.8 L268.1 486.2 L271.3 487.3 L275.0 486.9 L276.1 490.0 L278.3 491.5 L280.2 492.9 L282.5 495.8 L283.0 495.1 L281.9 496.9 L285.8 497.1 L286.4 501.2 L289.5 502.6 L292.4 504.9 L296.6 505.0 L299.5 507.5 L302.8 507.7 L305.8 509.6 L309.4 508.1 L312.4 509.8 L314.6 510.3 L317.9 510.2 L321.1 510.2 L323.8 512.9 L326.9 513.3 L330.9 511.5 L333.8 514.2 L336.7 513.4 L340.7 512.7 L345.2 512.5 L345.0 509.3 L348.3 507.9 L347.2 504.5 L347.8 501.1 L350.7 498.3 L350.8 494.8 L351.3 491.4 L350.7 488.1 L349.8 485.0 L348.8 481.6 L347.5 478.4 L347.7 474.4 L344.6 472.8 L342.7 470.1 L340.4 467.9 L338.2 465.9 L337.0 463.0 L334.7 461.2 L330.9 461.0 L326.9 459.6 L330.4 458.3 L330.4 455.5 L328.6 451.4 L325.3 449.1 L321.5 448.7 L320.6 444.7 L317.4 443.0 L313.3 443.1 L309.9 442.1 L305.8 440.8 L301.9 441.4 L299.2 443.7 L296.8 445.5 L294.5 447.7 L292.3 450.1 L289.8 451.1 L287.1 448.9 L284.7 450.9 L280.6 448.7 L281.8 447.3 L286.0 448.7 L288.6 446.2 L291.7 443.8 L294.4 440.5 L296.5 438.4 L299.9 438.5 L302.6 437.4 L304.7 435.5 L306.9 433.7 L309.1 434.0 L307.7 430.7 L305.4 428.8 L302.1 428.4 L299.5 425.9 L295.7 426.0 L292.8 424.0 L289.9 421.5 L286.8 421.0 L283.3 422.9 L280.7 419.6 L277.6 421.3 L273.8 421.6 L270.6 423.4 L266.9 423.5 L263.2 424.9 L259.5 426.5 L255.7 427.5 L252.3 429.8 L249.6 431.7 L247.8 434.6 L246.1 436.4 L246.1 437.3 L244.9 434.4 L241.7 434.9 L239.1 436.9 L235.8 437.3 L233.4 439.3 L230.3 439.5 L227.4 440.0 L224.3 441.7 L221.2 440.4 L220.4 436.2 L217.2 435.7 L215.0 435.6 L213.9 432.0 L212.4 430.1 L208.6 430.0 L204.7 429.7 L201.7 429.5 L198.8 430.2 L196.2 430.6 L192.9 429.6 L189.7 428.4 L186.0 428.9 L182.6 429.5 L179.2 429.6 L175.7 431.3 L175.6 435.1 L174.1 438.7 L174.3 442.3 L173.5 445.6 L171.4 448.9 L172.7 452.1 L174.1 455.3 L174.7 458.6 L173.9 461.7 L173.4 464.7 L175.2 467.3 L174.7 469.9 L175.6 472.8 L175.4 475.6 L174.5 478.4 L175.2 481.0 L176.5 483.5 L176.8 486.5Z M119.9 585.1 L121.5 581.5 L122.6 577.9 L125.0 576.0 L124.7 572.8 L127.7 570.4 L126.2 567.4 L125.1 564.5 L127.6 562.2 L127.4 558.7 L129.8 556.3 L128.8 552.8 L130.3 549.6 L129.7 546.1 L131.5 543.1 L131.0 539.7 L134.6 538.4 L135.2 535.9 L138.1 533.6 L141.3 531.8 L141.3 528.7 L143.7 526.7 L145.1 524.5 L146.6 521.4 L149.3 520.0 L152.2 519.1 L153.5 516.0 L156.9 515.0 L158.8 512.5 L160.3 510.6 L161.8 506.6 L160.5 503.3 L161.1 503.0 L160.3 499.5 L161.8 496.1 L160.3 492.7 L161.3 489.3 L159.9 485.9 L160.6 482.7 L160.3 479.0 L157.6 476.2 L156.1 472.1 L159.5 469.1 L158.9 465.3 L159.0 462.1 L159.4 458.9 L157.0 456.6 L154.9 453.8 L151.8 451.8 L149.7 449.2 L147.2 447.6 L144.2 447.2 L141.2 447.0 L138.7 445.2 L136.1 444.5 L133.0 444.5 L129.9 442.5 L126.8 442.6 L123.7 445.0 L120.5 445.3 L117.4 443.3 L114.2 444.4 L110.9 443.7 L107.8 445.8 L104.4 444.1 L101.8 446.4 L98.9 447.7 L95.2 447.2 L92.6 449.0 L89.6 450.8 L85.7 450.9 L83.8 454.8 L79.2 455.1 L80.7 458.2 L79.2 461.3 L79.6 464.4 L81.4 467.5 L80.2 470.6 L78.6 473.7 L80.8 476.8 L78.5 480.0 L79.9 483.1 L80.6 486.2 L80.0 489.3 L80.0 492.4 L80.0 495.5 L80.0 499.2 L80.0 503.0 L80.0 506.1 L80.0 509.3 L80.0 512.4 L80.0 515.6 L80.0 518.8 L80.0 521.9 L80.0 525.1 L80.0 528.2 L80.0 531.4 L80.0 534.6 L80.0 537.7 L80.0 540.9 L80.0 544.1 L80.0 547.2 L80.0 550.4 L80.0 553.5 L80.0 556.7 L80.0 559.9 L80.0 563.0 L80.0 566.2 L80.0 569.3 L80.0 572.5 L80.0 575.7 L80.0 578.8 L80.0 582.0 L80.0 585.2 L80.0 588.3 L80.0 591.5 L80.0 594.6 L80.0 597.8 L83.2 597.8 L86.4 597.8 L89.5 597.8 L92.7 597.8 L95.9 597.8 L99.1 597.8 L102.2 597.8 L105.4 597.8 L108.6 599.2 L111.8 597.2 L113.9 597.3 L115.7 595.1 L117.6 592.9 L117.7 589.8 L120.2 588.0Z M175.9 673.9 L172.7 671.9 L172.6 668.8 L172.0 665.9 L171.9 664.4 L167.6 662.6 L166.0 666.9 L163.8 665.6 L159.3 665.2 L158.2 661.9 L156.5 658.9 L153.7 656.7 L151.1 654.1 L147.5 654.1 L144.0 651.8 L140.5 654.2 L137.0 651.8 L133.5 653.0 L130.0 653.0 L131.7 655.8 L133.3 658.6 L135.0 661.3 L136.7 664.1 L138.3 666.9 L140.0 669.7 L141.7 672.4 L143.3 675.2 L145.0 678.0 L146.7 680.8 L148.3 683.6 L150.0 686.3 L151.7 689.1 L153.3 691.9 L155.0 694.7 L156.7 697.4 L158.3 700.2 L160.0 703.0 L162.9 701.1 L165.8 699.2 L168.3 696.7 L171.2 694.9 L173.9 692.6 L175.8 691.3 L177.0 694.6 L177.8 697.8 L176.0 700.7 L177.4 703.9 L175.6 706.9 L175.3 709.9 L175.0 713.0 L177.4 715.0 L179.9 717.0 L182.3 719.0 L184.8 721.0 L187.2 723.1 L189.6 725.1 L192.1 727.1 L194.5 729.1 L197.0 731.1 L199.4 733.1 L201.8 735.1 L204.3 737.1 L206.7 739.2 L209.1 741.2 L211.6 743.2 L214.0 745.2 L216.5 747.2 L218.9 749.2 L221.3 751.2 L223.8 753.2 L226.2 755.3 L228.7 757.3 L231.1 759.3 L233.5 761.3 L236.0 763.3 L238.4 765.3 L240.9 767.3 L243.3 769.3 L245.7 771.4 L248.2 773.4 L250.6 775.4 L253.0 777.4 L255.5 779.4 L257.9 781.4 L260.4 783.4 L262.8 785.4 L265.2 787.5 L267.7 789.5 L270.1 791.5 L272.6 793.5 L275.0 795.5 L277.1 792.8 L280.1 790.8 L282.1 788.0 L282.7 784.2 L285.5 782.0 L287.7 778.7 L290.5 780.8 L293.3 782.5 L297.2 781.0 L300.7 784.1 L303.7 782.8 L306.4 780.6 L308.0 779.5 L311.8 780.1 L315.7 780.8 L320.3 782.4 L320.4 786.2 L321.5 789.6 L322.3 793.2 L326.0 794.5 L328.1 797.4 L329.2 800.0 L330.5 797.2 L333.6 795.7 L335.2 793.1 L336.8 790.5 L336.5 787.3 L338.8 784.9 L337.9 781.1 L341.5 779.4 L344.2 777.0 L346.4 774.1 L348.9 770.9 L347.3 767.0 L348.8 764.1 L350.9 761.3 L350.1 757.2 L354.0 755.6 L356.1 752.6 L356.2 748.7 L359.3 746.4 L358.7 742.5 L360.5 739.6 L362.3 736.4 L365.9 736.3 L368.1 734.1 L369.9 731.4 L371.6 728.5 L374.5 727.1 L377.7 726.8 L379.8 724.7 L381.6 722.0 L384.7 721.5 L388.0 720.2 L385.2 718.5 L383.5 716.0 L382.6 713.0 L385.8 710.5 L386.3 706.5 L387.2 703.3 L385.8 699.7 L383.6 696.9 L379.5 696.0 L378.3 693.4 L379.6 689.9 L381.0 686.4 L382.8 681.4 L385.7 683.0 L388.8 684.2 L392.1 684.0 L394.8 685.5 L396.1 682.2 L395.5 678.5 L398.8 674.6 L396.8 672.1 L392.5 671.4 L391.7 668.2 L388.8 664.6 L393.0 663.9 L393.1 660.0 L395.3 657.8 L398.2 656.0 L399.7 653.2 L400.4 649.8 L404.2 648.8 L406.4 646.1 L406.8 642.6 L406.0 638.7 L407.2 635.5 L409.4 632.9 L411.2 629.8 L413.4 626.8 L412.0 621.9 L415.5 621.9 L418.4 620.7 L421.4 619.6 L424.5 618.8 L427.5 617.7 L429.9 615.4 L432.6 613.7 L434.2 610.7 L438.6 611.3 L438.4 608.3 L439.6 604.8 L439.6 601.6 L436.9 598.9 L437.5 595.0 L434.5 594.4 L431.5 596.1 L428.5 596.9 L425.5 597.1 L422.4 595.8 L418.8 595.9 L416.0 593.7 L413.4 590.8 L409.3 592.2 L406.7 589.3 L403.0 589.8 L399.6 587.1 L402.7 585.6 L406.7 586.7 L409.4 584.2 L411.7 582.0 L415.2 581.3 L417.7 579.2 L419.3 576.2 L422.2 574.6 L426.3 572.8 L423.1 570.2 L422.3 567.3 L422.3 564.2 L421.6 561.2 L422.9 557.3 L420.9 554.9 L417.5 554.7 L414.6 553.7 L411.8 552.7 L409.3 551.1 L406.9 549.5 L404.3 548.1 L402.5 545.5 L399.6 545.0 L397.3 541.5 L393.3 542.2 L390.3 540.5 L387.1 539.4 L384.8 537.2 L382.3 535.5 L378.9 536.0 L376.2 534.8 L373.5 533.9 L370.1 533.5 L366.6 533.7 L363.2 533.0 L360.9 531.2 L356.9 530.2 L353.8 528.7 L353.1 524.3 L350.1 523.2 L346.8 522.4 L344.6 518.9 L341.7 519.8 L339.0 521.3 L336.3 521.6 L333.1 521.2 L329.7 521.9 L326.6 521.1 L323.6 519.8 L320.4 519.0 L316.9 519.3 L313.4 516.9 L309.9 518.6 L307.7 521.4 L307.5 525.7 L304.5 528.1 L301.4 528.3 L298.2 527.7 L295.2 529.3 L292.0 529.6 L288.8 528.1 L285.5 527.9 L281.4 528.6 L280.2 524.8 L276.8 523.2 L274.5 520.7 L271.7 517.9 L267.8 517.5 L264.8 514.1 L260.8 515.4 L256.1 513.5 L256.5 517.6 L253.5 519.2 L252.7 522.3 L254.3 525.0 L254.8 527.9 L255.0 531.3 L254.9 534.7 L256.1 538.1 L254.2 541.3 L250.9 542.1 L248.4 544.3 L246.5 542.6 L243.4 541.1 L243.2 538.0 L243.7 534.9 L242.0 531.3 L239.5 528.7 L236.5 527.3 L234.7 527.4 L230.5 529.2 L228.7 532.4 L228.5 535.5 L226.9 537.8 L225.0 540.2 L225.2 543.5 L224.5 546.8 L227.8 549.3 L230.2 552.4 L231.1 555.7 L233.9 556.9 L236.1 559.1 L236.2 561.9 L239.1 560.5 L238.7 557.9 L238.8 560.8 L238.9 563.7 L239.7 566.4 L240.9 567.7 L240.8 571.1 L239.9 574.6 L241.5 578.0 L238.8 580.8 L238.2 584.2 L238.7 588.1 L236.9 590.9 L235.0 593.7 L231.3 594.8 L229.2 597.4 L226.4 599.3 L226.1 603.3 L222.9 604.6 L221.4 605.1 L221.8 609.3 L217.6 609.8 L216.5 612.8 L215.8 616.3 L213.0 618.5 L209.8 620.3 L208.7 624.2 L206.0 626.5 L203.5 628.9 L200.5 630.7 L197.2 632.5 L194.7 635.1 L195.2 639.5 L191.1 641.3 L192.8 638.5 L195.5 636.2 L197.9 634.1 L195.5 636.5 L193.6 639.3 L190.0 640.5 L186.6 641.5 L183.7 643.9 L181.0 644.9 L177.2 646.0 L176.0 648.8 L174.8 652.1 L177.0 654.0 L179.5 655.2 L182.9 657.0 L185.6 653.8 L189.3 654.5 L193.1 652.9 L191.6 656.8 L194.2 659.6 L194.1 662.6 L192.5 665.9 L192.6 670.2 L189.0 672.3 L189.3 676.4 L186.7 678.3 L183.4 679.8 L181.4 682.1 L179.9 684.3 L178.9 687.0 L178.3 688.4 L176.4 686.2 L174.5 683.9 L172.7 683.6 L171.6 679.7 L174.4 677.4Z M461.1 74.8 L463.7 77.5 L466.5 79.7 L470.0 80.8 L472.8 81.0 L475.1 78.7 L477.3 78.3 L480.4 77.4 L482.1 75.1 L483.8 72.8 L485.7 71.0 L485.7 67.5 L485.3 64.8 L481.9 64.8 L478.9 66.1 L476.3 68.3 L473.3 69.7 L470.3 70.6 L466.6 70.9 L464.3 73.8Z M240.2 130.3 L242.3 128.1 L245.8 128.0 L248.3 126.5 L249.4 122.7 L252.4 121.8 L254.6 119.7 L257.0 117.6 L260.9 118.6 L263.3 115.9 L267.0 116.2 L269.0 112.5 L272.4 112.3 L275.3 110.6 L278.7 109.9 L281.5 108.1 L285.1 107.7 L287.6 104.6 L291.0 104.4 L293.6 107.1 L296.9 107.1 L300.4 109.2 L303.6 107.8 L306.3 104.9 L310.1 105.2 L313.4 104.5 L316.3 102.6 L319.9 102.7 L322.0 100.8 L325.2 101.2 L327.1 103.7 L330.2 104.3 L332.6 106.3 L334.0 103.5 L333.7 100.2 L336.0 97.7 L336.5 94.9 L339.2 92.4 L342.2 90.5 L346.1 90.0 L348.4 87.6 L347.2 85.1 L346.9 82.2 L346.6 80.3 L349.3 77.5 L352.9 76.4 L356.5 75.1 L357.2 72.2 L359.2 69.9 L360.1 67.0 L360.5 63.8 L360.0 60.5 L360.0 57.3 L360.0 54.1 L360.0 50.8 L360.0 47.6 L360.0 44.4 L360.0 41.2 L360.0 37.9 L360.0 34.7 L360.0 31.5 L360.0 28.2 L360.0 25.0 L357.0 26.1 L354.0 27.2 L351.0 28.3 L348.0 29.4 L345.0 30.6 L342.0 31.7 L339.0 32.8 L336.0 33.9 L333.0 35.0 L330.0 36.1 L327.0 37.2 L324.0 38.3 L321.0 39.4 L318.0 40.6 L315.0 41.7 L312.0 42.8 L309.0 43.9 L306.0 45.0 L303.0 46.1 L300.0 47.2 L297.0 48.3 L294.0 49.4 L291.0 50.6 L288.0 51.7 L285.0 52.8 L282.0 53.9 L279.0 55.0 L276.0 56.1 L273.0 57.2 L270.0 58.3 L267.0 59.4 L264.0 60.6 L261.0 61.7 L258.0 62.8 L255.0 63.9 L252.0 65.0 L249.0 66.1 L246.0 67.2 L243.0 68.3 L240.0 69.4 L237.0 70.6 L234.0 71.7 L231.0 72.8 L228.0 73.9 L225.0 75.0 L223.1 77.5 L221.2 80.0 L219.2 82.5 L217.3 85.0 L215.4 87.5 L213.5 90.0 L211.5 92.5 L209.6 95.0 L207.7 97.5 L205.8 100.0 L203.8 102.5 L201.9 105.0 L200.0 107.5 L198.1 110.0 L196.2 112.5 L194.2 115.0 L192.3 117.5 L190.4 120.0 L188.5 122.5 L186.5 125.0 L184.6 127.5 L182.7 130.0 L180.8 132.5 L178.8 135.0 L176.9 137.5 L175.0 140.0 L178.1 140.8 L181.2 141.5 L184.2 142.3 L187.3 143.1 L190.4 143.8 L193.5 144.6 L196.5 145.4 L199.6 146.2 L202.7 146.9 L205.8 147.7 L209.0 148.0 L211.9 149.3 L215.3 150.3 L217.2 147.5 L219.5 145.1 L222.3 143.2 L224.3 140.3 L227.8 139.7 L230.3 137.8 L233.0 136.3 L235.8 134.9 L237.2 131.5Z M260.6 324.7 L258.2 321.6 L258.9 318.1 L258.9 314.6 L256.0 311.9 L254.6 308.6 L254.6 304.8 L253.9 301.3 L251.8 298.3 L250.7 295.5 L248.0 293.0 L245.3 293.9 L241.2 294.6 L238.0 296.6 L235.6 299.1 L232.4 301.1 L229.8 304.2 L225.5 305.3 L228.6 306.2 L230.9 307.9 L232.1 310.9 L235.6 311.7 L237.5 314.0 L237.9 317.4 L240.8 318.9 L242.7 321.5 L244.5 324.2 L246.3 326.4 L248.4 329.4 L252.3 328.4 L253.5 330.1 L256.9 327.8Z M247.1 347.2 L248.4 350.0 L246.4 353.3 L247.6 357.2 L250.7 359.2 L254.9 360.3 L257.6 358.0 L260.9 357.2 L259.3 354.3 L258.9 351.7 L258.1 347.5 L254.5 345.3 L251.1 348.0Z M269.3 366.4 L269.6 362.6 L270.9 357.5 L268.3 361.2 L264.3 359.7 L262.5 361.3 L262.0 364.6 L262.7 369.0 L266.2 367.1Z M274.7 391.7 L273.7 389.3 L274.8 385.8 L272.1 384.1 L269.0 384.1 L265.6 383.0 L262.8 385.9 L258.9 384.6 L256.0 386.5 L254.3 388.8 L253.4 391.5 L252.0 394.2 L250.1 396.4 L247.2 397.8 L243.7 399.1 L241.6 401.0 L241.6 403.9 L243.2 404.7 L246.4 405.5 L249.0 403.7 L252.4 404.8 L255.6 403.5 L258.4 400.8 L261.6 400.8 L264.7 398.2 L269.1 397.6 L271.6 395.9 L274.2 394.4Z M212.0 416.2 L212.5 421.0 L210.8 421.6 L210.9 425.2 L213.4 424.6 L216.9 425.7 L219.9 425.0 L222.0 422.6 L222.5 420.6 L224.2 419.5 L223.9 416.7 L223.4 414.4 L220.2 413.7 L216.8 411.9 L214.8 415.7Z M259.9 410.3 L258.8 410.3 L258.3 409.4 L255.1 409.1 L252.1 410.1 L249.1 412.1 L245.9 411.6 L243.2 413.0 L240.2 413.5 L238.2 414.7 L233.5 416.1 L230.8 420.1 L231.1 423.9 L232.0 428.4 L235.0 427.7 L233.3 428.3 L234.0 429.0 L237.9 429.5 L238.4 425.3 L241.3 422.8 L244.3 421.9 L248.0 422.5 L247.6 420.8 L251.2 420.7 L253.3 417.1 L257.8 416.5 L256.7 415.2 L261.7 413.5Z M528.9 666.7 L532.0 668.5 L531.8 672.3 L534.2 674.9 L535.6 678.1 L537.7 680.4 L539.4 682.5 L539.7 686.6 L543.6 687.4 L545.7 689.9 L546.1 693.7 L547.6 695.7 L550.4 697.3 L555.0 695.2 L553.1 692.1 L553.8 689.7 L553.2 686.7 L553.6 683.7 L552.6 680.8 L552.5 677.2 L552.9 673.5 L553.3 669.8 L552.4 666.3 L552.7 662.6 L550.9 659.1 L551.5 655.5 L552.3 651.7 L552.8 654.8 L556.8 654.9 L555.7 658.5 L556.9 660.9 L558.5 663.1 L560.9 665.2 L562.3 668.3 L561.8 664.7 L563.9 663.2 L567.0 664.9 L567.8 668.3 L570.8 670.2 L572.5 674.7 L575.5 672.0 L576.5 668.4 L577.4 664.1 L574.3 662.1 L574.5 658.9 L571.1 657.6 L567.1 656.8 L564.9 654.0 L562.8 651.1 L560.9 648.9 L559.4 646.3 L555.9 645.0 L553.6 642.6 L550.0 641.2 L545.6 640.6 L543.7 638.5 L540.7 636.6 L540.1 633.5 L539.6 630.3 L536.8 629.5 L535.8 626.8 L532.8 626.6 L530.6 628.9 L527.5 630.0 L524.6 630.9 L522.0 634.8 L518.1 635.2 L513.2 637.4 L513.0 642.2 L515.5 644.9 L513.9 649.0 L516.0 651.4 L518.9 652.8 L519.9 656.3 L522.0 658.6 L525.4 659.5 L525.6 663.1 L527.4 664.8Z M653.5 112.2 L653.2 116.3 L651.2 120.5 L654.0 122.8 L656.5 125.0 L658.0 128.6 L658.3 132.9 L656.0 135.0 L653.2 136.2 L654.6 139.0 L653.9 142.3 L655.7 144.8 L658.1 146.8 L660.5 148.7 L662.7 151.0 L665.3 152.7 L667.1 155.2 L669.7 157.2 L671.4 159.8 L672.6 162.9 L675.1 165.4 L677.9 167.6 L681.1 169.4 L682.4 172.5 L685.4 173.8 L687.4 176.3 L689.2 179.6 L692.2 178.5 L695.1 178.4 L698.0 178.7 L700.1 176.8 L702.7 175.7 L705.7 175.1 L706.4 172.0 L708.4 169.5 L709.2 166.6 L710.1 164.4 L713.8 164.7 L716.2 167.4 L719.4 169.1 L722.6 168.0 L726.2 166.1 L726.7 169.6 L726.2 173.2 L727.9 176.5 L727.9 180.3 L731.2 181.1 L733.8 183.5 L736.5 185.1 L738.1 188.0 L738.6 191.3 L740.4 194.1 L740.7 197.9 L737.9 198.5 L735.5 200.2 L738.5 198.9 L741.8 199.0 L744.8 197.5 L748.2 198.0 L751.1 196.6 L754.2 195.5 L756.9 193.4 L759.7 191.8 L763.7 191.2 L763.1 194.2 L763.7 197.1 L763.0 200.0 L761.4 203.0 L760.0 206.1 L760.0 209.7 L758.0 212.5 L755.3 214.8 L753.2 217.7 L750.2 219.7 L748.1 222.7 L745.1 223.4 L742.9 225.4 L740.5 227.3 L738.4 228.9 L736.6 231.5 L736.2 234.7 L733.8 237.0 L733.7 239.7 L735.3 243.0 L737.1 246.3 L737.5 250.0 L738.7 252.8 L738.6 255.6 L737.4 258.4 L738.2 260.7 L741.4 262.4 L744.9 263.1 L748.2 265.8 L751.2 263.7 L754.8 264.0 L758.0 262.5 L759.7 265.1 L761.8 267.5 L763.3 270.3 L766.0 272.4 L766.0 277.2 L763.3 276.5 L763.1 279.7 L761.5 282.7 L761.4 285.8 L762.3 288.8 L763.0 292.0 L763.8 295.2 L763.9 298.6 L766.2 301.0 L766.9 304.1 L767.9 306.9 L769.7 309.3 L771.6 311.1 L774.2 310.7 L776.9 310.4 L775.3 313.0 L773.1 315.3 L770.6 317.3 L769.3 320.7 L766.3 320.3 L763.5 321.1 L760.7 321.6 L757.7 322.8 L758.0 326.0 L759.3 328.9 L756.6 327.8 L753.8 327.1 L751.0 326.5 L747.9 325.7 L744.6 326.6 L741.4 328.1 L738.0 327.7 L734.8 329.7 L731.1 330.6 L728.4 333.0 L726.5 335.8 L724.5 338.5 L722.0 340.9 L720.6 344.0 L720.0 347.3 L720.8 350.7 L719.9 354.3 L721.5 357.7 L724.1 360.5 L725.4 364.0 L724.1 367.7 L723.0 371.5 L719.7 372.9 L716.2 373.7 L713.2 375.3 L711.4 377.9 L712.0 381.3 L710.9 383.3 L713.1 385.5 L715.6 387.0 L718.0 388.7 L720.4 390.8 L723.7 390.1 L726.7 391.4 L729.8 391.9 L733.1 391.4 L734.4 394.2 L736.8 396.2 L737.9 398.7 L741.7 397.8 L745.5 397.8 L746.8 400.4 L745.9 403.6 L746.9 406.3 L747.4 409.4 L749.5 412.4 L752.0 415.4 L750.3 418.6 L748.0 421.5 L750.4 424.1 L752.8 426.7 L755.6 429.0 L756.9 432.0 L757.5 435.2 L758.4 438.4 L760.0 441.0 L760.5 444.2 L762.8 446.2 L763.9 449.0 L765.3 451.6 L767.6 453.7 L768.5 456.7 L770.4 459.4 L774.0 459.9 L776.9 462.2 L780.8 463.5 L783.3 460.8 L786.9 460.7 L789.6 458.4 L792.8 457.8 L793.9 460.5 L794.7 463.3 L795.5 466.1 L795.3 469.0 L796.4 471.9 L796.7 474.9 L796.6 478.0 L797.1 481.0 L796.9 484.0 L797.1 487.1 L797.4 490.2 L797.5 493.4 L798.0 495.9 L801.8 496.9 L805.5 496.3 L808.6 495.7 L811.8 495.6 L814.8 494.0 L818.1 494.1 L820.3 491.9 L821.2 488.9 L823.0 486.6 L826.5 485.6 L829.4 483.4 L832.8 483.4 L835.5 483.5 L838.0 484.3 L835.5 483.9 L833.6 484.1 L831.7 487.0 L832.6 490.4 L831.2 493.4 L830.7 496.7 L828.2 499.2 L825.0 501.0 L823.0 504.0 L820.6 506.6 L817.6 508.6 L815.7 511.7 L813.2 514.1 L811.7 516.5 L810.6 518.7 L813.9 520.0 L817.1 521.4 L820.2 523.0 L822.8 524.7 L826.1 523.3 L829.8 523.1 L833.2 522.2 L836.2 520.7 L839.0 518.9 L842.3 518.6 L845.2 517.4 L843.1 520.4 L840.0 522.3 L837.9 525.1 L837.0 527.9 L835.2 529.8 L832.9 532.1 L829.9 530.9 L826.7 531.1 L823.6 530.7 L820.4 530.7 L817.6 528.5 L814.4 528.0 L811.0 528.0 L808.1 526.7 L805.9 528.8 L802.8 529.6 L800.5 531.6 L803.3 533.2 L806.6 533.2 L809.2 535.3 L812.3 536.2 L815.4 535.9 L818.5 535.8 L821.4 534.6 L824.6 535.5 L827.4 533.6 L830.6 533.9 L832.9 536.1 L835.6 537.9 L837.5 540.6 L840.4 542.2 L843.2 543.9 L844.5 547.3 L846.7 550.1 L848.4 553.1 L851.2 555.8 L847.8 555.9 L844.3 556.1 L840.9 555.5 L837.4 554.7 L834.0 554.7 L830.4 556.1 L826.8 554.6 L823.0 553.8 L820.2 552.6 L817.3 552.3 L814.2 552.5 L811.5 550.8 L808.5 550.5 L805.6 549.8 L802.3 550.2 L799.6 548.4 L796.6 547.7 L793.4 547.5 L790.2 545.7 L786.8 547.9 L782.4 549.1 L783.5 552.3 L784.0 555.6 L784.3 559.0 L784.2 562.4 L784.7 565.7 L785.5 569.3 L788.9 568.5 L792.4 568.1 L795.8 568.2 L799.2 569.8 L802.9 568.7 L805.7 570.5 L807.5 573.4 L810.5 575.1 L812.3 577.8 L813.3 581.0 L815.6 583.4 L817.7 586.3 L820.8 587.5 L823.9 588.9 L827.3 589.5 L830.3 591.2 L834.0 590.6 L837.0 592.8 L840.5 593.5 L843.8 592.9 L847.0 593.0 L850.2 593.0 L853.5 593.0 L856.8 593.0 L860.0 593.0 L863.2 593.0 L866.5 593.0 L869.8 593.0 L873.0 593.0 L873.0 589.8 L873.0 586.6 L873.0 583.5 L873.0 580.3 L873.0 577.1 L873.0 573.9 L873.0 570.7 L873.0 567.5 L873.0 564.4 L873.0 561.2 L873.0 558.0 L876.1 558.0 L879.2 558.0 L882.4 558.0 L885.5 558.0 L888.6 558.0 L891.8 558.0 L894.9 558.0 L898.0 558.0 L898.0 554.8 L898.0 551.6 L898.0 548.3 L898.0 545.1 L898.0 541.9 L898.0 538.7 L898.0 535.5 L898.0 532.3 L898.0 529.0 L898.0 525.8 L898.0 522.6 L898.0 519.4 L898.0 516.2 L898.0 513.0 L898.0 509.7 L898.0 506.5 L898.0 503.3 L898.0 500.1 L898.0 496.9 L898.0 493.7 L898.0 490.4 L898.0 487.2 L898.0 484.0 L898.0 480.8 L898.0 477.6 L898.0 474.4 L898.0 471.2 L898.0 468.0 L898.0 464.8 L898.0 461.6 L898.0 458.4 L898.0 455.2 L898.0 452.0 L898.0 448.8 L898.0 445.6 L898.0 442.4 L898.0 439.2 L898.0 436.0 L898.0 432.8 L898.0 429.6 L898.0 426.4 L898.0 423.2 L898.0 420.0 L898.0 416.8 L898.0 413.6 L898.0 410.4 L898.0 407.2 L898.0 404.0 L898.0 400.8 L898.0 397.6 L898.0 394.4 L898.0 391.2 L898.0 388.0 L898.0 384.8 L898.0 381.7 L898.0 378.5 L898.0 375.3 L898.0 372.1 L898.0 368.9 L898.0 365.7 L898.0 362.5 L898.0 359.3 L898.0 356.1 L898.0 352.9 L898.0 349.7 L898.0 346.5 L898.0 343.3 L898.0 340.1 L898.0 336.9 L898.0 333.7 L898.0 330.5 L898.0 327.3 L898.0 324.1 L898.0 320.9 L898.0 317.7 L898.0 314.5 L898.0 311.3 L898.0 308.1 L898.0 304.9 L898.0 301.7 L898.0 298.5 L898.0 295.3 L898.0 292.1 L898.0 288.9 L898.0 285.7 L898.0 282.5 L898.0 279.5 L898.0 276.5 L898.0 273.3 L898.0 270.1 L898.0 266.8 L898.0 263.6 L898.0 260.4 L898.0 257.2 L898.0 254.0 L898.0 250.8 L898.0 247.5 L898.0 244.3 L898.0 241.1 L898.0 237.9 L898.0 234.7 L898.0 231.4 L898.0 228.2 L898.0 225.0 L898.0 221.8 L898.0 218.6 L898.0 215.4 L898.0 212.1 L898.0 208.9 L898.0 205.7 L898.0 202.5 L898.0 199.3 L898.0 196.0 L898.0 192.8 L898.0 189.6 L898.0 186.4 L898.0 183.2 L898.0 180.0 L898.0 176.7 L898.0 173.5 L898.0 170.3 L898.0 167.1 L898.0 163.9 L898.0 160.6 L898.0 157.4 L898.0 154.2 L898.0 151.0 L898.0 147.8 L898.0 144.6 L898.0 141.3 L898.0 138.1 L898.0 134.9 L898.0 131.7 L898.0 128.5 L898.0 125.2 L898.0 122.0 L898.0 118.8 L898.0 115.6 L898.0 112.4 L898.0 109.2 L898.0 105.9 L898.0 102.7 L898.0 99.5 L898.0 96.3 L898.0 93.1 L898.0 89.8 L898.0 86.6 L898.0 83.4 L898.0 80.2 L898.0 77.0 L898.0 73.8 L894.8 73.8 L891.6 73.8 L888.4 73.8 L885.2 73.8 L882.0 73.8 L878.8 73.8 L875.5 73.8 L872.3 73.8 L869.1 73.8 L865.9 73.8 L862.7 73.8 L859.5 73.8 L856.3 73.8 L853.1 73.8 L849.9 73.8 L846.7 73.8 L843.5 73.8 L840.2 73.8 L837.0 73.8 L833.8 73.8 L830.6 73.8 L827.4 73.8 L824.2 73.8 L821.0 73.8 L817.8 73.8 L814.6 73.8 L811.4 73.8 L808.2 73.8 L805.0 73.8 L801.8 73.8 L798.5 73.8 L795.3 73.8 L792.1 73.8 L788.9 73.8 L785.7 73.8 L782.5 73.8 L779.3 73.8 L776.1 73.8 L772.9 73.8 L769.7 73.8 L766.5 73.8 L763.2 73.8 L760.0 73.8 L756.8 73.8 L753.6 73.8 L750.4 73.8 L747.2 73.8 L744.0 73.8 L740.8 73.8 L737.6 73.8 L734.4 73.8 L731.2 73.8 L728.0 73.8 L724.8 73.8 L721.5 73.8 L718.3 73.8 L715.1 73.8 L711.9 73.8 L708.7 73.8 L705.5 73.8 L702.3 73.8 L699.1 73.8 L695.9 73.8 L692.7 73.8 L689.5 73.8 L686.2 73.8 L683.0 73.8 L679.8 73.8 L676.6 73.8 L673.4 73.8 L670.2 73.8 L667.0 73.8 L663.8 73.8 L660.6 73.8 L657.4 73.8 L654.2 73.8 L651.0 73.8 L647.8 73.8 L644.5 73.8 L641.3 73.8 L638.1 73.8 L634.9 73.8 L631.7 73.8 L628.5 72.9 L625.3 74.4 L622.1 73.7 L618.9 74.3 L615.7 73.8 L612.5 74.2 L609.2 73.7 L608.8 76.5 L607.9 79.3 L607.5 82.1 L608.6 84.7 L608.9 88.7 L611.3 91.7 L613.4 94.3 L615.9 96.0 L617.9 98.3 L620.1 100.4 L623.0 101.0 L626.0 102.0 L628.9 102.9 L632.0 102.5 L635.1 102.9 L638.1 103.3 L641.5 103.8 L644.5 106.0 L647.8 106.5 L649.5 109.0 L651.9 110.7Z M679.3 184.9 L676.1 183.1 L673.8 180.4 L672.4 177.8 L671.1 180.2 L669.7 182.5 L667.9 185.2 L669.0 188.0 L669.3 190.9 L670.6 193.1 L674.3 194.0 L677.9 194.8 L681.5 195.0 L684.9 194.2 L688.2 192.3 L686.1 190.3 L683.5 188.9 L681.2 187.2Z M632.9 186.8 L629.7 185.3 L626.2 185.2 L622.9 183.6 L620.6 185.1 L618.8 185.9 L619.4 188.7 L620.1 191.5 L621.4 194.2 L624.7 195.0 L626.9 197.4 L628.4 200.7 L630.7 203.5 L632.9 206.2 L636.0 205.0 L637.4 202.6 L636.6 200.2 L636.0 197.7 L635.7 194.7 L634.9 191.9 L633.5 189.2Z M665.3 238.5 L668.8 237.3 L671.3 234.5 L673.4 232.3 L675.5 229.5 L674.9 226.1 L675.3 223.0 L676.5 220.2 L675.0 217.6 L672.6 215.8 L670.5 213.4 L667.7 213.1 L665.0 212.4 L662.1 212.5 L659.0 212.6 L658.9 209.3 L658.0 206.4 L654.9 206.1 L651.7 206.4 L648.7 204.4 L645.9 205.6 L642.4 206.9 L638.9 208.8 L639.1 211.7 L639.3 214.7 L640.5 217.5 L642.4 220.0 L643.9 222.5 L644.5 225.4 L645.9 228.2 L645.6 231.8 L649.2 230.3 L652.9 230.0 L654.1 233.1 L654.9 236.3 L655.5 239.1 L658.8 239.1 L662.1 238.4Z M687.7 383.8 L686.3 386.6 L685.0 389.5 L681.8 391.1 L680.1 394.5 L682.5 396.4 L685.1 398.0 L688.2 398.5 L691.3 400.2 L694.7 401.3 L698.0 402.9 L700.9 401.9 L703.8 401.9 L707.0 401.4 L705.1 398.1 L703.9 394.6 L702.2 391.2 L699.7 388.8 L698.4 385.7 L696.8 383.1 L693.8 382.8 L690.9 383.6Z M690.0 426.3 L691.5 423.9 L692.8 421.4 L694.7 418.9 L693.4 415.7 L693.7 412.3 L693.1 408.8 L689.1 408.1 L685.5 406.7 L682.4 406.5 L679.5 407.8 L676.4 407.5 L673.5 408.5 L670.9 409.1 L669.3 412.2 L668.2 415.5 L668.1 419.0 L669.2 422.3 L670.2 425.5 L670.1 429.1 L670.3 425.9 L669.4 423.0 L668.0 420.4 L664.8 418.9 L661.2 419.2 L658.1 417.8 L655.4 419.2 L653.5 421.6 L650.6 422.6 L647.8 424.1 L650.5 425.6 L651.6 428.5 L654.0 430.2 L655.4 433.5 L658.8 433.3 L662.2 433.3 L665.9 433.5 L667.8 435.4 L669.8 437.1 L671.6 438.3 L675.4 437.9 L678.8 437.7 L679.7 434.6 L680.5 431.5 L683.5 429.1 L686.9 427.7Z M641.0 515.3 L638.7 514.4 L636.4 512.7 L632.4 514.5 L632.4 518.1 L633.2 521.7 L633.3 525.2 L633.2 528.5 L633.2 531.7 L633.9 535.7 L637.8 535.3 L639.5 533.6 L641.0 532.3 L641.4 529.6 L641.9 526.8 L641.4 524.1 L642.3 521.2 L640.4 518.6Z M725.5 613.2 L728.3 615.4 L730.8 617.9 L732.3 621.0 L734.5 623.7 L735.3 627.0 L737.0 629.7 L738.6 632.3 L739.5 635.3 L740.9 638.1 L742.7 640.3 L742.3 643.6 L744.1 645.9 L745.7 648.2 L748.1 650.3 L749.1 653.5 L751.1 655.9 L753.0 658.4 L755.7 660.4 L758.1 662.5 L760.7 664.5 L763.7 663.2 L767.0 663.6 L770.2 662.9 L773.3 662.2 L776.4 661.6 L779.5 661.5 L782.6 660.8 L786.4 661.5 L788.5 659.1 L790.9 657.2 L793.7 655.7 L796.5 653.4 L795.7 650.1 L797.4 647.4 L798.2 644.1 L794.3 645.0 L790.9 646.2 L787.6 647.4 L784.6 646.8 L781.7 645.9 L778.9 644.2 L776.2 643.6 L772.9 642.4 L769.9 640.6 L766.6 639.3 L762.6 638.7 L761.3 635.6 L759.8 632.7 L757.5 630.4 L755.6 627.8 L752.6 625.9 L751.3 622.8 L750.8 619.3 L749.0 616.4 L746.7 613.9 L746.5 610.2 L744.2 607.6 L741.8 605.0 L741.6 601.3 L739.4 598.7 L737.8 595.6 L737.4 592.4 L736.2 589.5 L735.9 586.2 L734.1 583.5 L732.5 580.6 L732.1 577.6 L730.8 574.7 L731.1 571.4 L729.9 568.5 L728.8 565.5 L728.1 562.5 L728.4 559.5 L728.7 556.4 L728.6 553.4 L728.6 550.3 L728.1 547.4 L727.1 544.7 L726.1 541.9 L725.9 538.4 L722.7 538.5 L720.6 536.6 L718.4 535.7 L715.7 537.4 L713.6 539.0 L713.9 542.5 L713.6 546.0 L714.0 549.4 L715.1 553.1 L713.9 556.2 L711.9 559.0 L711.0 562.2 L710.4 565.5 L711.1 568.5 L712.0 571.6 L711.1 574.9 L711.7 578.0 L713.5 580.9 L713.0 584.5 L714.6 587.4 L715.9 590.4 L717.0 593.6 L717.6 597.0 L719.8 599.7 L719.7 603.5 L722.6 605.2 L723.2 608.0 L724.5 610.5Z M547.6 631.3 L548.4 634.1 L550.2 635.6 L552.7 637.3 L555.4 635.7 L558.4 637.5 L561.3 636.2 L562.6 634.0 L563.7 632.0 L566.5 629.9 L566.7 626.9 L567.8 623.4 L566.1 620.2 L566.3 616.8 L564.2 615.8 L561.4 614.3 L558.4 613.7 L555.5 612.4 L552.1 614.2 L548.9 614.7 L545.8 616.2 L542.4 616.4 L540.3 618.3 L537.0 620.6 L539.2 623.3 L538.6 625.8 L541.2 627.2 L543.5 628.9Z M808.0 647.8 L811.7 647.0 L815.7 647.1 L817.6 644.6 L820.2 643.6 L823.0 643.0 L819.8 641.2 L818.2 638.5 L815.2 640.0 L811.7 640.5 L808.4 641.2 L805.9 642.8 L806.1 645.8Z M647.8 772.7 L646.3 775.9 L643.0 776.3 L640.9 778.7 L638.8 780.9 L635.5 781.3 L633.4 783.3 L630.2 784.7 L630.4 788.5 L627.7 790.3 L627.6 793.8 L625.6 796.1 L624.2 798.9 L622.3 801.4 L618.8 802.7 L618.7 806.5 L614.8 808.2 L615.9 811.3 L617.1 814.3 L618.3 817.4 L619.2 820.5 L620.2 823.6 L621.1 826.8 L622.1 829.9 L623.0 833.0 L626.0 832.0 L629.0 831.0 L632.0 830.0 L635.0 829.0 L638.0 828.0 L641.0 827.0 L644.0 826.0 L647.0 825.0 L650.0 824.0 L653.0 823.0 L656.0 822.0 L659.0 821.0 L662.0 820.0 L665.0 819.0 L668.0 818.0 L671.0 817.0 L674.0 816.0 L677.0 815.0 L680.0 814.0 L683.0 813.0 L686.0 812.0 L689.0 811.0 L692.0 810.0 L695.0 809.0 L698.0 808.0 L696.4 805.4 L694.8 802.8 L693.2 800.2 L691.6 797.5 L690.0 794.9 L688.5 792.3 L686.9 789.7 L685.3 787.1 L683.7 784.5 L681.1 782.4 L681.8 778.2 L680.2 776.1 L678.1 774.3 L675.6 771.6 L672.5 771.6 L669.4 771.1 L666.0 773.2 L663.1 773.0 L660.1 773.0 L657.1 772.9 L654.1 773.2 L651.1 774.5Z" fill="#cccccc" stroke="#000" stroke-width="3.4" stroke-linejoin="round"/>
<path d="M117.4 294.2 L126.2 286.1 L127.6 266.8 M159.8 468.8 L153.6 466.3 L139.9 462.5 L127.4 465.0 L117.4 471.3 L109.9 475.0 L102.5 476.3 M104.9 446.3 L101.2 451.3 L100.0 461.3 L104.9 471.3 L103.7 476.3 M267.3 424.9 L269.8 432.4 L267.3 439.9 M277.3 422.5 L279.8 431.2 M289.8 423.7 L288.5 431.2 M298.5 427.4 L294.8 433.7 M309.7 437.4 L302.3 439.9 L294.8 444.9 L289.8 452.4 L289.8 462.4 L292.3 469.9 L294.8 477.3 M297.3 447.4 L302.3 454.9 L306.0 462.4 M304.8 444.9 L307.3 452.4 M314.7 444.9 L317.2 452.4 M321.0 449.9 L319.7 457.4 M331.0 456.1 L327.2 462.4 L323.5 468.6 M296.0 469.9 L302.3 474.8 L309.7 479.8 L314.7 481.1 M299.8 473.6 L302.3 484.8 M342.2 496.0 L348.4 499.8 M312.2 501.0 L319.7 503.5 L327.2 508.5 L335.9 512.3 M319.7 503.5 L324.7 498.5 M276.1 471.1 L279.8 477.3 L277.3 479.8 M282.3 449.9 L284.8 458.6 L282.3 464.9 L277.3 469.9 M264.8 484.8 L272.3 487.3 L277.3 494.8 L282.3 499.8 M229.9 462.4 L237.4 464.9 L244.9 469.9 L252.4 471.1 L259.9 474.8 M232.4 454.9 L239.9 458.6 L248.6 459.9 L254.9 464.9 L259.9 469.9 L264.8 467.4 L269.8 459.9 L277.3 454.9 M227.4 477.3 L233.7 474.8 L237.4 477.3 M211.2 452.4 L214.9 454.9 M211.2 462.4 L216.2 464.9 M212.5 472.3 L217.4 473.6 M213.7 482.3 L218.7 481.1 M247.4 494.8 L248.6 489.8 M252.4 498.5 L253.6 492.3 M257.4 498.5 L258.0 492.3 M262.3 496.0 L262.3 489.8 M227.4 453.6 L231.2 462.4 L228.7 469.9 L232.4 477.3 L237.4 481.1 M159.8 469.9 L153.6 467.4 L139.9 463.7 L127.4 466.2 L117.4 472.4 L109.9 476.2 L102.5 477.4 M104.9 447.5 L101.2 452.5 L100.0 462.5 L104.9 472.4 L103.7 477.4 M123.7 498.6 L132.4 495.5 L139.9 502.4 L146.1 497.4 L154.8 494.9 L159.8 492.4 M139.9 502.4 L144.9 514.8 M132.4 495.5 L129.9 509.9 L124.9 514.8 M136.1 509.9 L132.4 519.8 M117.4 476.2 L118.7 479.9 M124.9 474.9 L126.8 478.7 M132.4 473.7 L134.9 477.4 M139.9 473.7 L142.4 477.4 M147.4 474.9 L150.5 478.0 M153.6 476.2 L156.7 478.7 M325.0 735.5 L322.5 745.5 L335.0 755.5 L347.5 755.5 M337.5 730.5 L345.0 738.0 L357.5 745.5 M310.0 758.0 L315.0 770.5 L322.5 778.0 M302.5 763.0 L310.0 775.5 M332.5 758.0 L337.5 770.5 L335.0 783.0 M322.5 748.0 L315.0 753.0 M325.0 765.5 L330.0 775.5 M530.9 629.6 L532.3 638.5 L534.1 646.6 L535.8 650.2 M537.6 628.7 L538.5 637.6 L540.3 643.0 M517.9 642.1 L523.3 644.8 L526.9 650.2 M520.6 653.8 L526.9 657.3 L531.4 653.8 L535.8 657.3 M531.4 660.9 L537.6 664.5 L543.0 662.7 M535.8 668.1 L542.1 671.7 L544.8 677.1 M539.4 680.6 L544.8 683.3 L548.4 680.6 M550.2 652.9 L550.2 662.7 M544.8 637.6 L548.4 644.8 L550.2 650.2 M543.0 621.5 L548.4 623.3 L553.8 620.6 M550.2 629.6 L555.6 631.4 L560.9 628.7 M562.7 655.6 L566.3 660.9 L569.9 662.7 M733.1 621.9 L740.6 622.6 L748.2 620.6 M633.3 524.0 L640.8 524.8 M760.5 324.0 L773.0 332.8 L785.5 344.0 L800.5 354.0 L813.0 362.8 L825.5 366.5 L830.5 361.5 M825.5 366.5 L830.5 376.5 L836.8 381.5 M660.5 122.5 L673.0 117.5 L683.0 116.2 L688.5 112.5 M768.0 221.2 L775.5 212.5 L788.0 215.0 L798.0 213.8 M764.2 270.0 L768.0 252.5 L775.5 243.8 L791.8 242.0 M650.5 207.5 L649.2 220.0 L644.2 223.8 M165.4 202.1 L163.6 203.4 L162.1 204.9 M171.6 207.7 L168.6 204.9 L166.2 202.1 M180.2 203.2 L175.4 202.8 L173.5 203.4 M178.2 192.0 L176.4 190.6 L174.0 189.6 M155.0 216.5 L154.7 219.3 L155.8 223.6 M155.7 217.8 L152.5 220.4 L150.1 223.9 M144.2 220.4 L146.5 223.0 L149.0 224.4 M181.4 287.4 L179.0 289.5 L176.9 291.4 M182.2 297.5 L179.4 296.5 L174.6 294.3 M186.2 302.1 L185.0 300.7 L184.1 299.8 M189.2 301.1 L186.7 301.2 L185.7 298.3 M192.7 302.2 L190.8 298.6 L189.6 297.0 M201.4 298.1 L201.3 296.4 L199.5 294.8 M204.4 295.7 L202.7 296.8 L200.9 296.0 M212.3 285.6 L213.1 281.6 L212.3 275.8 M219.1 280.7 L216.5 281.8 L214.4 281.9 M222.8 269.3 L221.6 270.4 L219.0 269.6 M201.7 250.3 L201.3 253.4 L199.8 254.8 M191.6 240.9 L188.7 241.3 L184.7 240.6 M178.6 281.1 L175.8 280.9 L170.2 282.4 M104.4 352.2 L102.3 351.9 L98.5 348.7 M110.8 351.5 L110.2 346.8 L111.0 340.8 M130.0 352.9 L128.8 348.7 L129.7 345.9 M142.2 349.7 L139.2 346.7 L137.0 344.0 M148.7 351.4 L146.3 346.5 L143.7 341.8 M151.6 348.7 L151.3 347.8 L152.5 343.8 M158.4 357.9 L158.8 355.9 L161.2 354.7 M160.2 359.8 L159.5 358.8 L157.0 357.5 M163.6 359.1 L161.8 357.0 L161.1 356.8 M168.7 349.4 L164.2 350.1 L161.0 349.1 M157.3 338.7 L158.9 340.3 L161.5 344.7 M148.2 338.0 L148.4 340.3 L149.8 343.6 M136.7 329.4 L134.3 327.4 L133.8 325.7 M139.7 330.4 L140.6 327.9 L140.4 324.1 M148.8 332.6 L148.9 327.9 L150.9 323.5 M154.1 321.9 L153.9 324.6 L154.9 326.8 M153.6 312.3 L149.9 314.6 L146.2 316.7 M156.4 315.2 L157.9 312.9 L160.8 311.9 M160.3 317.8 L157.4 312.6 L154.9 308.3 M164.6 308.7 L163.2 308.3 L160.7 310.5 M162.3 305.4 L160.7 303.1 L157.2 301.0 M166.2 301.0 L164.7 302.3 L161.5 301.8 M182.2 300.1 L184.8 301.6 L187.3 302.3 M180.2 293.4 L182.8 290.9 L185.5 289.2 M180.1 279.3 L184.1 279.3 L187.5 279.5 M169.2 277.7 L166.9 282.1 L164.8 285.1 M167.4 274.9 L165.9 276.5 L164.2 276.7 M156.8 267.0 L159.7 270.4 L161.0 272.7 M155.8 270.3 L155.9 271.5 L156.7 273.8 M149.6 274.6 L153.7 275.8 L156.0 277.0 M151.4 278.6 L145.5 278.4 L140.7 279.6 M148.9 285.2 L150.4 284.1 L152.6 284.6 M147.2 289.0 L152.9 286.7 L156.9 285.1 M150.1 274.7 L145.5 274.8 L140.9 275.8 M147.5 271.7 L146.0 273.0 L142.0 273.1 M149.0 268.1 L145.3 270.8 L141.3 273.5 M141.6 264.0 L143.0 267.7 L144.1 269.1 M120.0 265.4 L118.2 267.3 L117.8 272.1 M88.9 362.6 L88.6 361.2 L89.0 359.6 M96.9 359.4 L96.4 355.0 L96.1 351.9 M102.3 355.5 L99.5 350.4 L97.6 347.1 M196.1 377.2 L199.0 378.2 L200.6 380.3 M194.9 392.6 L197.4 394.6 L198.5 396.2 M186.1 396.2 L189.6 395.5 L192.8 395.7 M188.7 399.1 L191.1 397.2 L192.7 396.5 M188.3 404.1 L188.9 398.0 L188.1 393.6 M201.0 405.8 L202.3 399.1 L202.3 395.6 M204.4 403.7 L206.3 404.1 L207.5 401.4 M207.0 405.3 L209.1 403.5 L212.2 400.3 M218.6 399.4 L214.8 399.8 L210.6 398.9 M218.1 395.2 L216.0 395.3 L211.9 396.7 M208.4 378.1 L210.6 380.1 L212.1 383.0 M207.7 368.7 L205.5 366.3 L203.6 364.6 M209.2 365.8 L205.3 366.1 L203.5 365.0 M214.1 360.4 L217.2 356.2 L218.3 353.7 M225.8 358.8 L227.0 355.8 L225.8 352.4 M227.6 350.7 L222.3 352.6 L219.3 354.4 M224.9 349.6 L226.7 351.3 L228.0 355.2 M217.1 349.2 L218.9 351.9 L219.3 353.9 M215.1 351.7 L216.3 352.9 L217.3 357.0 M220.4 337.7 L219.5 336.6 L220.5 333.4 M229.2 335.5 L226.8 334.1 L223.8 330.9 M230.0 318.3 L225.8 316.5 L220.8 316.8 M226.5 309.8 L223.8 312.8 L222.1 313.5 M224.0 308.1 L222.7 311.7 L221.9 314.9 M221.7 308.3 L221.8 311.9 L224.5 316.3 M218.0 308.5 L219.1 311.3 L219.4 313.1 M207.2 322.9 L208.6 326.5 L210.1 331.3 M204.7 324.8 L206.4 322.8 L209.8 321.0 M204.1 321.7 L202.7 322.3 L200.3 321.8 M203.5 318.5 L204.9 320.7 L204.4 324.4 M193.9 330.8 L199.1 331.4 L204.8 332.8 M194.8 334.0 L198.7 334.1 L200.5 335.7 M197.2 340.3 L198.1 339.5 L201.8 339.9 M151.2 402.5 L152.8 400.7 L153.1 399.8 M159.2 391.7 L158.2 390.8 L158.7 389.5 M165.7 386.4 L161.4 387.6 L158.9 387.1 M164.2 384.5 L164.0 388.1 L161.7 391.1 M162.1 381.0 L161.3 384.3 L159.9 388.3 M146.6 381.1 L145.7 385.3 L146.6 389.6 M145.0 379.4 L139.8 379.4 L136.0 379.3 M145.0 376.2 L143.0 373.5 L142.9 370.2 M147.7 370.1 L147.7 371.5 L148.1 372.8 M141.9 368.5 L143.3 372.3 L143.4 375.4 M136.0 369.3 L135.7 371.8 L135.8 374.0 M119.7 394.7 L121.3 390.5 L124.5 387.2 M121.3 397.0 L124.1 397.3 L127.5 395.9 M136.4 401.8 L136.3 402.3 L134.6 400.2 M119.7 411.3 L117.3 414.5 L117.3 418.0 M96.2 400.1 L96.0 401.3 L94.6 403.7 M93.0 401.8 L90.4 405.0 L89.8 409.9 M80.7 403.4 L82.5 404.4 L86.6 405.0 M78.8 419.3 L80.9 419.6 L83.0 420.8 M105.3 423.8 L103.6 421.2 L101.5 418.5 M107.4 420.6 L106.2 418.8 L104.5 417.2 M110.4 420.2 L110.8 417.6 L112.6 412.6 M182.6 412.8 L182.9 413.6 L184.3 414.2 M187.1 423.7 L186.3 419.7 L184.3 414.8 M189.9 411.2 L189.0 414.5 L187.8 417.8 M144.3 411.2 L144.4 413.4 L146.5 416.4 M138.7 411.9 L141.7 415.1 L143.1 418.7 M133.1 413.0 L136.3 416.4 L138.4 419.6 M137.2 422.7 L140.9 422.7 L143.0 423.8 M138.4 425.7 L139.2 425.5 L142.4 424.5 M138.9 428.2 L139.0 425.9 L139.7 422.3 M154.8 438.0 L153.2 432.4 L151.0 428.3 M158.2 437.0 L157.1 433.2 L156.9 429.5 M190.0 493.7 L189.7 490.6 L189.4 489.4 M190.0 493.5 L189.0 491.1 L187.8 487.1 M201.2 483.7 L195.0 483.3 L192.1 482.5 M201.0 476.6 L195.7 476.4 L192.3 474.6 M193.5 456.1 L188.7 457.3 L183.3 457.3 M205.4 437.4 L206.9 435.7 L207.1 431.3 M209.6 448.0 L214.0 447.3 L216.7 448.2 M211.0 451.9 L211.0 455.5 L210.6 460.7 M209.8 454.9 L212.6 454.0 L216.0 453.4 M211.1 461.9 L214.2 462.2 L217.1 462.1 M210.7 472.0 L211.9 471.7 L214.9 473.4 M212.4 483.1 L213.8 483.5 L215.3 485.6 M212.8 489.8 L217.4 489.3 L221.5 487.4 M215.4 493.3 L217.9 488.3 L218.6 485.4 M222.4 496.0 L219.7 493.8 L217.2 490.9 M255.8 496.8 L254.4 497.2 L250.1 495.6 M262.2 490.1 L260.8 486.5 L258.9 481.5 M264.3 487.0 L262.2 483.8 L261.1 479.2 M264.9 488.8 L264.6 482.8 L264.7 479.3 M276.1 490.0 L281.9 487.3 L285.3 485.0 M280.2 492.9 L280.7 489.9 L282.3 485.8 M283.0 495.1 L284.3 495.4 L287.9 494.1 M281.9 496.9 L284.6 493.3 L286.7 492.4 M289.5 502.6 L292.7 500.7 L294.0 498.0 M296.6 505.0 L295.6 502.6 L296.7 501.2 M305.8 509.6 L306.1 506.3 L307.6 502.5 M317.9 510.2 L320.8 505.7 L324.9 502.9 M326.9 513.3 L329.8 509.8 L331.8 505.4 M330.9 511.5 L333.8 507.9 L336.4 503.5 M340.7 512.7 L339.6 510.5 L339.3 508.8 M345.2 512.5 L341.8 511.4 L340.8 508.8 M349.8 485.0 L347.3 485.7 L345.8 485.0 M328.6 451.4 L326.6 453.0 L323.5 455.5 M321.5 448.7 L318.5 449.3 L316.0 451.0 M320.6 444.7 L317.6 447.8 L316.8 448.7 M317.4 443.0 L317.8 445.5 L317.9 447.4 M313.3 443.1 L312.3 446.3 L309.8 449.9 M309.9 442.1 L309.8 443.3 L309.0 447.3 M299.2 443.7 L299.5 446.5 L298.4 450.2 M294.5 447.7 L296.5 449.2 L300.8 450.9 M291.7 443.8 L290.8 440.5 L291.1 438.9 M296.5 438.4 L295.7 437.7 L296.0 435.3 M302.6 437.4 L301.3 431.9 L302.1 428.4 M306.9 433.7 L306.3 433.3 L305.0 430.8 M307.7 430.7 L302.9 434.0 L299.0 436.9 M270.6 423.4 L271.3 425.8 L273.9 429.5 M255.7 427.5 L256.9 430.8 L256.9 433.7 M249.6 431.7 L252.7 434.1 L253.8 437.0 M241.7 434.9 L242.9 436.2 L244.9 437.7 M239.1 436.9 L242.3 438.7 L244.4 440.7 M224.3 441.7 L223.2 444.6 L222.3 447.7 M220.4 436.2 L216.9 440.5 L215.0 442.0 M215.0 435.6 L211.9 435.1 L209.6 435.6 M212.4 430.1 L209.9 432.5 L209.0 436.8 M189.7 428.4 L188.9 431.1 L187.3 432.2 M173.9 461.7 L177.5 463.1 L179.5 463.2 M173.4 464.7 L178.5 462.0 L184.1 461.5 M127.4 558.7 L125.4 556.6 L122.2 552.4 M129.7 546.1 L126.8 546.2 L123.5 544.2 M131.5 543.1 L126.6 541.7 L122.8 539.8 M135.2 535.9 L132.6 532.6 L131.2 529.3 M141.3 528.7 L140.2 527.1 L139.5 526.4 M146.6 521.4 L147.1 519.6 L145.9 517.2 M149.3 520.0 L145.8 518.2 L141.3 516.2 M160.3 510.6 L156.5 509.3 L152.6 506.6 M161.8 496.1 L156.4 497.8 L151.8 498.3 M160.3 492.7 L159.8 492.7 L156.6 493.5 M161.3 489.3 L157.9 488.3 L155.1 489.1 M160.6 482.7 L158.6 483.3 L157.2 486.0 M156.1 472.1 L155.7 471.8 L154.2 469.8 M159.5 469.1 L154.2 469.1 L150.3 467.6 M159.0 462.1 L157.5 462.3 L155.1 463.5 M157.0 456.6 L156.2 457.0 L153.6 459.2 M144.2 447.2 L144.2 451.8 L144.7 456.1 M136.1 444.5 L135.9 446.6 L137.2 448.5 M110.9 443.7 L110.2 446.4 L109.0 449.7 M101.8 446.4 L102.5 446.4 L104.6 448.3 M95.2 447.2 L95.8 450.7 L95.4 454.9 M89.6 450.8 L89.2 453.9 L89.9 459.2 M83.8 454.8 L86.1 457.0 L90.3 458.8 M79.2 455.1 L83.4 456.4 L85.9 456.5 M80.7 458.2 L83.5 460.1 L85.4 461.4 M78.6 473.7 L82.1 474.9 L83.3 474.8 M79.9 483.1 L82.3 481.0 L85.0 480.2 M80.6 486.2 L83.4 486.6 L87.8 488.2 M172.6 668.8 L170.6 671.2 L169.2 673.0 M172.0 665.9 L168.7 667.0 L165.8 669.6 M158.2 661.9 L157.7 663.1 L155.4 663.9 M153.7 656.7 L151.7 660.0 L151.9 661.7 M168.3 696.7 L167.8 694.3 L167.4 691.2 M173.9 692.6 L172.9 690.0 L170.2 685.8 M176.0 700.7 L178.5 702.4 L181.0 702.3 M177.4 703.9 L179.0 702.9 L181.1 703.9 M293.3 782.5 L294.0 777.2 L294.1 773.9 M297.2 781.0 L298.1 779.2 L297.5 774.8 M306.4 780.6 L304.1 775.7 L303.3 771.5 M320.3 782.4 L321.5 782.8 L325.9 782.0 M326.0 794.5 L328.0 795.0 L332.6 793.0 M328.1 797.4 L329.5 796.2 L331.6 794.2 M333.6 795.7 L331.3 795.3 L329.6 793.6 M336.8 790.5 L332.2 787.1 L330.1 782.7 M336.5 787.3 L334.8 783.5 L331.6 781.1 M338.8 784.9 L333.5 784.7 L331.2 784.5 M356.1 752.6 L353.9 751.3 L352.2 749.2 M359.3 746.4 L355.8 746.2 L351.5 746.0 M358.7 742.5 L354.3 743.5 L350.0 743.9 M362.3 736.4 L362.2 733.4 L361.2 728.9 M365.9 736.3 L363.3 734.1 L361.5 731.6 M368.1 734.1 L363.6 730.2 L358.9 727.7 M369.9 731.4 L370.1 728.4 L368.7 724.8 M377.7 726.8 L374.8 724.7 L372.2 722.6 M384.7 721.5 L380.9 716.5 L378.6 712.4 M385.8 710.5 L380.7 707.7 L375.7 704.6 M392.1 684.0 L390.9 683.3 L392.0 680.2 M395.5 678.5 L394.1 678.9 L390.6 678.8 M392.5 671.4 L388.5 674.1 L383.8 676.5 M393.1 660.0 L391.4 659.2 L388.1 659.1 M395.3 657.8 L392.1 653.7 L388.0 650.6 M399.7 653.2 L396.2 647.7 L393.7 643.9 M406.4 646.1 L400.5 644.5 L395.5 643.8 M411.2 629.8 L409.9 629.4 L407.2 628.9 M413.4 626.8 L406.9 623.8 L402.9 622.8 M412.0 621.9 L412.9 620.7 L412.1 618.7 M424.5 618.8 L424.0 612.8 L422.7 608.3 M434.2 610.7 L432.8 608.0 L429.4 604.8 M438.6 611.3 L435.8 607.1 L436.1 605.8 M439.6 604.8 L435.6 603.2 L433.2 602.7 M436.9 598.9 L436.3 598.2 L432.6 597.9 M409.3 592.2 L409.0 594.2 L409.4 598.3 M406.7 586.7 L405.4 580.0 L405.4 575.3 M426.3 572.8 L419.0 570.5 L413.8 569.9 M421.6 561.2 L420.5 561.7 L418.7 560.8 M420.9 554.9 L419.1 560.3 L417.4 566.1 M417.5 554.7 L415.5 557.7 L415.4 558.7 M402.5 545.5 L402.0 548.8 L399.8 552.6 M393.3 542.2 L392.5 543.6 L393.2 545.6 M387.1 539.4 L384.8 542.7 L382.2 546.3 M370.1 533.5 L369.2 535.4 L367.8 536.0 M363.2 533.0 L364.6 535.3 L364.5 536.9 M360.9 531.2 L357.5 534.0 L354.5 535.5 M316.9 519.3 L314.8 521.1 L312.5 523.7 M313.4 516.9 L317.1 521.1 L320.6 523.9 M307.7 521.4 L313.4 523.5 L316.8 526.4 M307.5 525.7 L310.1 525.5 L312.3 525.9 M304.5 528.1 L306.1 532.9 L306.8 538.1 M298.2 527.7 L298.0 530.9 L297.6 534.4 M292.0 529.6 L292.0 532.1 L293.7 536.3 M288.8 528.1 L289.6 530.4 L289.2 533.7 M276.8 523.2 L275.6 524.8 L273.2 527.4 M264.8 514.1 L261.6 518.9 L259.1 521.7 M260.8 515.4 L259.6 517.5 L258.2 520.1 M256.1 538.1 L258.4 541.5 L259.8 544.0 M254.2 541.3 L257.0 540.8 L262.1 542.9 M242.0 531.3 L236.9 534.4 L234.9 535.1 M239.5 528.7 L240.4 530.6 L239.8 533.0 M228.7 532.4 L231.5 532.9 L233.2 533.3 M225.0 540.2 L227.8 542.4 L231.4 545.1 M239.1 560.5 L240.0 561.2 L240.9 563.3 M239.7 566.4 L242.1 566.1 L243.4 566.6 M240.9 567.7 L244.4 569.3 L249.5 570.0 M239.9 574.6 L242.8 572.7 L247.0 569.5 M241.5 578.0 L243.6 578.1 L246.1 579.7 M238.2 584.2 L243.2 586.5 L247.7 590.3 M229.2 597.4 L231.5 600.6 L231.6 601.4 M221.4 605.1 L227.0 609.3 L231.0 612.5 M221.8 609.3 L226.4 610.0 L230.7 612.6 M217.6 609.8 L222.5 615.7 L226.8 618.9 M216.5 612.8 L219.6 615.3 L223.3 616.4 M213.0 618.5 L214.0 620.2 L215.4 621.3 M197.2 632.5 L202.9 634.2 L208.8 634.3 M195.2 639.5 L195.3 640.9 L196.6 642.7 M195.5 636.5 L199.5 638.9 L204.3 640.6 M181.0 644.9 L183.4 643.9 L186.8 644.4 M177.2 646.0 L180.7 649.1 L182.6 650.2 M176.0 648.8 L181.7 649.5 L184.8 651.6 M182.9 657.0 L183.3 651.3 L184.4 648.8 M189.3 654.5 L187.6 651.1 L187.2 649.5 M186.7 678.3 L188.4 681.5 L189.5 686.4 M172.7 683.6 L167.9 679.6 L165.6 674.8 M171.6 679.7 L169.9 679.9 L167.3 678.2 M470.0 80.8 L469.5 78.3 L469.6 75.2 M248.3 126.5 L247.2 122.0 L246.7 120.9 M303.6 107.8 L303.2 105.9 L301.3 103.3 M310.1 105.2 L308.2 100.8 L305.8 97.5 M339.2 92.4 L339.0 92.3 L336.8 90.0 M215.3 150.3 L215.0 148.5 L213.7 146.8 M219.5 145.1 L217.1 144.8 L213.2 143.3 M228.6 306.2 L231.0 303.1 L234.9 300.6 M230.9 307.9 L235.0 305.2 L238.4 302.4 M232.1 310.9 L234.0 309.5 L237.5 308.0 M242.7 321.5 L243.8 321.0 L246.6 319.4 M256.9 327.8 L254.5 324.6 L251.4 321.7 M250.7 359.2 L252.4 356.4 L253.6 354.2 M257.6 358.0 L255.9 356.6 L255.3 353.9 M258.9 351.7 L257.4 354.2 L253.4 356.4 M251.1 348.0 L254.5 350.3 L257.3 353.5 M274.7 391.7 L271.9 391.5 L269.1 392.6 M262.8 385.9 L264.3 386.9 L266.6 391.0 M256.0 386.5 L257.1 388.9 L260.1 392.1 M252.0 394.2 L251.4 396.5 L253.1 399.2 M250.1 396.4 L252.3 398.5 L254.7 400.6 M247.2 397.8 L247.6 399.2 L248.1 401.1 M258.4 400.8 L259.3 397.1 L261.7 393.7 M271.6 395.9 L270.0 393.1 L268.0 393.0 M222.5 420.6 L221.0 420.0 L218.8 422.1 M224.2 419.5 L219.2 417.0 L215.1 416.0 M223.9 416.7 L222.4 417.0 L219.5 417.0 M223.4 414.4 L222.0 417.2 L219.2 422.2 M216.8 411.9 L219.8 416.4 L221.3 422.0 M214.8 415.7 L215.3 418.0 L216.4 421.7 M252.1 410.1 L251.5 416.2 L251.0 420.0 M248.0 422.5 L245.8 418.5 L244.1 414.0 M253.3 417.1 L249.6 414.4 L247.1 411.5 M532.0 668.5 L532.4 664.8 L534.7 661.5 M537.7 680.4 L537.8 678.6 L539.0 677.9 M545.7 689.9 L547.3 688.1 L549.0 686.0 M546.1 693.7 L550.0 691.5 L552.1 691.7 M555.0 695.2 L550.6 693.0 L546.8 692.4 M553.1 692.1 L552.3 690.4 L549.8 688.3 M552.9 673.5 L548.4 675.1 L544.7 677.2 M553.3 669.8 L550.1 670.8 L548.2 672.1 M552.7 662.6 L546.4 661.5 L542.3 662.1 M550.9 659.1 L546.1 658.1 L542.8 658.5 M551.5 655.5 L547.6 655.3 L545.3 656.8 M556.8 654.9 L559.9 655.9 L562.7 654.3 M555.7 658.5 L559.7 657.5 L563.7 658.4 M556.9 660.9 L560.3 658.2 L560.9 656.1 M558.5 663.1 L560.9 661.7 L563.9 660.0 M560.9 665.2 L563.2 664.8 L567.1 666.2 M577.4 664.1 L574.7 664.9 L573.4 666.6 M559.4 646.3 L558.1 647.6 L555.0 648.7 M536.8 629.5 L535.3 632.7 L534.4 638.2 M532.8 626.6 L534.6 629.4 L535.8 631.3 M524.6 630.9 L523.7 636.1 L524.0 638.3 M522.0 634.8 L524.0 636.5 L524.5 637.9 M515.5 644.9 L518.6 645.7 L521.7 644.6 M513.9 649.0 L518.1 643.8 L520.7 640.4 M516.0 651.4 L518.7 649.4 L520.7 647.0 M527.4 664.8 L531.6 663.3 L536.4 662.5 M660.5 148.7 L661.3 148.8 L662.6 147.0 M685.4 173.8 L684.9 171.5 L686.8 169.6 M689.2 179.6 L688.8 175.3 L686.5 173.2 M763.7 191.2 L762.5 192.0 L760.3 191.2 M738.4 228.9 L738.9 231.2 L741.3 233.9 M724.5 338.5 L724.3 338.7 L726.0 340.8 M750.3 418.6 L753.3 420.8 L755.0 421.5 M818.1 494.1 L816.3 492.0 L815.2 489.5 M835.2 529.8 L835.3 530.7 L837.6 533.3 M784.7 565.7 L787.5 565.9 L789.1 567.6 M799.2 569.8 L799.6 567.4 L799.1 564.9 M641.5 103.8 L641.8 102.4 L642.2 101.8 M651.9 110.7 L653.6 108.1 L653.1 106.6 M679.3 184.9 L677.5 188.0 L675.4 189.7 M665.0 212.4 L664.7 214.2 L665.7 216.8 M658.8 239.1 L658.2 237.3 L656.0 234.8 M685.0 389.5 L687.9 390.0 L689.5 391.7 M685.5 406.7 L685.0 409.5 L683.8 410.5 M650.6 422.6 L651.9 424.8 L654.0 426.5 M662.2 433.3 L662.2 431.2 L661.7 428.7 M679.7 434.6 L677.0 433.7 L675.1 431.7 M633.3 525.2 L633.5 524.5 L634.7 523.9 M790.9 657.2 L790.9 653.4 L790.0 650.7 M784.6 646.8 L783.7 646.8 L784.0 648.4 M713.9 556.2 L715.3 556.8 L717.1 558.7 M713.0 584.5 L714.2 582.8 L715.6 582.9 M719.8 599.7 L720.7 599.8 L721.4 598.6 M566.5 629.9 L561.7 627.8 L556.0 628.0 M566.1 620.2 L562.5 620.9 L558.9 621.5 M558.4 613.7 L558.1 615.2 L556.5 618.0 M542.4 616.4 L544.8 617.1 L547.9 619.7 M540.3 618.3 L541.2 620.6 L542.3 624.0 M537.0 620.6 L542.8 621.9 L547.6 622.2 M539.2 623.3 L542.0 621.0 L544.0 619.9 M541.2 627.2 L543.7 626.2 L544.8 623.0 M815.7 647.1 L815.2 645.9 L815.6 644.3 M806.1 645.8 L808.8 645.1 L809.2 645.1 M646.3 775.9 L647.2 777.7 L648.1 781.6 M643.0 776.3 L644.8 778.0 L646.2 780.5 M635.5 781.3 L638.5 783.5 L641.5 784.7 M630.2 784.7 L634.2 790.8 L635.1 794.3 M627.7 790.3 L630.1 794.3 L631.0 797.8 M625.6 796.1 L626.3 797.5 L628.1 798.6 M618.7 806.5 L618.3 808.0 L619.6 811.1 M678.1 774.3 L674.2 777.3 L669.4 778.2 M675.6 771.6 L673.7 775.7 L672.7 779.0 M666.0 773.2 L665.4 773.6 L665.3 776.7 M654.1 773.2 L654.2 773.9 L654.7 775.7" fill="none" stroke="#000" stroke-width="3.4" stroke-linejoin="round" stroke-linecap="round"/>
<path d="M232.2 376.5 L247.1 375.2 L245.9 380.2 L233.4 380.8Z M264.8 487.3 L274.8 486.1 L277.3 494.8 L269.8 493.6Z M322.5 734.2 L332.5 733.0 L340.0 738.0 L337.5 748.0 L342.5 755.5 L332.5 754.2 L325.0 748.0 L321.2 741.8Z M529.6 652.0 L535.8 650.2 L542.1 653.8 L543.0 660.9 L539.4 666.3 L534.1 668.1 L530.5 662.7Z M537.6 673.5 L543.0 671.7 L546.6 677.1 L544.8 682.4 L540.3 680.6Z M606.4 554.1 L613.9 552.4 L620.2 553.4 L621.7 562.9 L621.5 570.5 L613.9 573.0 L607.7 573.0 L605.7 564.2Z M761.8 361.5 L766.8 369.0 L775.5 377.8 L788.0 381.5 L780.5 385.2 L779.2 394.0 L773.0 389.0 L763.0 391.5 L770.5 384.0 L759.2 371.5Z M668.0 150.0 L684.2 145.0 L683.0 150.0 L676.8 152.5 L680.5 158.8 L673.0 157.5Z" fill="#000" stroke="#000" stroke-width="2" stroke-linejoin="round"/>
</g>
<path d="M1702.8 325.2 L1719.0 323.5 L1737.8 341.5 L1734.5 344.5 L1716.5 332.0 L1704.0 330.2Z" fill="#042333"/>
<path d="M1686.5 415.2 L1694.0 414.0 L1696.5 429.0 L1687.8 426.5Z" fill="#042333"/>
<path d="M1706.5 451.5 L1739.0 459.5 L1741.0 465.2 L1729.0 463.5 L1709.0 456.0Z" fill="#042333"/>
<path d="M1744.0 497.0 L1764.0 494.5 L1774.0 487.0 L1779.0 483.5 L1772.8 496.5 L1754.0 500.5Z" fill="#042333"/>
<path d="M1423.00 836.40 L1423.00 540.41 M1619.70 783.69 L1471.71 527.36 M1763.69 639.70 L1507.36 491.71 M1816.40 443.00 L1520.41 443.00 M1763.69 246.30 L1507.36 394.29 M1619.70 102.31 L1471.71 358.64 M1423.00 49.60 L1423.00 345.59 M1226.30 102.31 L1374.29 358.64 M1082.31 246.30 L1338.64 394.29 M1029.60 443.00 L1325.59 443.00 M1082.31 639.70 L1338.64 491.71 M1226.30 783.69 L1374.29 527.36" fill="none" stroke="#808080" stroke-width="4.1" stroke-dasharray="3.9 3.87"/>
<circle cx="1423.0" cy="443.0" r="195.2" fill="none" stroke="#808080" stroke-width="4.1" stroke-dasharray="3.9 3.87"/>
<circle cx="1423.0" cy="443.0" r="393.4" fill="none" stroke="#808080" stroke-width="4.1" stroke-dasharray="3.9 3.87"/>
</g>
<circle cx="1423.0" cy="443.0" r="393.7" fill="none" stroke="#000" stroke-width="1.5"/>
<text x="476.5" y="35.0" class="gl">-180°E</text>
<text x="241.5" y="88.0" class="gl">-150°E</text>
<text x="708.5" y="88.0" class="gl">150°E</text>
<text x="93.0" y="236.5" class="gl">-120°E</text>
<text x="857.0" y="236.5" class="gl">120°E</text>
<text x="45.0" y="450.0" class="gl">-90°E</text>
<text x="905.0" y="450.0" class="gl">90°E</text>
<text x="98.5" y="660.5" class="gl">-60°E</text>
<text x="851.0" y="660.5" class="gl">60°E</text>
<text x="247.0" y="808.8" class="gl">-30°E</text>
<text x="703.5" y="808.8" class="gl">30°E</text>
<text x="476.0" y="863.0" class="gl">0°</text>
<text x="1423.0" y="35.0" class="gl">-180°E</text>
<text x="1188.0" y="88.0" class="gl">-150°E</text>
<text x="1655.0" y="88.0" class="gl">150°E</text>
<text x="1039.5" y="236.5" class="gl">-120°E</text>
<text x="1803.5" y="236.5" class="gl">120°E</text>
<text x="991.5" y="450.0" class="gl">-90°E</text>
<text x="1851.5" y="450.0" class="gl">90°E</text>
<text x="1045.0" y="660.5" class="gl">-60°E</text>
<text x="1797.5" y="660.5" class="gl">60°E</text>
<text x="1193.5" y="808.8" class="gl">-30°E</text>
<text x="1650.0" y="808.8" class="gl">30°E</text>
<text x="1422.5" y="863.0" class="gl">0°</text>
<text x="114.5" y="87.6" class="pl" textLength="42" lengthAdjust="spacingAndGlyphs">a)</text>
<text x="1060.3" y="87.6" class="pl" textLength="45.5" lengthAdjust="spacingAndGlyphs">b)</text>
<text x="212.3" y="643.3" class="bl" textLength="181.5" lengthAdjust="spacingAndGlyphs">ORCA0083</text>
<text x="264" y="678.8" class="bl" textLength="68" lengthAdjust="spacingAndGlyphs">N06</text>
<text x="1178" y="662.5" class="bl" textLength="126.5" lengthAdjust="spacingAndGlyphs">PHC3.0</text>
<path d="M516.0 939.4 L471.7 954.2 L516.0 969.1 Z" fill="#042333"/>
<rect x="515.70" y="939.4" width="81.80" height="29.7" fill="#0a294d"/>
<rect x="596.90" y="939.4" width="81.80" height="29.7" fill="#25348b"/>
<rect x="678.10" y="939.4" width="81.80" height="29.7" fill="#5a3c9c"/>
<rect x="759.30" y="939.4" width="81.80" height="29.7" fill="#7c4c8f"/>
<rect x="840.50" y="939.4" width="81.80" height="29.7" fill="#9c5987"/>
<rect x="921.70" y="939.4" width="81.80" height="29.7" fill="#c26579"/>
<rect x="1002.90" y="939.4" width="81.80" height="29.7" fill="#e47160"/>
<rect x="1084.10" y="939.4" width="81.80" height="29.7" fill="#f99146"/>
<rect x="1165.30" y="939.4" width="81.80" height="29.7" fill="#fbb93c"/>
<rect x="1246.50" y="939.4" width="81.80" height="29.7" fill="#f0e552"/>
<path d="M1328.0 939.4 L1372.3 954.2 L1328.0 969.1 Z" fill="#e8fa5b"/>
<path d="M516.0 939.4 L1328.0 939.4 L1372.3 954.2 L1328.0 969.1 L516.0 969.1 L471.7 954.2 Z" fill="none" stroke="#000" stroke-width="3.3" stroke-linejoin="miter"/>
<path d="M516.0 969.1 V983.6" stroke="#000" stroke-width="3.2"/>
<text x="516.0" y="1025.5" class="ct">0.0</text>
<path d="M678.4 969.1 V983.6" stroke="#000" stroke-width="3.2"/>
<text x="678.4" y="1025.5" class="ct">0.8</text>
<path d="M840.8 969.1 V983.6" stroke="#000" stroke-width="3.2"/>
<text x="840.8" y="1025.5" class="ct">1.6</text>
<path d="M1003.2 969.1 V983.6" stroke="#000" stroke-width="3.2"/>
<text x="1003.2" y="1025.5" class="ct">2.4</text>
<path d="M1165.6 969.1 V983.6" stroke="#000" stroke-width="3.2"/>
<text x="1165.6" y="1025.5" class="ct">3.2</text>
<path d="M1328.0 969.1 V983.6" stroke="#000" stroke-width="3.2"/>
<text x="1328.0" y="1025.5" class="ct">4.0</text>
<text x="640.5" y="1088" class="cl" style="text-anchor:start;letter-spacing:0" textLength="562" lengthAdjust="spacingAndGlyphs">AW core temperature (˚C)</text>
</svg></body></html>
